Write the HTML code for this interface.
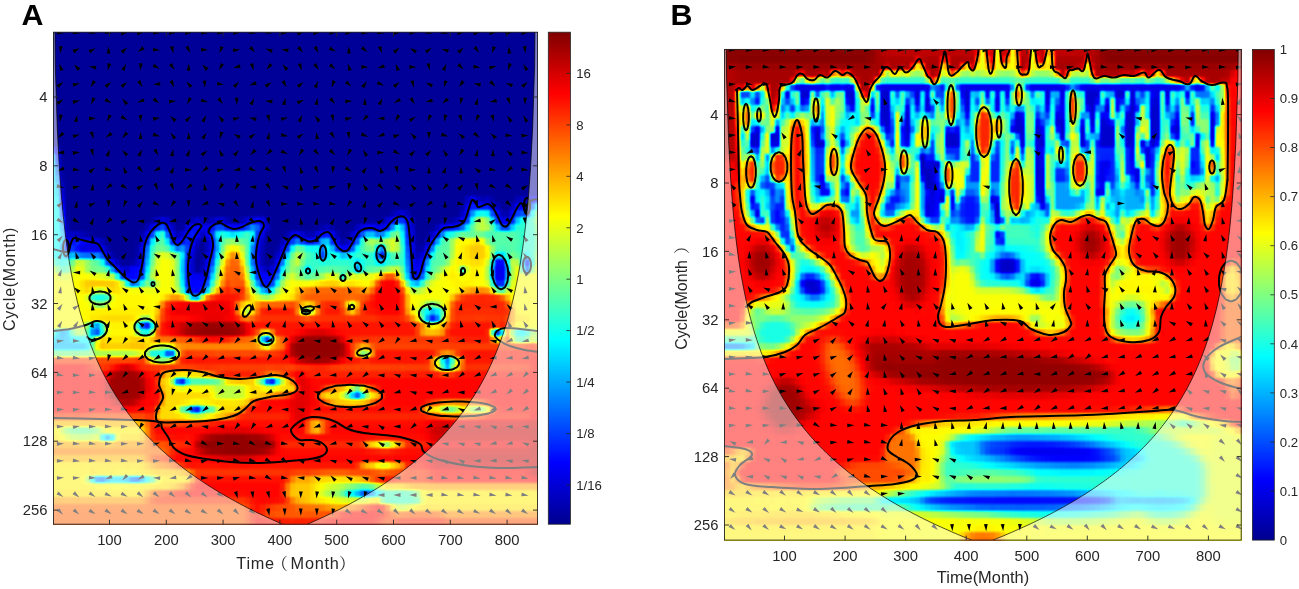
<!DOCTYPE html>
<html lang="en"><head><meta charset="utf-8"><title>Wavelet coherence figure</title>
<style>html,body{margin:0;padding:0;background:#fff}svg{display:block}text{font-family:'Liberation Sans','Noto Sans CJK SC',sans-serif;fill:#262626}</style>
</head><body>
<svg width="1299" height="589" viewBox="0 0 1299 589">
<defs>
<filter id="jet" filterUnits="userSpaceOnUse" x="0" y="0" width="1299" height="589" color-interpolation-filters="sRGB"><feFlood x="2" y="3" width="1" height="1" flood-color="#000" result="dot"/><feComposite in="dot" in2="dot" operator="over" x="0" y="0" width="5" height="7"/><feTile result="grid"/><feComposite in="SourceGraphic" in2="grid" operator="in"/><feMorphology operator="dilate" radius="2 3"/><feGaussianBlur stdDeviation="0.8"/><feComponentTransfer><feFuncR type="table" tableValues="0 0 0 0 0.5 1 1 1 0.5"/><feFuncG type="table" tableValues="0 0 0.5 1 1 1 0.5 0 0"/><feFuncB type="table" tableValues="0.56 1 1 1 0.5 0 0 0 0"/></feComponentTransfer></filter>
<filter id="b1" filterUnits="userSpaceOnUse" x="0" y="0" width="1299" height="589" color-interpolation-filters="sRGB"><feGaussianBlur stdDeviation="1"/></filter>
<filter id="b1_3" filterUnits="userSpaceOnUse" x="0" y="0" width="1299" height="589" color-interpolation-filters="sRGB"><feGaussianBlur stdDeviation="1.3"/></filter>
<filter id="b1_8" filterUnits="userSpaceOnUse" x="0" y="0" width="1299" height="589" color-interpolation-filters="sRGB"><feGaussianBlur stdDeviation="1.8"/></filter>
<filter id="b2" filterUnits="userSpaceOnUse" x="0" y="0" width="1299" height="589" color-interpolation-filters="sRGB"><feGaussianBlur stdDeviation="2"/></filter>
<filter id="b2_8" filterUnits="userSpaceOnUse" x="0" y="0" width="1299" height="589" color-interpolation-filters="sRGB"><feGaussianBlur stdDeviation="2.8"/></filter>
<filter id="b3" filterUnits="userSpaceOnUse" x="0" y="0" width="1299" height="589" color-interpolation-filters="sRGB"><feGaussianBlur stdDeviation="3"/></filter>
<filter id="b3_2" filterUnits="userSpaceOnUse" x="0" y="0" width="1299" height="589" color-interpolation-filters="sRGB"><feGaussianBlur stdDeviation="3.2"/></filter>
<filter id="b5" filterUnits="userSpaceOnUse" x="0" y="0" width="1299" height="589" color-interpolation-filters="sRGB"><feGaussianBlur stdDeviation="5"/></filter>
<clipPath id="clipA"><rect x="53.5" y="32.2" width="484" height="492"/></clipPath>
<clipPath id="clipB"><rect x="724.5" y="49.4" width="516.7" height="490.7"/></clipPath>
<linearGradient id="jetg" x1="0" y1="0" x2="0" y2="1"><stop offset="0" stop-color="#800000"/><stop offset="0.125" stop-color="#ff0000"/><stop offset="0.25" stop-color="#ff8000"/><stop offset="0.375" stop-color="#ffff00"/><stop offset="0.5" stop-color="#80ff80"/><stop offset="0.625" stop-color="#00ffff"/><stop offset="0.75" stop-color="#0080ff"/><stop offset="0.875" stop-color="#0000ff"/><stop offset="1" stop-color="#00008f"/></linearGradient>
</defs>
<rect width="1299" height="589" fill="#fff"/>
<g clip-path="url(#clipA)">
<g filter="url(#jet)">
<rect x="13.5" y="-7.8" width="564" height="572" fill="#030303"/>
<g filter="url(#b5)">
<rect x="20" y="236" width="560" height="120" fill="#9e9e9e"/>
<rect x="20" y="338" width="560" height="230" fill="#dedede"/>
<rect x="20" y="262" width="62" height="70" fill="#a3a3a3"/>
<ellipse cx="72" cy="288" rx="14" ry="22" fill="#b8b8b8"/>
<rect x="20" y="326" width="66" height="16" fill="#666666"/>
<rect x="20" y="420" width="128" height="110" fill="#a3a3a3"/>
<rect x="20" y="444" width="150" height="14" fill="#c2c2c2"/>
<rect x="20" y="500" width="230" height="40" fill="#c7c7c7"/>
<rect x="505" y="205" width="60" height="75" fill="#6b6b6b"/>
<rect x="512" y="285" width="60" height="40" fill="#999999"/>
<rect x="500" y="326" width="60" height="24" fill="#666666"/>
<rect x="430" y="420" width="140" height="62" fill="#ededed"/>
<rect x="392" y="484" width="180" height="30" fill="#a3a3a3"/>
<rect x="380" y="516" width="200" height="30" fill="#cccccc"/>
</g>
<g filter="url(#b3_2)">
<path d="M53 249 L60 251 L66 252 L69 250 L71 243 L74 238 L82 240 L90 242 L98 244 L103 252 L108 260 L116 268 L126 278 L134 282.5 L139 278 L143 260 L144.5 246 L148 236 L154 228 L161 223 L166 224 L170 232 L174 242 L178 245 L183 240 L188 232 L193 226 L198 224 L201.5 226 L199 230 L194 238 L190 250 L188 266 L189 284 L192 294 L196 295.7 L201 292 L206 278 L210 260 L213 246 L211.5 236 L208.5 232 L212 226 L220 223 L226 226 L234 229 L242 227 L250 223 L258 221 L262 222 L264 226 L260 234 L257 246 L256 260 L259 274 L263 284 L266.5 287 L270.5 282 L276 270 L282 256 L288 242 L295 235 L302 238.5 L309 241.5 L316 240 L322 234 L328 232 L332 236 L337 246 L343 251 L348 250 L353 242 L358 233 L364 229 L372 228 L380 231 L386 228 L392 221 L398 217 L404 217 L408 223 L410 240 L412 264 L413 276 L416 279 L420 274 L424 260 L430 246 L438 234 L444 228 L452 227 L460 225 L465 220 L469 208 L472 200 L475 202 L478 207 L482 206 L488 204 L493 208 L498 217 L502 225 L507 226 L512 218 L517 208 L521 203 L524 208 L526 213 L528 204 L532 200 L538 199 L560 199 L560 345 L20 345 L20 249Z" fill="#9e9e9e" stroke="#787878" stroke-width="24" stroke-linejoin="round"/>
<path d="M53 249 L60 251 L66 252 L69 250 L71 243 L74 238 L82 240 L90 242 L98 244 L103 252 L108 260 L116 268 L126 278 L134 282.5 L139 278 L143 260 L144.5 246 L148 236 L154 228 L161 223 L166 224 L170 232 L174 242 L178 245 L183 240 L188 232 L193 226 L198 224 L201.5 226 L199 230 L194 238 L190 250 L188 266 L189 284 L192 294 L196 295.7 L201 292 L206 278 L210 260 L213 246 L211.5 236 L208.5 232 L212 226 L220 223 L226 226 L234 229 L242 227 L250 223 L258 221 L262 222 L264 226 L260 234 L257 246 L256 260 L259 274 L263 284 L266.5 287 L270.5 282 L276 270 L282 256 L288 242 L295 235 L302 238.5 L309 241.5 L316 240 L322 234 L328 232 L332 236 L337 246 L343 251 L348 250 L353 242 L358 233 L364 229 L372 228 L380 231 L386 228 L392 221 L398 217 L404 217 L408 223 L410 240 L412 264 L413 276 L416 279 L420 274 L424 260 L430 246 L438 234 L444 228 L452 227 L460 225 L465 220 L469 208 L472 200 L475 202 L478 207 L482 206 L488 204 L493 208 L498 217 L502 225 L507 226 L512 218 L517 208 L521 203 L524 208 L526 213 L528 204 L532 200 L538 199 L560 199 L560 345 L20 345 L20 249Z" fill="none" stroke="#4c4c4c" stroke-width="12" stroke-linejoin="round"/>
<ellipse cx="352" cy="260" rx="52" ry="13" fill="#6b6b6b"/>
<ellipse cx="310" cy="272" rx="16" ry="8" fill="#737373"/>
<ellipse cx="470" cy="238" rx="34" ry="9" fill="#6b6b6b"/>
<ellipse cx="100" cy="254" rx="26" ry="7" fill="#6b6b6b"/>
<ellipse cx="285" cy="262" rx="8" ry="14" fill="#737373"/>
<ellipse cx="148" cy="252" rx="6" ry="14" fill="#6b6b6b"/>
<ellipse cx="222" cy="236" rx="22" ry="6" fill="#6b6b6b"/>
<ellipse cx="245" cy="238" rx="10" ry="8" fill="#737373"/>
<ellipse cx="432" cy="262" rx="8" ry="16" fill="#737373"/>
<ellipse cx="527" cy="240" rx="12" ry="30" fill="#6b6b6b"/>
<ellipse cx="64" cy="262" rx="10" ry="12" fill="#6b6b6b"/>
<path d="M150 352C151.3 345.7 155.3 330.7 158 322C160.7 313.3 159 304.3 166 300C173 295.7 191 297.7 200 296C209 294.3 215.8 295.3 220 290C224.2 284.7 222.7 269.8 225 264C227.3 258.2 231 255 234 255C237 255 240.8 257.8 243 264C245.2 270.2 244.8 285.7 247 292C249.2 298.3 250.2 300.2 256 302C261.8 303.8 274.7 303.2 282 303C289.3 302.8 292 301.5 300 301C308 300.5 319.3 300.2 330 300C340.7 299.8 357.2 301.3 364 300C370.8 298.7 368.5 295.5 371 292C373.5 288.5 375.5 281.7 379 279C382.5 276.3 388.2 275.2 392 276C395.8 276.8 399.7 278.3 402 284C404.3 289.7 403 303.3 406 310C409 316.7 413.3 321.3 420 324C426.7 326.7 440.7 329.7 446 326C451.3 322.3 448 307.8 452 302C456 296.2 462 292.5 470 291C478 289.5 493 289.8 500 293C507 296.2 510 303.5 512 310C514 316.5 506.5 326.2 512 332C517.5 337.8 539.5 340.3 545 345C550.5 349.7 610.8 357.5 545 360C479.2 362.5 215.8 361.3 150 360C84.2 358.7 148.7 358.3 150 352Z" fill="#dbdbdb"/>
<ellipse cx="234" cy="272" rx="9" ry="20" fill="#c7c7c7"/>
<ellipse cx="205" cy="322" rx="40" ry="22" fill="#e6e6e6"/>
<ellipse cx="390" cy="300" rx="16" ry="26" fill="#e0e0e0"/>
<ellipse cx="333" cy="294" rx="38" ry="9" fill="#c7c7c7"/>
<ellipse cx="480" cy="305" rx="30" ry="14" fill="#d6d6d6"/>
<ellipse cx="462" cy="262" rx="20" ry="26" fill="#a3a3a3"/>
<ellipse cx="478" cy="250" rx="10" ry="14" fill="#adadad"/>
<ellipse cx="506" cy="243" rx="15" ry="17" fill="#757575"/>
<ellipse cx="440" cy="250" rx="13" ry="20" fill="#757575"/>
<ellipse cx="110" cy="268" rx="26" ry="8" fill="#7a7a7a"/>
<ellipse cx="162" cy="240" rx="8" ry="12" fill="#757575"/>
<rect x="95" y="338" width="190" height="12" fill="#b8b8b8"/>
<ellipse cx="247" cy="309" rx="11" ry="10" fill="#a8a8a8"/>
<ellipse cx="308" cy="309" rx="12" ry="6" fill="#a8a8a8"/>
<ellipse cx="352" cy="307" rx="9" ry="6" fill="#a8a8a8"/>
<ellipse cx="230" cy="351" rx="50" ry="3.5" fill="#c4c4c4"/>
<ellipse cx="330" cy="371" rx="120" ry="3" fill="#c7c7c7" opacity="0.6"/>
<ellipse cx="400" cy="340" rx="60" ry="3" fill="#c7c7c7" opacity="0.6"/>
<ellipse cx="118" cy="310" rx="34" ry="34" fill="#a1a1a1"/>
<ellipse cx="100" cy="286" rx="20" ry="10" fill="#adadad"/>
<ellipse cx="150" cy="478" rx="45" ry="14" fill="#a3a3a3"/>
<rect x="90" y="314.5" width="440" height="7" fill="#bdbdbd" opacity="0.35"/>
<rect x="90" y="342.5" width="440" height="7" fill="#bdbdbd" opacity="0.5"/>
<rect x="90" y="363.5" width="440" height="7" fill="#bdbdbd" opacity="0.45"/>
<rect x="90" y="412.5" width="440" height="7" fill="#bdbdbd" opacity="0.35"/>
<rect x="90" y="440.5" width="440" height="7" fill="#bdbdbd" opacity="0.4"/>
<rect x="90" y="468.5" width="440" height="7" fill="#bdbdbd" opacity="0.45"/>
<ellipse cx="126" cy="386" rx="20" ry="20" fill="#f7f7f7"/>
<ellipse cx="214" cy="330" rx="34" ry="10" fill="#fafafa"/>
<ellipse cx="318" cy="349" rx="30" ry="16" fill="#fafafa"/>
<ellipse cx="236" cy="445" rx="42" ry="13" fill="#fafafa"/>
<ellipse cx="300" cy="400" rx="10" ry="30" fill="#e6e6e6"/>
<ellipse cx="335" cy="492" rx="50" ry="17" fill="#a3a3a3"/>
<ellipse cx="360" cy="492" rx="40" ry="8" fill="#858585"/>
<ellipse cx="300" cy="490" rx="14" ry="14" fill="#adadad"/>
<ellipse cx="300" cy="512" rx="40" ry="8" fill="#c7c7c7"/>
<ellipse cx="420" cy="522" rx="30" ry="8" fill="#d6d6d6"/>
</g>
<g filter="url(#b2)">
<path d="M20 10 L560 10 L560 199 L538 199 L532 200 L528 204 L526 213 L524 208 L521 203 L517 208 L512 218 L507 226 L502 225 L498 217 L493 208 L488 204 L482 206 L478 207 L475 202 L472 200 L469 208 L465 220 L460 225 L452 227 L444 228 L438 234 L430 246 L424 260 L420 274 L416 279 L413 276 L412 264 L410 240 L408 223 L404 217 L398 217 L392 221 L386 228 L380 231 L372 228 L364 229 L358 233 L353 242 L348 250 L343 251 L337 246 L332 236 L328 232 L322 234 L316 240 L309 241.5 L302 238.5 L295 235 L288 242 L282 256 L276 270 L270.5 282 L266.5 287 L263 284 L259 274 L256 260 L257 246 L260 234 L264 226 L262 222 L258 221 L250 223 L242 227 L234 229 L226 226 L220 223 L212 226 L208.5 232 L211.5 236 L213 246 L210 260 L206 278 L201 292 L196 295.7 L192 294 L189 284 L188 266 L190 250 L194 238 L199 230 L201.5 226 L198 224 L193 226 L188 232 L183 240 L178 245 L174 242 L170 232 L166 224 L161 223 L154 228 L148 236 L144.5 246 L143 260 L139 278 L134 282.5 L126 278 L116 268 L108 260 L103 252 L98 244 L90 242 L82 240 L74 238 L71 243 L69 250 L66 252 L60 251 L53 249 L20 249Z" fill="#030303"/>
<path d="M53 249 L60 251 L66 252 L69 250 L71 243 L74 238 L82 240 L90 242 L98 244 L103 252 L108 260 L116 268 L126 278 L134 282.5 L139 278 L143 260 L144.5 246 L148 236 L154 228 L161 223 L166 224 L170 232 L174 242 L178 245 L183 240 L188 232 L193 226 L198 224 L201.5 226 L199 230 L194 238 L190 250 L188 266 L189 284 L192 294 L196 295.7 L201 292 L206 278 L210 260 L213 246 L211.5 236 L208.5 232 L212 226 L220 223 L226 226 L234 229 L242 227 L250 223 L258 221 L262 222 L264 226 L260 234 L257 246 L256 260 L259 274 L263 284 L266.5 287 L270.5 282 L276 270 L282 256 L288 242 L295 235 L302 238.5 L309 241.5 L316 240 L322 234 L328 232 L332 236 L337 246 L343 251 L348 250 L353 242 L358 233 L364 229 L372 228 L380 231 L386 228 L392 221 L398 217 L404 217 L408 223 L410 240 L412 264 L413 276 L416 279 L420 274 L424 260 L430 246 L438 234 L444 228 L452 227 L460 225 L465 220 L469 208 L472 200 L475 202 L478 207 L482 206 L488 204 L493 208 L498 217 L502 225 L507 226 L512 218 L517 208 L521 203 L524 208 L526 213 L528 204 L532 200 L538 199" fill="none" stroke="#212121" stroke-width="9" stroke-linecap="round" stroke-linejoin="round" opacity="0.85"/>
<path d="M20 150 L56 150 L59 180 L62.5 215 L66 245 L67 262 L20 262Z" fill="#616161"/>
<ellipse cx="134" cy="273" rx="7" ry="9" fill="#212121"/>
<ellipse cx="196" cy="284" rx="6" ry="11" fill="#212121"/>
<ellipse cx="266" cy="278" rx="5" ry="8" fill="#212121"/>
<ellipse cx="415" cy="268" rx="3" ry="9" fill="#1f1f1f"/>
<ellipse cx="88" cy="248" rx="13" ry="5" fill="#0f0f0f"/>
<ellipse cx="88" cy="254" rx="16" ry="4" fill="#333333"/>
<ellipse cx="323" cy="253" rx="3.2" ry="7.5" fill="#1f1f1f"/>
<ellipse cx="381" cy="254" rx="4.5" ry="8.5" fill="#1f1f1f"/>
<ellipse cx="358" cy="267" rx="3" ry="4.5" fill="#262626"/>
<ellipse cx="343" cy="278" rx="2.5" ry="3" fill="#333333"/>
<ellipse cx="308" cy="271" rx="2.5" ry="3" fill="#333333"/>
<ellipse cx="463" cy="271" rx="3" ry="3" fill="#404040"/>
<ellipse cx="153" cy="284" rx="2.5" ry="3" fill="#404040"/>
<ellipse cx="500" cy="272" rx="12" ry="22" fill="#5c5c5c" opacity="0.7"/>
<ellipse cx="500" cy="272" rx="7.5" ry="16" fill="#1a1a1a"/>
<ellipse cx="527" cy="265" rx="4" ry="8" fill="#1f1f1f"/>
<ellipse cx="527" cy="206" rx="3" ry="8" fill="#080808"/>
<ellipse cx="66" cy="248" rx="3" ry="8" fill="#1a1a1a"/>
<ellipse cx="100" cy="298" rx="11" ry="7" fill="#666666"/>
<ellipse cx="96" cy="329" rx="10" ry="7" fill="#5c5c5c"/>
<ellipse cx="96" cy="330" rx="5" ry="4.5" fill="#1f1f1f"/>
<ellipse cx="145" cy="327" rx="10" ry="8" fill="#616161"/>
<ellipse cx="146" cy="325" rx="5.5" ry="4.5" fill="#1f1f1f"/>
<ellipse cx="306" cy="312" rx="6" ry="3" fill="#6b6b6b"/>
<ellipse cx="247" cy="311" rx="3" ry="6" fill="#858585" transform="rotate(30 247 311)"/>
<ellipse cx="308" cy="309" rx="7" ry="3" fill="#737373"/>
<ellipse cx="352" cy="307" rx="4" ry="3" fill="#737373"/>
<ellipse cx="432" cy="314" rx="13" ry="10" fill="#666666"/>
<ellipse cx="433" cy="317" rx="6" ry="5" fill="#1f1f1f"/>
<ellipse cx="498" cy="334" rx="7" ry="5" fill="#242424"/>
<ellipse cx="63" cy="335" rx="10" ry="4" fill="#333333"/>
<ellipse cx="520" cy="336" rx="12" ry="4" fill="#333333"/>
<ellipse cx="162" cy="354" rx="19" ry="10" fill="#9e9e9e"/>
<ellipse cx="162" cy="354" rx="15" ry="7" fill="#666666"/>
<ellipse cx="170" cy="353" rx="4.5" ry="4" fill="#1f1f1f"/>
<ellipse cx="266" cy="339" rx="10" ry="8" fill="#9e9e9e"/>
<ellipse cx="266" cy="339" rx="6.5" ry="5" fill="#5c5c5c"/>
<ellipse cx="267" cy="341" rx="4.5" ry="4" fill="#1f1f1f"/>
<ellipse cx="364" cy="352" rx="10" ry="6" fill="#a3a3a3"/>
<ellipse cx="364" cy="352" rx="6" ry="3" fill="#6b6b6b"/>
<ellipse cx="447" cy="363" rx="16" ry="10" fill="#a3a3a3"/>
<ellipse cx="447" cy="363" rx="9" ry="6" fill="#6b6b6b"/>
<ellipse cx="447" cy="364" rx="4.5" ry="4.5" fill="#1a1a1a"/>
<ellipse cx="432" cy="331" rx="14" ry="4" fill="#a8a8a8"/>
<path d="M159 384C159.2 381.3 160.2 376.2 162 374C163.8 371.8 166 371.7 170 371C174 370.3 180.7 369.8 186 370C191.3 370.2 196.3 370.8 202 372C207.7 373.2 213.7 375.8 220 377C226.3 378.2 233.3 379 240 379C246.7 379 254 377.7 260 377C266 376.3 271.3 374.8 276 375C280.7 375.2 284.7 376.5 288 378C291.3 379.5 294.5 382 296 384C297.5 386 298 388.3 297 390C296 391.7 294.5 392.8 290 394C285.5 395.2 276 395.8 270 397C264 398.2 258 399.2 254 401C250 402.8 248.7 405.8 246 408C243.3 410.2 241.3 412.3 238 414C234.7 415.7 231.3 416.8 226 418C220.7 419.2 213.7 420.3 206 421C198.3 421.7 187.8 421.8 180 422C172.2 422.2 163 423 159 422C155 421 156.2 418.3 156 416C155.8 413.7 156.8 411 158 408C159.2 405 162.5 401 163 398C163.5 395 161.7 392.3 161 390C160.3 387.7 158.8 386.7 159 384Z" fill="#a8a8a8"/>
<ellipse cx="198" cy="382" rx="27" ry="4.5" fill="#707070"/>
<ellipse cx="181" cy="382" rx="6.5" ry="4" fill="#1a1a1a"/>
<ellipse cx="270" cy="382" rx="14" ry="4.5" fill="#757575"/>
<ellipse cx="271" cy="382" rx="6.5" ry="4" fill="#1a1a1a"/>
<ellipse cx="198" cy="410" rx="20" ry="5.5" fill="#707070"/>
<ellipse cx="196" cy="410" rx="6.5" ry="4" fill="#1a1a1a"/>
<ellipse cx="230" cy="392" rx="18" ry="8" fill="#8f8f8f"/>
<ellipse cx="350" cy="396" rx="31" ry="10" fill="#a8a8a8"/>
<ellipse cx="356" cy="394" rx="14" ry="5" fill="#757575"/>
<ellipse cx="357" cy="393" rx="6" ry="4" fill="#1a1a1a"/>
<ellipse cx="458" cy="409" rx="36" ry="7" fill="#a3a3a3"/>
<ellipse cx="450" cy="409" rx="10" ry="4" fill="#7a7a7a"/>
<ellipse cx="478" cy="409" rx="10" ry="4" fill="#808080"/>
<ellipse cx="316" cy="427" rx="12" ry="3.5" fill="#9e9e9e"/>
<ellipse cx="316" cy="427" rx="4" ry="2.5" fill="#5c5c5c"/>
<ellipse cx="384" cy="445" rx="20" ry="3.5" fill="#9e9e9e"/>
<ellipse cx="386" cy="445" rx="7" ry="3" fill="#737373"/>
<ellipse cx="382" cy="467" rx="24" ry="3.5" fill="#9e9e9e"/>
<ellipse cx="384" cy="467" rx="8" ry="2.5" fill="#808080"/>
<ellipse cx="364" cy="492" rx="22" ry="4.5" fill="#575757"/>
<ellipse cx="366" cy="492" rx="9" ry="3" fill="#242424"/>
<ellipse cx="400" cy="496" rx="20" ry="4" fill="#4c4c4c"/>
<ellipse cx="82" cy="433" rx="22" ry="4" fill="#6b6b6b"/>
<ellipse cx="108" cy="438" rx="8" ry="3" fill="#333333"/>
<ellipse cx="122" cy="479" rx="36" ry="3.5" fill="#4c4c4c"/>
<ellipse cx="100" cy="479" rx="8" ry="3" fill="#262626"/>
<ellipse cx="136" cy="479" rx="8" ry="3" fill="#262626"/>
<ellipse cx="400" cy="498" rx="22" ry="9" fill="#707070"/>
</g>
</g>
<g fill="none" stroke="#000" stroke-width="2" stroke-linejoin="round" stroke-linecap="round">
<path d="M53 249C54.2 249.3 57.8 250.5 60 251C62.2 251.5 64.5 252.2 66 252C67.5 251.8 68.2 251.5 69 250C69.8 248.5 70.2 245 71 243C71.8 241 72.2 238.5 74 238C75.8 237.5 79.3 239.3 82 240C84.7 240.7 87.3 241.3 90 242C92.7 242.7 95.8 242.3 98 244C100.2 245.7 101.3 249.3 103 252C104.7 254.7 105.8 257.3 108 260C110.2 262.7 113 265 116 268C119 271 123 275.6 126 278C129 280.4 131.8 282.5 134 282.5C136.2 282.5 137.5 281.8 139 278C140.5 274.2 142.1 265.3 143 260C143.9 254.7 143.7 250 144.5 246C145.3 242 146.4 239 148 236C149.6 233 151.8 230.2 154 228C156.2 225.8 159 223.7 161 223C163 222.3 164.5 222.5 166 224C167.5 225.5 168.7 229 170 232C171.3 235 172.7 239.8 174 242C175.3 244.2 176.5 245.3 178 245C179.5 244.7 181.3 242.2 183 240C184.7 237.8 186.3 234.3 188 232C189.7 229.7 191.3 227.3 193 226C194.7 224.7 196.6 224 198 224C199.4 224 201.3 225 201.5 226C201.7 227 200.2 228 199 230C197.8 232 195.5 234.7 194 238C192.5 241.3 191 245.3 190 250C189 254.7 188.2 260.3 188 266C187.8 271.7 188.3 279.3 189 284C189.7 288.7 190.8 292.1 192 294C193.2 295.9 194.5 296 196 295.7C197.5 295.4 199.3 294.9 201 292C202.7 289.1 204.5 283.3 206 278C207.5 272.7 208.8 265.3 210 260C211.2 254.7 212.8 250 213 246C213.2 242 212.2 238.3 211.5 236C210.8 233.7 208.4 233.7 208.5 232C208.6 230.3 210.1 227.5 212 226C213.9 224.5 217.7 223 220 223C222.3 223 223.7 225 226 226C228.3 227 231.3 228.8 234 229C236.7 229.2 239.3 228 242 227C244.7 226 247.3 224 250 223C252.7 222 256 221.2 258 221C260 220.8 261 221.2 262 222C263 222.8 264.3 224 264 226C263.7 228 261.2 230.7 260 234C258.8 237.3 257.7 241.7 257 246C256.3 250.3 255.7 255.3 256 260C256.3 264.7 257.8 270 259 274C260.2 278 261.8 281.8 263 284C264.2 286.2 265.2 287.3 266.5 287C267.8 286.7 268.9 284.8 270.5 282C272.1 279.2 274.1 274.3 276 270C277.9 265.7 280 260.7 282 256C284 251.3 285.8 245.5 288 242C290.2 238.5 292.7 235.6 295 235C297.3 234.4 299.7 237.4 302 238.5C304.3 239.6 306.7 241.2 309 241.5C311.3 241.8 313.8 241.2 316 240C318.2 238.8 320 235.3 322 234C324 232.7 326.3 231.7 328 232C329.7 232.3 330.5 233.7 332 236C333.5 238.3 335.2 243.5 337 246C338.8 248.5 341.2 250.3 343 251C344.8 251.7 346.3 251.5 348 250C349.7 248.5 351.3 244.8 353 242C354.7 239.2 356.2 235.2 358 233C359.8 230.8 361.7 229.8 364 229C366.3 228.2 369.3 227.7 372 228C374.7 228.3 377.7 231 380 231C382.3 231 384 229.7 386 228C388 226.3 390 222.8 392 221C394 219.2 396 217.7 398 217C400 216.3 402.3 216 404 217C405.7 218 407 219.2 408 223C409 226.8 409.3 233.2 410 240C410.7 246.8 411.5 258 412 264C412.5 270 412.3 273.5 413 276C413.7 278.5 414.8 279.3 416 279C417.2 278.7 418.7 277.2 420 274C421.3 270.8 422.3 264.7 424 260C425.7 255.3 427.7 250.3 430 246C432.3 241.7 435.7 237 438 234C440.3 231 441.7 229.2 444 228C446.3 226.8 449.3 227.5 452 227C454.7 226.5 457.8 226.2 460 225C462.2 223.8 463.5 222.8 465 220C466.5 217.2 467.8 211.3 469 208C470.2 204.7 471 201 472 200C473 199 474 200.8 475 202C476 203.2 476.8 206.3 478 207C479.2 207.7 480.3 206.5 482 206C483.7 205.5 486.2 203.7 488 204C489.8 204.3 491.3 205.8 493 208C494.7 210.2 496.5 214.2 498 217C499.5 219.8 500.5 223.5 502 225C503.5 226.5 505.3 227.2 507 226C508.7 224.8 510.3 221 512 218C513.7 215 515.5 210.5 517 208C518.5 205.5 519.8 203 521 203C522.2 203 523.2 206.3 524 208C524.8 209.7 525.3 213.7 526 213C526.7 212.3 527 206.2 528 204C529 201.8 530.3 200.8 532 200C533.7 199.2 537 199.2 538 199"/>
<path d="M326.2 253C326.2 255.2 326.3 254.3 325.9 256.3C325.5 258.2 325.7 257.5 325 258.9C324.3 260.2 324.6 259.8 323.7 260.3C322.8 260.8 323.2 260.8 322.3 260.3C321.4 259.8 321.7 260.2 321 258.9C320.3 257.5 320.5 258.2 320.1 256.3C319.7 254.3 319.8 255.2 319.8 253C319.8 250.8 319.7 251.7 320.1 249.7C320.5 247.8 320.3 248.5 321 247.1C321.7 245.8 321.4 246.2 322.3 245.7C323.2 245.2 322.8 245.2 323.7 245.7C324.6 246.2 324.3 245.8 325 247.1C325.7 248.5 325.5 247.8 325.9 249.7C326.3 251.7 326.2 250.8 326.2 253Z"/>
<path d="M385.5 254C385.5 256.5 385.6 255.5 385.1 257.7C384.5 259.9 384.8 259.1 383.8 260.6C382.8 262.2 383.3 261.7 382 262.3C380.7 262.8 381.3 262.8 380 262.3C378.7 261.7 379.2 262.2 378.2 260.6C377.2 259.1 377.5 259.9 376.9 257.7C376.4 255.5 376.5 256.5 376.5 254C376.5 251.5 376.4 252.5 376.9 250.3C377.5 248.1 377.2 248.9 378.2 247.4C379.2 245.8 378.7 246.3 380 245.7C381.3 245.2 380.7 245.2 382 245.7C383.3 246.3 382.8 245.8 383.8 247.4C384.8 248.9 384.5 248.1 385.1 250.3C385.6 252.5 385.5 251.5 385.5 254Z"/>
<path d="M360.8 266C361.3 267.2 361.2 266.7 361.2 267.9C361.3 269.1 361.3 268.7 361 269.7C360.6 270.7 360.8 270.3 360.1 270.9C359.4 271.5 359.8 271.3 358.9 271.4C358 271.4 358.4 271.5 357.4 270.9C356.5 270.4 356.9 270.7 356.1 269.8C355.4 268.8 355.6 269.2 355.2 268C354.7 266.8 354.8 267.3 354.8 266.1C354.7 264.9 354.7 265.3 355 264.3C355.4 263.3 355.2 263.7 355.9 263.1C356.6 262.5 356.2 262.7 357.1 262.6C358 262.6 357.6 262.5 358.6 263.1C359.5 263.6 359.1 263.3 359.9 264.2C360.6 265.2 360.4 264.8 360.8 266Z"/>
<path d="M345.5 278C345.5 278.9 345.6 278.5 345.3 279.3C344.9 280.1 345.1 279.8 344.6 280.3C344 280.9 344.3 280.7 343.6 280.9C342.9 281.1 343.1 281.1 342.4 280.9C341.7 280.7 342 280.9 341.4 280.3C340.9 279.8 341.1 280.1 340.7 279.3C340.4 278.5 340.5 278.9 340.5 278C340.5 277.1 340.4 277.5 340.7 276.7C341.1 275.9 340.9 276.2 341.4 275.7C342 275.1 341.7 275.3 342.4 275.1C343.1 274.9 342.9 274.9 343.6 275.1C344.3 275.3 344 275.1 344.6 275.7C345.1 276.2 344.9 275.9 345.3 276.7C345.6 277.5 345.5 277.1 345.5 278Z"/>
<path d="M310 271C310 271.7 310.1 271.4 309.8 272.1C309.6 272.7 309.7 272.5 309.2 273C308.8 273.4 309 273.3 308.4 273.4C307.9 273.6 308.1 273.6 307.6 273.4C307 273.3 307.2 273.4 306.8 273C306.3 272.5 306.4 272.7 306.2 272.1C305.9 271.4 306 271.7 306 271C306 270.3 305.9 270.6 306.2 269.9C306.4 269.3 306.3 269.5 306.8 269C307.2 268.6 307 268.7 307.6 268.6C308.1 268.4 307.9 268.4 308.4 268.6C309 268.7 308.8 268.6 309.2 269C309.7 269.5 309.6 269.3 309.8 269.9C310.1 270.6 310 270.3 310 271Z"/>
<path d="M465 271C465 271.9 465.1 271.5 464.8 272.3C464.6 273.1 464.7 272.8 464.2 273.3C463.8 273.9 464 273.7 463.4 273.9C462.9 274.1 463.1 274.1 462.6 273.9C462 273.7 462.2 273.9 461.8 273.3C461.3 272.8 461.4 273.1 461.2 272.3C460.9 271.5 461 271.9 461 271C461 270.1 460.9 270.5 461.2 269.7C461.4 268.9 461.3 269.2 461.8 268.7C462.2 268.1 462 268.3 462.6 268.1C463.1 267.9 462.9 267.9 463.4 268.1C464 268.3 463.8 268.1 464.2 268.7C464.7 269.2 464.6 268.9 464.8 269.7C465.1 270.5 465 270.1 465 271Z"/>
<path d="M154.5 284C154.5 284.6 154.5 284.3 154.4 284.9C154.2 285.4 154.3 285.2 153.9 285.6C153.6 285.9 153.8 285.8 153.3 285.9C152.9 286.1 153.1 286.1 152.7 285.9C152.2 285.8 152.4 285.9 152.1 285.6C151.7 285.2 151.8 285.4 151.6 284.9C151.5 284.3 151.5 284.6 151.5 284C151.5 283.4 151.5 283.7 151.6 283.1C151.8 282.6 151.7 282.8 152.1 282.4C152.4 282.1 152.2 282.2 152.7 282.1C153.1 281.9 152.9 281.9 153.3 282.1C153.8 282.2 153.6 282.1 153.9 282.4C154.3 282.8 154.2 282.6 154.4 283.1C154.5 283.7 154.5 283.4 154.5 284Z"/>
<path d="M508 271.3C508.4 276.2 508.4 274.2 507.8 278.7C507.2 283.2 507.7 281.6 506.1 284.8C504.6 288 505.4 287.1 503.2 288.4C501.1 289.6 502 289.6 499.7 288.7C497.3 287.8 498.3 288.6 496.2 285.7C494.1 282.8 494.8 284.3 493.5 280C492.1 275.7 492.5 277.6 492 272.7C491.6 267.8 491.6 269.8 492.2 265.3C492.8 260.8 492.3 262.4 493.9 259.2C495.4 256 494.6 256.9 496.8 255.6C498.9 254.4 498 254.4 500.3 255.3C502.7 256.2 501.7 255.4 503.8 258.3C505.9 261.2 505.2 259.7 506.5 264C507.9 268.3 507.5 266.4 508 271.3Z"/>
<path d="M531 265C531 267.3 531.1 266.4 530.6 268.5C530.1 270.6 530.4 269.8 529.5 271.3C528.6 272.7 529 272.3 527.9 272.8C526.8 273.3 527.2 273.3 526.1 272.8C525 272.3 525.4 272.7 524.5 271.3C523.6 269.8 523.9 270.6 523.4 268.5C522.9 266.4 523 267.3 523 265C523 262.7 522.9 263.6 523.4 261.5C523.9 259.4 523.6 260.2 524.5 258.7C525.4 257.3 525 257.7 526.1 257.2C527.2 256.7 526.8 256.7 527.9 257.2C529 257.7 528.6 257.3 529.5 258.7C530.4 260.2 530.1 259.4 530.6 261.5C531.1 263.6 531 262.7 531 265Z"/>
<path d="M530 206C530 208.3 530.1 207.4 529.7 209.5C529.3 211.6 529.5 210.8 528.9 212.3C528.2 213.7 528.5 213.3 527.7 213.8C526.8 214.3 527.2 214.3 526.3 213.8C525.5 213.3 525.8 213.7 525.1 212.3C524.5 210.8 524.7 211.6 524.3 209.5C523.9 207.4 524 208.3 524 206C524 203.7 523.9 204.6 524.3 202.5C524.7 200.4 524.5 201.2 525.1 199.7C525.8 198.3 525.5 198.7 526.3 198.2C527.2 197.7 526.8 197.7 527.7 198.2C528.5 198.7 528.2 198.3 528.9 199.7C529.5 201.2 529.3 200.4 529.7 202.5C530.1 204.6 530 203.7 530 206Z"/>
<path d="M69 248C69 250.3 69.1 249.4 68.7 251.5C68.3 253.6 68.5 252.8 67.9 254.3C67.2 255.7 67.5 255.3 66.7 255.8C65.8 256.3 66.2 256.3 65.3 255.8C64.5 255.3 64.8 255.7 64.1 254.3C63.5 252.8 63.7 253.6 63.3 251.5C62.9 249.4 63 250.3 63 248C63 245.7 62.9 246.6 63.3 244.5C63.7 242.4 63.5 243.2 64.1 241.7C64.8 240.3 64.5 240.7 65.3 240.2C66.2 239.7 65.8 239.7 66.7 240.2C67.5 240.7 67.2 240.3 67.9 241.7C68.5 243.2 68.3 242.4 68.7 244.5C69.1 246.6 69 245.7 69 248Z"/>
<path d="M110.5 298C110.5 299.9 110.8 299.1 109.5 300.8C108.1 302.5 108.9 301.9 106.5 303.1C104.2 304.3 105.3 303.9 102.3 304.3C99.4 304.8 100.6 304.8 97.7 304.3C94.7 303.9 95.8 304.3 93.5 303.1C91.1 301.9 91.9 302.5 90.5 300.8C89.2 299.1 89.5 299.9 89.5 298C89.5 296.1 89.2 296.9 90.5 295.2C91.9 293.5 91.1 294.1 93.5 292.9C95.8 291.7 94.7 292.1 97.7 291.7C100.6 291.2 99.4 291.2 102.3 291.7C105.3 292.1 104.2 291.7 106.5 292.9C108.9 294.1 108.1 293.5 109.5 295.2C110.8 296.9 110.5 296.1 110.5 298Z"/>
<path d="M155.5 327C155.5 329.5 155.8 328.5 154.5 330.7C153.1 332.9 153.9 332.1 151.5 333.6C149.2 335.2 150.3 334.7 147.3 335.3C144.4 335.8 145.6 335.8 142.7 335.3C139.7 334.7 140.8 335.2 138.5 333.6C136.1 332.1 136.9 332.9 135.5 330.7C134.2 328.5 134.5 329.5 134.5 327C134.5 324.5 134.2 325.5 135.5 323.3C136.9 321.1 136.1 321.9 138.5 320.4C140.8 318.8 139.7 319.3 142.7 318.7C145.6 318.2 144.4 318.2 147.3 318.7C150.3 319.3 149.2 318.8 151.5 320.4C153.9 321.9 153.1 321.1 154.5 323.3C155.8 325.5 155.5 324.5 155.5 327Z"/>
<path d="M310 312C310 312.6 310.1 312.4 309.6 313C309.1 313.5 309.4 313.3 308.5 313.7C307.6 314.1 308 314 306.9 314.1C305.8 314.3 306.2 314.3 305.1 314.1C304 314 304.4 314.1 303.5 313.7C302.6 313.3 302.9 313.5 302.4 313C301.9 312.4 302 312.6 302 312C302 311.4 301.9 311.6 302.4 311C302.9 310.5 302.6 310.7 303.5 310.3C304.4 309.9 304 310 305.1 309.9C306.2 309.7 305.8 309.7 306.9 309.9C308 310 307.6 309.9 308.5 310.3C309.4 310.7 309.1 310.5 309.6 311C310.1 311.6 310 311.4 310 312Z"/>
<path d="M249.6 312.5C248.7 314.1 249.1 313.5 247.9 314.8C246.8 316.1 247.3 315.7 246.1 316.3C244.9 317 245.4 316.9 244.4 316.8C243.5 316.8 243.8 316.9 243.3 316.2C242.7 315.4 242.8 315.8 242.8 314.5C242.8 313.1 242.7 313.7 243.2 312.1C243.8 310.4 243.5 311.1 244.4 309.5C245.3 307.9 244.9 308.5 246.1 307.2C247.2 305.9 246.7 306.3 247.9 305.7C249.1 305 248.6 305.1 249.6 305.2C250.5 305.2 250.2 305.1 250.7 305.8C251.3 306.6 251.2 306.2 251.2 307.5C251.2 308.9 251.3 308.3 250.8 309.9C250.2 311.6 250.5 310.9 249.6 312.5Z"/>
<path d="M313.9 308C314 308.7 314.1 308.4 313.5 309.1C312.9 309.9 313.3 309.6 312 310.3C310.8 311 311.4 310.7 309.7 311.2C308.1 311.6 308.8 311.5 307.1 311.6C305.4 311.8 306.1 311.8 304.7 311.6C303.2 311.4 303.7 311.5 302.9 311C302 310.5 302.2 310.8 302.1 310C302 309.3 301.9 309.6 302.5 308.9C303.1 308.1 302.7 308.4 304 307.7C305.2 307 304.6 307.3 306.3 306.8C307.9 306.4 307.2 306.5 308.9 306.4C310.6 306.2 309.9 306.2 311.3 306.4C312.8 306.6 312.3 306.5 313.1 307C314 307.5 313.8 307.2 313.9 308Z"/>
<path d="M354.2 307C354.2 307.6 354.3 307.4 354 308C353.7 308.5 353.9 308.3 353.4 308.7C352.9 309.1 353.1 309 352.5 309.1C351.9 309.3 352.1 309.3 351.5 309.1C350.9 309 351.1 309.1 350.6 308.7C350.1 308.3 350.3 308.5 350 308C349.7 307.4 349.8 307.6 349.8 307C349.8 306.4 349.7 306.6 350 306C350.3 305.5 350.1 305.7 350.6 305.3C351.1 304.9 350.9 305 351.5 304.9C352.1 304.7 351.9 304.7 352.5 304.9C353.1 305 352.9 304.9 353.4 305.3C353.9 305.7 353.7 305.5 354 306C354.3 306.6 354.2 306.4 354.2 307Z"/>
<path d="M445 314C445 316.9 445.3 315.7 443.7 318.3C442.1 320.9 443 320 440.1 321.8C437.2 323.6 438.6 323.1 434.9 323.7C431.2 324.4 432.8 324.4 429.1 323.7C425.4 323.1 426.8 323.6 423.9 321.8C421 320 421.9 320.9 420.3 318.3C418.7 315.7 419 316.9 419 314C419 311.1 418.7 312.3 420.3 309.7C421.9 307.1 421 308 423.9 306.2C426.8 304.4 425.4 304.9 429.1 304.3C432.8 303.6 431.2 303.6 434.9 304.3C438.6 304.9 437.2 304.4 440.1 306.2C443 308 442.1 307.1 443.7 309.7C445.3 312.3 445 311.1 445 314Z"/>
<path d="M179 354C179 356.5 179.5 355.5 177.3 357.7C175.2 359.9 176.4 359.1 172.6 360.6C168.8 362.2 170.6 361.7 165.8 362.3C161 362.8 163 362.8 158.2 362.3C153.4 361.7 155.2 362.2 151.4 360.6C147.6 359.1 148.8 359.9 146.7 357.7C144.5 355.5 145 356.5 145 354C145 351.5 144.5 352.5 146.7 350.3C148.8 348.1 147.6 348.9 151.4 347.4C155.2 345.8 153.4 346.3 158.2 345.7C163 345.2 161 345.2 165.8 345.7C170.6 346.3 168.8 345.8 172.6 347.4C176.4 348.9 175.2 348.1 177.3 350.3C179.5 352.5 179 351.5 179 354Z"/>
<path d="M273.5 339C273.5 340.7 273.7 340 272.8 341.6C271.8 343.2 272.4 342.6 270.7 343.7C269 344.8 269.8 344.5 267.7 344.8C265.6 345.2 266.4 345.2 264.3 344.8C262.2 344.5 263 344.8 261.3 343.7C259.6 342.6 260.2 343.2 259.2 341.6C258.3 340 258.5 340.7 258.5 339C258.5 337.3 258.3 338 259.2 336.4C260.2 334.8 259.6 335.4 261.3 334.3C263 333.2 262.2 333.5 264.3 333.2C266.4 332.8 265.6 332.8 267.7 333.2C269.8 333.5 269 333.2 270.7 334.3C272.4 335.4 271.8 334.8 272.8 336.4C273.7 338 273.5 337.3 273.5 339Z"/>
<path d="M370.8 350.5C371.1 351.5 371.2 351.1 370.5 352.2C369.8 353.2 370.3 352.8 368.8 353.8C367.4 354.7 368.1 354.4 366.2 355C364.3 355.6 365.2 355.5 363.2 355.7C361.2 355.9 362 355.9 360.3 355.6C358.6 355.3 359.2 355.5 358.1 354.8C357.1 354.1 357.4 354.4 357.2 353.5C356.9 352.5 356.8 352.9 357.5 351.8C358.2 350.8 357.7 351.2 359.2 350.2C360.6 349.3 359.9 349.6 361.8 349C363.7 348.4 362.8 348.5 364.8 348.3C366.8 348.1 366 348.1 367.7 348.4C369.4 348.7 368.8 348.5 369.9 349.2C370.9 349.9 370.6 349.6 370.8 350.5Z"/>
<path d="M459 363C459 365 459.3 364.2 457.8 366C456.3 367.9 457.2 367.2 454.5 368.5C451.8 369.7 453.1 369.4 449.7 369.8C446.3 370.3 447.7 370.3 444.3 369.8C440.9 369.4 442.2 369.7 439.5 368.5C436.8 367.2 437.7 367.9 436.2 366C434.7 364.2 435 365 435 363C435 361 434.7 361.8 436.2 360C437.7 358.1 436.8 358.8 439.5 357.5C442.2 356.3 440.9 356.6 444.3 356.2C447.7 355.7 446.3 355.7 449.7 356.2C453.1 356.6 451.8 356.3 454.5 357.5C457.2 358.8 456.3 358.1 457.8 360C459.3 361.8 459 361 459 363Z"/>
<path d="M382 396C382 399.2 382.8 397.9 378.8 400.8C374.8 403.6 377.2 402.6 370 404.6C362.7 406.6 366.1 406 357.1 406.7C348.1 407.4 351.9 407.4 342.9 406.7C333.9 406 337.3 406.6 330 404.6C322.8 402.6 325.2 403.6 321.2 400.8C317.2 397.9 318 399.2 318 396C318 392.8 317.2 394.1 321.2 391.2C325.2 388.4 322.8 389.4 330 387.4C337.3 385.4 333.9 386 342.9 385.3C351.9 384.6 348.1 384.6 357.1 385.3C366.1 386 362.7 385.4 370 387.4C377.2 389.4 374.8 388.4 378.8 391.2C382.8 394.1 382 392.8 382 396Z"/>
<path d="M495 409C495 411.2 496 410.3 491.3 412.3C486.7 414.2 489.4 413.5 481.1 414.9C472.7 416.2 476.7 415.8 466.2 416.3C455.8 416.8 460.2 416.8 449.8 416.3C439.3 415.8 443.3 416.2 434.9 414.9C426.6 413.5 429.3 414.2 424.7 412.3C420 410.3 421 411.2 421 409C421 406.8 420 407.7 424.7 405.7C429.3 403.8 426.6 404.5 434.9 403.1C443.3 401.8 439.3 402.2 449.8 401.7C460.2 401.2 455.8 401.2 466.2 401.7C476.7 402.2 472.7 401.8 481.1 403.1C489.4 404.5 486.7 403.8 491.3 405.7C496 407.7 495 406.8 495 409Z"/>
<path d="M159 384C159.2 381.3 160.2 376.2 162 374C163.8 371.8 166 371.7 170 371C174 370.3 180.7 369.8 186 370C191.3 370.2 196.3 370.8 202 372C207.7 373.2 213.7 375.8 220 377C226.3 378.2 233.3 379 240 379C246.7 379 254 377.7 260 377C266 376.3 271.3 374.8 276 375C280.7 375.2 284.7 376.5 288 378C291.3 379.5 294.5 382 296 384C297.5 386 298 388.3 297 390C296 391.7 294.5 392.8 290 394C285.5 395.2 276 395.8 270 397C264 398.2 258 399.2 254 401C250 402.8 248.7 405.8 246 408C243.3 410.2 241.3 412.3 238 414C234.7 415.7 231.3 416.8 226 418C220.7 419.2 213.7 420.3 206 421C198.3 421.7 187.8 421.8 180 422C172.2 422.2 163 423 159 422C155 421 156.2 418.3 156 416C155.8 413.7 156.8 411 158 408C159.2 405 162.5 401 163 398C163.5 395 161.7 392.3 161 390C160.3 387.7 158.8 386.7 159 384Z"/>
<path d="M53 331C55.8 330.7 64.5 330 70 329C75.5 328 81.7 326.3 86 325C90.3 323.7 93 321.3 96 321C99 320.7 102.2 321.5 104 323C105.8 324.5 107.3 327.7 107 330C106.7 332.3 104.5 335.3 102 337C99.5 338.7 94.5 340 92 340C89.5 340 87.8 337.5 87 337"/>
<path d="M53 418C60.8 418.2 86.2 418.7 100 419C113.8 419.3 126.2 419.5 136 420C145.8 420.5 154.7 420.7 159 422C163.3 423.3 160.5 425.5 162 428C163.5 430.5 166 433.7 168 437C170 440.3 171 445 174 448C177 451 180.7 453.2 186 455C191.3 456.8 198.7 457.8 206 459C213.3 460.2 221 461.3 230 462C239 462.7 250 463.2 260 463C270 462.8 281.7 461.7 290 461C298.3 460.3 304.7 459.8 310 459C315.3 458.2 319.2 457.5 322 456C324.8 454.5 327 452.2 327 450C327 447.8 324.5 444.7 322 443C319.5 441.3 315.7 440.5 312 440C308.3 439.5 303 440.7 300 440C297 439.3 295.5 437.7 294 436C292.5 434.3 290.7 432 291 430C291.3 428 293.8 425.8 296 424C298.2 422.2 301.3 420.2 304 419C306.7 417.8 308.7 417.2 312 417C315.3 416.8 320 417.2 324 418C328 418.8 332 420.2 336 422C340 423.8 343.3 427.2 348 429C352.7 430.8 358 432 364 433C370 434 377.3 434.2 384 435C390.7 435.8 398 436.5 404 438C410 439.5 416.7 441.7 420 444C423.3 446.3 420.7 449.3 424 452C427.3 454.7 432.3 457.7 440 460C447.7 462.3 460 464.7 470 466C480 467.3 488.7 467.8 500 468C511.3 468.2 531.7 467.2 538 467"/>
<path d="M538 331C535 330.7 525.5 329.5 520 329C514.5 328.5 508.8 327.7 505 328C501.2 328.3 498.7 329.7 497 331C495.3 332.3 494.5 334.3 495 336C495.5 337.7 497.5 339.3 500 341C502.5 342.7 505.8 344.5 510 346C514.2 347.5 520.3 349 525 350C529.7 351 535.8 351.7 538 352"/>
</g>
<path fill="#000" d="M64.1 33.1L56.8 34.4L57.1 30.6ZM80.1 33.2L72.7 34.3L73.2 30.5ZM96 33.9L88.5 33.5L89.7 29.9ZM112.1 33.3L104.7 34.1L105.3 30.4ZM128 31.8L121.7 35.7L120.6 32ZM144.1 31.8L137.6 35.6L136.6 31.9ZM160.2 32.9L153 34.6L153.1 30.8ZM176.2 32.8L169 34.7L169 30.9ZM192.2 32.4L185.3 35.1L184.9 31.3ZM208.3 32.9L201 34.6L201.1 30.8ZM224.3 33L217 34.5L217.2 30.7ZM240.3 32.7L233.2 34.8L233.1 31ZM256.3 33.5L248.8 33.9L249.6 30.2ZM272.1 34.1L264.7 33.3L266.1 29.7ZM288.4 32.7L281.2 34.8L281.2 31ZM304.2 31.6L298 35.8L296.8 32.2ZM320.4 32.3L313.5 35.2L313 31.5ZM336.4 32.7L329.3 34.8L329.2 31ZM352.4 32.4L345.5 35.1L345.1 31.3ZM368.5 32.9L361.2 34.6L361.3 30.8ZM384.5 33.3L377.1 34.2L377.6 30.5ZM400.5 32.5L393.5 35L393.2 31.2ZM416.5 32.7L409.4 34.8L409.3 31ZM432.4 34L424.9 33.4L426.2 29.8ZM448.5 33.8L441 33.7L442 30ZM464.6 32.3L457.7 35.2L457.2 31.5ZM480.5 32L473.9 35.5L473.1 31.8ZM496.6 32.4L489.7 35.1L489.2 31.3ZM512.6 32.2L505.8 35.3L505.2 31.6ZM528.7 32.6L521.6 34.9L521.4 31.1ZM60 53.5L59.1 46.1L62.9 46.6ZM79.7 48.3L74.2 53.2L72.5 49.8ZM95.7 48.3L90.2 53.3L88.5 49.9ZM108.6 46.3L110.4 53.5L106.6 53.5ZM127.3 47.6L123.1 53.7L120.6 50.8ZM137.7 52L142.4 46.3L144.6 49.4ZM160.2 50.2L152.9 51.6L153.2 47.8ZM173.6 53.4L169.8 47L173.5 45.9ZM190.3 53.1L185.3 47.6L188.7 45.8ZM208.3 50.1L201 51.6L201.2 47.8ZM219.5 53.3L220.2 45.9L223.7 47.2ZM240.3 49.5L233.4 52.3L232.9 48.5ZM255.1 52.6L249 48.4L251.8 46ZM265.4 48.5L272.8 49.6L271.3 53.1ZM281.2 49.4L288.6 48.5L288.1 52.3ZM303.1 52.7L297 48.4L299.9 45.9ZM318.5 53.1L313.4 47.7L316.8 45.8ZM336 51.6L328.8 50L330.5 46.6ZM348.7 46.3L350.9 53.5L347.1 53.6ZM367.6 52.2L360.9 49.1L363.3 46.2ZM382.1 53.3L377.9 47.2L381.4 45.9ZM399.7 47.6L395.4 53.7L392.9 50.8ZM409.9 48.1L417 50.2L415 53.4ZM431.8 47.8L427.2 53.6L424.9 50.5ZM441.5 48.9L449 49.2L447.9 52.8ZM463.6 47.5L459.7 53.8L457.1 51ZM479.2 52.8L473.3 48.2L476.3 45.9ZM491.8 53.3L492.5 45.9L496 47.2ZM508.8 46.3L511.3 53.3L507.5 53.7ZM525.6 53.5L522.7 46.6L526.5 46.1ZM59.2 63.7L63.6 69.7L60.1 71.1ZM74 64.4L80.4 68.3L77.6 71ZM89 66.3L96.4 65.9L95.7 69.6ZM107.7 70.5L107.6 63.1L111.3 64ZM126.1 63.8L124.7 71.1L121.3 69.5ZM140.3 70.6L139 63.3L142.8 63.6ZM159.8 68.7L152.5 67.1L154.3 63.7ZM174.7 70L169 65.2L172.1 63ZM188.7 63.4L190.5 70.7L186.7 70.6ZM202.2 64.5L208.6 68.3L205.8 70.9ZM219 70.2L220.8 63L224.1 64.8ZM233.3 68L239.6 64.2L240.7 67.9ZM253.9 70.4L249.8 64.3L253.4 63ZM266.5 69.8L269.5 63L272.5 65.4ZM282.5 64.3L288.5 68.6L285.6 71ZM302.1 70.4L297.7 64.4L301.2 63ZM319 69.9L313.2 65.3L316.2 63ZM335.5 69.4L328.9 66.1L331.4 63.2ZM347.7 63.6L351.8 69.8L348.2 71.1ZM368.5 67.3L361.2 68.7L361.4 64.9ZM377.4 67.9L383.9 64.3L384.9 68ZM395.7 63.7L400 69.7L396.4 71.1ZM416.5 67.2L409.3 68.8L409.4 65ZM429.6 70.6L426.5 63.8L430.2 63.2ZM446.4 63.7L445.3 71.1L441.8 69.6ZM463.5 69.6L457.1 65.8L459.9 63.1ZM480.6 67.5L473.2 68.5L473.7 64.7ZM496.5 66.1L490 69.8L489.1 66.1ZM508.1 70.5L508.2 63.1L511.9 64.1ZM523.3 63.9L528.5 69.2L525.2 71.1ZM63.2 81.8L59 88L56.5 85.1ZM80.1 83.5L73.3 86.7L72.6 83ZM90.7 87.2L92.8 80.1L96 82.1ZM111.4 81.9L106.9 87.9L104.6 84.9ZM127.4 82L122.9 87.9L120.6 84.9ZM142.4 87.3L137.1 82L140.4 80.1ZM153 84.4L160.1 82L160.3 85.8ZM174 87.5L169.5 81.6L173 80.1ZM186.2 81.5L192.5 85.5L189.7 88.1ZM204.9 87.8L202.6 80.7L206.4 80.5ZM224.2 84.8L216.8 85.4L217.5 81.7ZM239.2 81.6L235.6 88.1L232.9 85.4ZM249.4 85.4L255.4 81.1L256.8 84.7ZM271.8 82.2L266.8 87.7L264.7 84.5ZM286.5 87.3L281.4 82L284.7 80.1ZM303.6 81.9L299.2 87.9L296.8 84.9ZM318.2 80.8L317.2 88.2L313.7 86.7ZM331.6 87.6L332.3 80.1L335.8 81.4ZM351.6 86.5L344.9 83.3L347.4 80.4ZM367 81.2L364.3 88.2L361.2 86ZM384.2 85.5L376.8 84.5L378.3 81ZM399.7 81.9L395.3 87.9L392.9 84.9ZM413.7 87.7L410.4 81L414.1 80.3ZM425.7 82.5L433 84.1L431.3 87.5ZM444.1 87.6L444.1 80.2L447.7 81.2ZM458.9 87.1L461.6 80.1L464.7 82.4ZM473.5 83.4L480.9 83L480.2 86.8ZM495.6 86.7L489.1 83L491.8 80.3ZM505.7 82.9L513.1 83.7L511.7 87.2ZM527.7 81.7L523.7 88L521.2 85.2ZM63.4 99.1L58.8 105L56.5 102ZM80 100.5L73.4 103.9L72.6 100.2ZM91.1 104.6L92.2 97.2L95.7 98.7ZM111.7 103L104.5 101.2L106.3 97.9ZM122.3 98.5L128.3 102.9L125.3 105.3ZM137.2 102.5L143.3 98.2L144.6 101.8ZM159.4 103.5L152.6 100.5L155 97.5ZM176.2 100.9L169.2 103.5L168.9 99.7ZM187.1 104.5L188.5 97.2L191.9 98.8ZM208.1 102.3L200.7 102.1L201.8 98.4ZM222.8 104.2L217.1 99.4L220.2 97.2ZM236.7 104.9L234.8 97.7L238.6 97.7ZM254.3 98.1L252.8 105.3L249.4 103.7ZM265.2 101.1L272.5 99.6L272.2 103.4ZM285.8 97.8L285.6 105.3L281.9 104.2ZM304.1 99.7L298.4 104.5L296.7 101.1ZM317.3 97.7L318.3 105.1L314.5 104.6ZM335.1 104.1L329.1 99.7L332.1 97.3ZM352.5 101.1L345.3 103.3L345.2 99.5ZM365 97.7L366.7 104.9L362.9 104.8ZM382.4 98L381.2 105.3L377.7 103.8ZM393.7 102.9L399.2 97.9L401 101.3ZM414.8 104.3L409.4 99.2L412.6 97.2ZM425.5 102.1L432 98.6L432.9 102.3ZM442.2 103.5L446.6 97.5L449 100.5ZM460.4 104.8L459.7 97.4L463.4 98ZM478 97.8L477.8 105.3L474.2 104.2ZM489.5 102L496.2 98.7L497 102.4ZM510.3 104.6L506 98.6L509.6 97.2ZM525.1 104.9L523.2 97.7L527 97.7ZM60 122L59.1 114.6L62.9 115.1ZM77.3 114.9L77.6 122.3L73.9 121.5ZM96.1 118.3L89 120.4L88.9 116.6ZM107 121.7L108.4 114.3L111.8 115.9ZM127.7 120.2L120.5 118.2L122.4 114.9ZM140.7 122L138.6 114.9L142.4 114.7ZM160.2 117.8L153.4 120.9L152.8 117.1ZM169.9 116.1L176.6 119.2L174.2 122.2ZM191.2 115.8L187.5 122.3L184.8 119.7ZM206.2 115.2L204.8 122.5L201.4 120.8ZM218.4 115.6L224.5 119.9L221.6 122.4ZM240.2 117.5L233.7 121.1L232.8 117.5ZM249.3 117.4L256.7 117.6L255.6 121.2ZM269.6 121.9L266.1 115.3L269.8 114.5ZM288.3 117.6L281.7 121.1L280.8 117.4ZM302.3 115.1L301 122.5L297.5 120.8ZM314.6 115.6L320.6 120L317.6 122.4ZM333.3 122L330.5 115.1L334.2 114.6ZM352.4 117.7L345.7 121L345 117.2ZM362.4 121L366 114.5L368.7 117.1ZM377.3 118.5L384.4 116.4L384.6 120.2ZM395 121.5L397.2 114.3L400.4 116.3ZM415.9 116.4L411 122L408.9 118.9ZM427.3 121.6L428.9 114.3L432.3 116ZM444.5 122L443.6 114.6L447.4 115.1ZM462.2 121.8L458 115.7L461.6 114.4ZM475.4 121.6L476.9 114.3L480.3 116ZM493.9 121.9L490.4 115.3L494.1 114.5ZM507.1 115.4L512.6 120.4L509.5 122.5ZM523.5 115.2L528.4 120.8L525 122.5ZM57.8 137.9L62 131.7L64.5 134.6ZM80 134.5L73.6 138.3L72.5 134.7ZM93.6 139L89.7 132.6L93.3 131.5ZM105.6 137.6L110.4 131.9L112.6 135ZM122.2 138.2L125.5 131.6L128.4 134ZM140.6 131.9L142.5 139.1L138.7 139.1ZM160 136.6L152.6 136.2L153.8 132.6ZM170.4 132.7L176.3 137.2L173.3 139.5ZM188.5 131.9L190.7 139L186.9 139.2ZM206.6 132.4L204.4 139.6L201.2 137.6ZM219.7 139L219.9 131.5L223.6 132.6ZM233.6 133.7L240.8 135.7L238.9 139ZM255.7 133.5L250.8 139.1L248.7 135.9ZM269.4 132L269.9 139.4L266.2 138.7ZM288.3 136.2L280.9 136.7L281.6 133ZM303.8 133.5L298.8 139.1L296.7 135.9ZM316.3 132L319.2 138.8L315.4 139.3ZM334.8 138.5L329.3 133.5L332.5 131.5ZM349.4 139.1L346.5 132.2L350.2 131.7ZM368.2 136.9L360.8 135.8L362.3 132.3ZM377.6 136.8L383.5 132.4L384.9 136ZM400.3 134.4L394.1 138.4L392.9 134.8ZM410.4 133L416.8 136.7L414.2 139.4ZM429 139.1L427 131.9L430.8 131.9ZM448.4 136.6L441 136.2L442.1 132.6ZM458.2 133.3L465 136.2L462.7 139.2ZM479.8 137.8L473 134.7L475.5 131.8ZM490.3 133.2L497 136.4L494.5 139.3ZM512.6 135.9L505.3 137L505.7 133.2ZM528.7 135.5L521.5 137.5L521.4 133.7ZM56.9 153L63.9 150.4L64.3 154.2ZM80.1 152.3L73.1 154.9L72.7 151.1ZM93.3 156.2L89.9 149.5L93.7 148.7ZM109.7 149.2L109.2 156.7L105.6 155.4ZM122.1 150.1L128.4 153.9L125.7 156.5ZM142.5 149.6L140.3 156.7L137.1 154.7ZM158.3 155.8L153.3 150.3L156.6 148.6ZM173.4 149.1L173.7 156.6L170 155.7ZM190 149.3L189.1 156.7L185.6 155.3ZM207.5 150.4L203 156.4L200.7 153.4ZM219 149.5L224.1 154.9L220.7 156.7ZM239.1 149.9L235.8 156.6L232.9 154.1ZM250.3 155.3L253.8 148.7L256.6 151.3ZM266.1 155.1L270.1 148.8L272.7 151.6ZM288.1 153.9L280.7 153.1L282.1 149.6ZM298.9 155.7L301.1 148.6L304.3 150.6ZM319.2 155.3L313 151.2L315.9 148.7ZM335.3 155.2L329 151.4L331.7 148.7ZM347.1 155.8L348.9 148.6L352.3 150.4ZM363.2 149.4L368.2 155L364.9 156.7ZM384.5 152.6L377.3 154.6L377.3 150.8ZM400.1 154.4L392.9 152.5L394.7 149.2ZM415.5 150.2L411.6 156.5L409 153.8ZM431.5 150.1L427.7 156.5L425.1 153.8ZM443.2 149.5L448.4 154.8L445.2 156.7ZM459.2 155.7L461.2 148.6L464.5 150.5ZM477.6 149.1L478.3 156.5L474.5 155.9ZM493.3 149L494.7 156.4L490.9 156.1ZM506.4 150.2L513 153.6L510.5 156.5ZM528.7 152.9L521.4 154.3L521.6 150.5ZM57.2 171.2L63.1 166.6L64.6 170.1ZM80.1 170.2L72.7 171.2L73.2 167.4ZM95.4 167.6L90.8 173.4L88.5 170.4ZM112.1 170.6L104.6 170.7L105.5 167ZM123.4 166.4L127.6 172.5L124 173.8ZM143 172.5L136.8 168.3L139.7 165.8ZM153.4 171.3L159 166.5L160.7 169.9ZM173.8 166.4L173.2 173.8L169.6 172.5ZM192.3 169.9L185 171.5L185.1 167.7ZM201.8 171.9L206.4 166.1L208.7 169.1ZM224.2 169L217.6 172.4L216.8 168.7ZM233.2 170.5L239.9 167.2L240.6 170.9ZM256.1 171.2L248.7 170.1L250.2 166.6ZM271.9 171.4L264.7 169.8L266.5 166.4ZM286 173.1L281.8 167L285.3 165.7ZM299.8 166.3L303.6 172.7L300 173.8ZM318.4 173L313.5 167.4L316.9 165.7ZM332.4 173.3L331.4 166L335.2 166.4ZM351.9 171.7L344.8 169.5L346.8 166.2ZM367 166.9L364.3 173.8L361.2 171.5ZM379.9 166.3L383.8 172.7L380.1 173.8ZM397.6 173.3L394.4 166.6L398.1 165.9ZM416.5 169.7L409.4 171.7L409.3 167.9ZM428.8 166.2L431 173.3L427.2 173.4ZM446.4 166.4L445.4 173.8L441.8 172.4ZM460.8 166.2L463.1 173.2L459.3 173.5ZM474.1 167.7L481.1 170.3L478.9 173.4ZM496.6 170.3L489.2 171.1L489.7 167.4ZM506.3 172.1L510.5 166L513 168.8ZM528.7 170.2L521.3 171.2L521.7 167.4ZM64 187.8L56.5 187.7L57.5 184.1ZM80.1 186.2L73.3 189.4L72.6 185.7ZM92.9 183.3L94.1 190.6L90.3 190.3ZM105.8 189.1L110.2 183.1L112.6 186.1ZM127.7 188.7L120.5 186.7L122.4 183.4ZM143.7 185L138.5 190.4L136.5 187.1ZM158.1 190.2L153.4 184.3L156.9 182.8ZM174.1 190.2L169.4 184.4L172.9 182.8ZM185.8 189.1L190.4 183.2L192.7 186.2ZM204 183.3L207.2 190.1L203.4 190.8ZM218.7 189.8L221.2 182.8L224.3 185ZM235 190.1L236.7 182.8L240.1 184.6ZM249.1 186.7L256.4 185.2L256.2 189ZM270.5 190L265.3 184.7L268.6 182.8ZM281.5 185.4L288.8 186.6L287.3 190.1ZM300.3 183.3L303.2 190.2L299.4 190.7ZM320.2 185.7L314 189.8L312.8 186.2ZM336.3 185.8L329.9 189.7L328.8 186.1ZM348.5 190.5L347.4 183.1L351.2 183.5ZM363 183.8L368.4 189L365.1 190.9ZM383.3 189.6L377.1 185.4L380 182.9ZM394 184.8L401 187.4L398.8 190.5ZM410.5 184.2L416.8 188.3L414 190.8ZM427 183.9L432.5 188.9L429.3 190.9ZM442.7 189.7L445.8 182.9L448.7 185.3ZM463.5 184.3L459.9 190.8L457.1 188.1ZM477.6 190.4L474.5 183.7L478.3 183ZM496.2 188.6L489 186.8L490.8 183.5ZM512.1 188.9L505 186.5L507.1 183.3ZM528.1 184.9L523.1 190.4L521 187.2ZM63.3 201.7L59 207.8L56.5 204.9ZM77.2 200.5L77.7 207.9L74 207.2ZM95.8 202.5L90.1 207.2L88.5 203.8ZM108.8 207.6L106.4 200.5L110.2 200.3ZM123.3 207.4L124.1 200L127.6 201.3ZM142.8 201.2L139.9 208L136.9 205.6ZM159.9 205.5L152.6 204.2L154.2 200.8ZM170.5 206.9L173.3 200L176.3 202.2ZM188.8 207.6L186.6 200.5L190.4 200.3ZM201.4 205.4L207.3 200.8L208.7 204.3ZM217.2 203.1L224.7 203L223.7 206.7ZM238.8 207L233.1 202.1L236.2 200ZM253.4 200.5L253.9 207.9L250.2 207.2ZM270.1 207.3L265.7 201.4L269.2 200ZM288.4 204.1L281.1 205.8L281.2 202ZM304.4 204.4L297 205.5L297.4 201.7ZM320.4 204.3L313.1 205.6L313.4 201.8ZM336.4 204.6L329 205.3L329.6 201.5ZM346.9 207L349.2 199.9L352.4 202ZM366 200.6L365.6 208L362 206.9ZM383.4 201.4L379.7 207.9L377 205.2ZM400.3 205.4L392.9 204.4L394.3 200.9ZM415.9 201.9L411.1 207.6L408.9 204.5ZM426 206.1L430.8 200.4L433 203.5ZM445 200.4L446.9 207.6L443.1 207.6ZM464.5 204.9L457 204.9L458 201.2ZM478.2 207.4L474 201.3L477.6 200ZM490.5 201.4L496.9 205.3L494.2 207.9ZM511.6 206.5L505.2 202.8L507.8 200.1ZM522.8 201.2L528.8 205.6L525.9 208ZM63.6 222.9L56.4 220.9L58.4 217.7ZM79.6 223L72.5 220.9L74.4 217.6ZM94 217.8L92.8 225.2L89.3 223.6ZM105.9 223.6L109.9 217.3L112.5 220.1ZM127.8 219.5L122.2 224.4L120.5 221.1ZM137 220.9L144.3 219.5L144.1 223.3ZM153 220.9L160.3 219.4L160.1 223.2ZM169.2 222.1L175.6 218.3L176.6 222ZM190.5 218L188.5 225.2L185.2 223.2ZM203.6 224.5L204 217.1L207.6 218.3ZM224 219.8L218.1 224.2L216.7 220.7ZM240 222.7L232.7 221.2L234.3 217.8ZM255.4 223.5L248.8 220.1L251.3 217.3ZM269.5 224.6L266.2 218L269.9 217.2ZM281.2 221.3L288.3 219L288.5 222.8ZM300.1 217.6L303.4 224.3L299.7 225ZM317.6 217.6L317.9 225L314.2 224.2ZM334.4 217.9L333 225.2L329.5 223.5ZM352 219.4L346.7 224.5L344.8 221.2ZM363.8 224.6L364.1 217.1L367.7 218.2ZM383.8 219L379.1 224.8L376.9 221.7ZM397.7 217.6L397.9 225.1L394.2 224.2ZM414.7 224.3L409.5 218.9L412.8 217.1ZM428.3 224.7L427.8 217.2L431.5 217.9ZM444.4 224.7L443.7 217.2L447.5 217.9ZM457.4 220.6L464.8 219.8L464.3 223.5ZM473.5 221.8L480.2 218.6L480.9 222.3ZM495.9 218.9L491.3 224.8L489 221.8ZM511.6 223.7L505.2 219.9L507.9 217.2ZM525.6 224.7L522.7 217.8L526.4 217.3ZM62.9 235.5L59.5 242.2L56.7 239.7ZM75.5 234.8L79.4 241.2L75.7 242.2ZM92 234.7L95 241.5L91.2 242.1ZM106.4 235.4L112.3 239.9L109.3 242.2ZM122 235.7L128.5 239.5L125.8 242.1ZM140.1 234.7L143 241.5L139.3 242.1ZM155.1 235L159.9 240.7L156.4 242.3ZM169.1 237.7L176.5 236.9L175.9 240.7ZM185.6 236.4L192.7 238.4L190.8 241.7ZM204.9 234.6L206.4 241.9L202.6 241.7ZM221.2 234.7L222.1 242.1L218.3 241.5ZM236.5 234.6L238.9 241.7L235.1 242ZM253.1 234.7L254.3 242L250.5 241.6ZM267.3 234.9L271.9 240.8L268.4 242.3ZM281.6 236.6L288.9 238.2L287.1 241.6ZM298.9 235.2L304.3 240.3L301.1 242.3ZM316.8 234.6L318.8 241.8L315 241.9ZM330.2 235.8L336.8 239.3L334.1 242.1ZM345.4 237.3L352.8 237.3L351.9 241ZM363 235.2L368.4 240.3L365.2 242.3ZM380.6 234.7L383.1 241.7L379.3 242ZM396.5 234.7L399.2 241.6L395.5 242ZM414 234.8L413.7 242.2L410.1 241.1ZM429.7 234.7L430.1 242.2L426.4 241.4ZM442.2 236L449 239L446.6 242ZM457.7 236.8L465.1 238L463.5 241.5ZM476.1 234.8L479.8 241.2L476.1 242.2ZM492.1 234.8L495.8 241.2L492.2 242.2ZM506 236.3L513.1 238.5L511.1 241.8ZM523.1 235.2L528.6 240.2L525.5 242.3ZM62.2 252.2L60.5 259.4L57.2 257.7ZM75.5 251.9L79.4 258.3L75.7 259.3ZM90.3 252.5L96.3 257L93.3 259.4ZM107.6 251.9L111.4 258.3L107.7 259.3ZM126.8 252.5L123.9 259.4L120.9 257.1ZM141.2 251.8L141.8 259.2L138.1 258.6ZM153.5 253.5L160.7 255.6L158.7 258.8ZM169.5 253.6L176.7 255.5L174.8 258.8ZM186.6 252.4L192.3 257.2L189.2 259.4ZM202.1 252.9L208.6 256.5L205.9 259.2ZM218.7 252.3L224.3 257.3L221.1 259.4ZM236.6 251.8L238.8 258.9L235 259ZM251.1 252.2L256.1 257.7L252.7 259.4ZM266.1 253L272.7 256.4L270.2 259.2ZM285.1 251.8L286.3 259.1L282.6 258.8ZM302.9 252.4L300.2 259.4L297.2 257.2ZM315.8 251.9L319.7 258.2L316.1 259.4ZM329.9 253.2L336.9 255.9L334.6 259ZM346.3 252.8L352.7 256.6L350.1 259.2ZM361.9 253.4L368.9 255.8L366.8 258.9ZM378 253.3L384.9 255.9L382.7 259ZM396.6 251.8L399.1 258.8L395.3 259.1ZM413.1 251.8L414.6 259.1L410.8 258.8ZM426.4 252.8L432.8 256.6L430.1 259.3ZM442.9 252.4L448.6 257.2L445.5 259.4ZM462.2 252L461.5 259.4L458 258.1ZM477.7 251.8L478.2 259.3L474.5 258.5ZM491.3 252.2L496.5 257.6L493.2 259.4ZM507 252.4L512.7 257.3L509.5 259.4ZM523 252.4L528.7 257.2L525.6 259.4ZM61.8 269.1L61 276.5L57.5 275.2ZM72.9 272.4L80.2 270.7L80.1 274.5ZM89.5 270.5L96.6 272.9L94.5 276ZM109.4 269L109.6 276.4L105.9 275.6ZM125 268.9L126.1 276.3L122.3 275.8ZM138.9 269.3L143.9 274.8L140.6 276.6ZM155.9 269L159.2 275.6L155.5 276.4ZM172.2 268.9L175 275.8L171.2 276.3ZM186.8 269.4L192.1 274.6L188.9 276.5ZM203.6 269L207.6 275.4L203.9 276.5ZM220.3 268.9L223 275.8L219.3 276.3ZM233.5 270.8L240.8 272.4L239.1 275.8ZM249.1 272.5L256.3 270.5L256.4 274.3ZM267 269.4L272.2 274.6L268.9 276.5ZM285.4 268.9L286 276.4L282.3 275.7ZM300.3 268.9L303.2 275.8L299.5 276.3ZM316.4 268.9L319.2 275.8L315.4 276.3ZM332.8 268.9L334.8 276.1L331 276.1ZM346.8 269.5L352.5 274.4L349.3 276.5ZM362.6 269.7L368.6 274.1L365.7 276.5ZM381 268.9L382.7 276.1L378.9 276ZM395.8 269.1L399.8 275.3L396.2 276.5ZM409.4 271.9L416.8 271.2L416.2 274.9ZM425.6 271.2L433 272L431.6 275.5ZM444 269L447.8 275.4L444.1 276.5ZM460.5 268.9L463.4 275.8L459.6 276.3ZM476.8 268.9L479.2 275.9L475.4 276.2ZM494.1 269L493.8 276.5L490.1 275.3ZM508.2 269L511.7 275.5L508.1 276.4ZM522.8 269.7L528.8 274.1L525.8 276.5ZM61 286L61.8 293.4L58.1 292.9ZM73.8 287.2L80.5 290.6L77.9 293.4ZM92 286L95 292.9L91.2 293.5ZM106.6 286.6L112.1 291.6L108.9 293.7ZM121.6 287.6L128.6 290L126.5 293.2ZM138.6 286.6L144.2 291.5L141.1 293.6ZM154.6 286.6L160.2 291.5L157.1 293.6ZM170.5 286.7L176.3 291.4L173.2 293.6ZM189.7 286.2L189.4 293.6L185.8 292.5ZM207 286.8L203.9 293.6L200.9 291.2ZM219.2 286.3L223.9 292.1L220.5 293.7ZM233.5 288L240.8 289.5L239.1 292.9ZM250.8 286.6L256.3 291.6L253.1 293.7ZM267.1 286.4L272.1 291.9L268.8 293.7ZM282.1 287.2L288.7 290.6L286.2 293.4ZM299 286.5L304.2 291.8L301 293.7ZM315.4 286.3L320 292.1L316.5 293.7ZM330 287.4L336.9 290.3L334.5 293.3ZM347.3 286.4L352.2 292L348.8 293.7ZM367.1 286.8L364.2 293.6L361.2 291.3ZM382.2 286.2L381.4 293.6L377.8 292.3ZM394.6 286.9L400.7 291.1L397.8 293.6ZM410.4 287.1L416.8 290.7L414.2 293.5ZM426.8 286.7L432.6 291.4L429.6 293.6ZM442.1 287.5L449 290.2L446.8 293.2ZM458.8 286.7L464.7 291.3L461.7 293.6ZM476.7 286L479.3 293L475.5 293.4ZM491 286.7L496.7 291.4L493.6 293.6ZM506 287.7L513.1 289.9L511.1 293.1ZM524.7 286L527.4 293L523.6 293.4ZM62.5 303.8L60 310.8L56.9 308.6ZM79.5 304.7L74.6 310.3L72.5 307.2ZM92.3 303.1L94.7 310.2L90.9 310.4ZM107.4 303.3L111.5 309.5L108 310.7ZM123.2 303.4L127.7 309.3L124.2 310.8ZM137.3 305.3L144.7 306.4L143.1 309.9ZM153 306.3L160.4 305.3L160 309ZM171.3 303.4L175.7 309.4L172.2 310.8ZM189.3 303.2L189.8 310.6L186.1 309.9ZM202.9 303.6L208.1 308.9L204.8 310.8ZM218.6 303.8L224.3 308.5L221.3 310.8ZM236.7 303.1L238.6 310.3L234.8 310.3ZM252.5 303.1L254.9 310.2L251.1 310.4ZM267.8 303.3L271.6 309.6L267.9 310.7ZM284.8 303.1L286.7 310.3L282.9 310.3ZM299 303.6L304.2 308.9L300.9 310.8ZM313.2 306.7L320.4 304.8L320.4 308.6ZM329.5 305.4L336.9 306.3L335.5 309.8ZM348.7 303.1L351 310.2L347.2 310.4ZM364.6 303.1L367.1 310.1L363.3 310.5ZM379.2 303.5L384.3 309L380.9 310.8ZM396.4 303.2L399.3 310L395.6 310.6ZM412.5 303.2L415.3 310L411.5 310.5ZM427.2 303.6L432.4 308.9L429.1 310.8ZM444.6 303.1L447.2 310.1L443.5 310.5ZM461.5 303.2L462.4 310.5L458.6 310ZM474.1 304.6L481.1 307.3L478.8 310.4ZM489.4 306.9L496.6 304.7L496.7 308.5ZM506.6 304.1L512.9 308L510.2 310.6ZM524.4 303.2L527.6 309.9L523.9 310.6ZM62.3 320.7L60.3 327.9L57 326ZM78.4 320.8L76.2 327.9L73 325.9ZM93.1 320.3L93.8 327.7L90.1 327.1ZM110 320.5L108.9 327.9L105.4 326.4ZM122.7 320.8L128.1 326L124.8 327.9ZM137.7 321.7L144.6 324.4L142.4 327.5ZM156.1 320.3L159 327.2L155.2 327.7ZM172.4 320.3L174.8 327.3L171 327.6ZM185.7 321.8L192.7 324.3L190.5 327.5ZM201.5 322.1L208.7 323.9L206.9 327.3ZM218.4 321L224.4 325.4L221.5 327.8ZM234.3 321.2L240.6 325.2L237.8 327.8ZM251.7 320.4L255.6 326.8L251.9 327.8ZM270.9 320.9L268.2 327.9L265.1 325.7ZM285.5 320.3L285.9 327.8L282.2 327ZM298 321.5L304.8 324.7L302.4 327.6ZM314.5 321.1L320.6 325.4L317.7 327.8ZM332.4 320.3L335.2 327.2L331.4 327.6ZM347 320.8L352.4 325.9L349.1 327.9ZM362.1 321.6L368.9 324.6L366.5 327.6ZM378.8 320.9L384.5 325.7L381.4 327.9ZM394.2 321.5L400.9 324.8L398.4 327.6ZM410 321.7L417 324.4L414.7 327.5ZM429.5 320.3L430.3 327.7L426.6 327.1ZM447.4 321.2L443.9 327.8L441.1 325.2ZM460.3 320.3L463.6 327L459.9 327.8ZM474.4 321.4L481 324.9L478.4 327.7ZM491.5 320.6L496.3 326.3L492.8 327.9ZM507.7 320.5L512.2 326.4L508.7 327.9ZM523.1 320.8L528.6 325.8L525.5 327.9ZM64.1 340.5L57.2 343.3L56.7 339.6ZM80.1 341L72.9 342.8L73 339ZM89.4 342.7L94.8 337.6L96.6 340.9ZM106.8 344.1L108.7 336.9L112 338.8ZM122.6 344L125 336.9L128.2 339ZM137 341.5L143.8 338.5L144.5 342.3ZM153 341L160.2 339L160.2 342.8ZM169.3 342.3L175.2 337.8L176.7 341.3ZM185.4 342.5L191.1 337.7L192.7 341.2ZM201.8 343.1L206.5 337.3L208.7 340.4ZM219.1 344.2L220.6 336.9L224 338.6ZM234.3 343.6L237.8 337L240.6 339.6ZM249.2 341.4L256.1 338.6L256.5 342.4ZM265.4 342.2L271.5 338L272.8 341.6ZM282.2 343.5L286 337.1L288.7 339.8ZM297.4 342.1L303.6 338L304.8 341.6ZM313.3 340.5L320.6 339.6L320.1 343.3ZM329.2 341L336.4 339L336.5 342.8ZM345.3 340.9L352.5 339.1L352.4 342.9ZM361.3 340.8L368.6 339.2L368.4 343ZM378 343.1L382.7 337.3L384.9 340.4ZM394.8 343.9L397.5 336.9L400.6 339.1ZM409.4 341.8L416 338.3L416.9 342ZM425.4 340.3L432.8 339.8L432.1 343.5ZM441.5 341.8L448.1 338.3L448.9 342ZM457.5 341.8L464.1 338.3L464.9 342ZM473.5 340.2L480.9 339.8L480.2 343.5ZM489.5 340.3L496.9 339.7L496.3 343.4ZM505.8 342.4L511.6 337.8L513.1 341.2ZM521.6 341.7L528.2 338.4L529 342.1ZM64.1 358.6L56.7 359.4L57.2 355.7ZM80.1 358.4L72.7 359.6L73.1 355.8ZM96.1 357.5L89.3 360.5L88.7 356.8ZM107.8 361.6L107.4 354.2L111.2 354.9ZM122 360.6L125.8 354.2L128.5 356.9ZM137.7 360.2L142.4 354.4L144.6 357.5ZM153.5 359.9L158.7 354.6L160.7 357.9ZM169.1 358.5L176 355.8L176.4 359.5ZM185.2 359.1L191.6 355.3L192.6 358.9ZM202.1 360.6L205.9 354.2L208.6 356.9ZM217.4 359.5L223.3 354.9L224.8 358.4ZM233.1 357.7L240.5 356.5L240.1 360.3ZM249.5 359.6L255.2 354.9L256.8 358.3ZM266.8 361.1L269.1 354L272.3 356.1ZM282.2 360.6L286.1 354.2L288.7 357ZM297.7 360L302.8 354.6L304.9 357.8ZM313.7 359.8L319 354.7L320.9 358ZM329.2 357.8L336.6 356.4L336.3 360.2ZM345.5 356.8L352.9 357.6L351.5 361.2ZM361.4 358.9L367.9 355.4L368.8 359.1ZM377.7 359.8L383.2 354.7L385 358.1ZM393.3 357.7L400.7 356.6L400.3 360.4ZM409.4 357.4L416.8 356.9L416.1 360.6ZM425.6 359.4L431.6 355L433 358.5ZM441.7 359.6L447.4 354.8L449 358.3ZM457.6 359.2L463.8 355.1L465 358.7ZM473.9 359.8L479.3 354.7L481.1 358ZM489.5 358.5L496.4 355.8L496.8 359.6ZM505.5 358.5L512.4 355.8L512.8 359.6ZM521.6 358.9L528.2 355.5L529 359.2ZM64 375.9L56.6 376.3L57.4 372.6ZM80.1 375.2L72.9 377.1L72.9 373.3ZM96.1 375.1L89 377.2L88.9 373.4ZM105.7 377.3L110.3 371.5L112.6 374.6ZM122.3 378L125.3 371.2L128.3 373.6ZM138.2 377.9L141.6 371.3L144.4 373.8ZM153.4 376.8L159 371.9L160.7 375.3ZM170.1 377.8L173.8 371.3L176.5 374ZM187.3 378.5L188.2 371.2L191.8 372.6ZM201.5 376.9L206.9 371.8L208.7 375.1ZM217.2 374.5L224.6 374.1L223.8 377.8ZM233.1 375.4L240.2 373.1L240.4 376.9ZM249.3 376.4L255.5 372.2L256.8 375.8ZM265.3 376.2L271.7 372.4L272.7 376.1ZM281.8 377.3L286.6 371.6L288.8 374.7ZM298.3 377.8L301.9 371.3L304.6 373.9ZM313.3 376.2L319.8 372.4L320.8 376.1ZM329.3 375.5L336.2 373L336.6 376.8ZM346.1 377.6L350.3 371.4L352.8 374.3ZM362.1 377.5L366.4 371.4L368.9 374.4ZM377.3 374.9L384.7 373.6L384.3 377.4ZM393.5 374.1L400.9 374.5L399.8 378.1ZM409.4 374.7L416.8 373.8L416.3 377.5ZM425.5 374.4L432.9 374.2L432 377.9ZM441.4 375.3L448.5 373.2L448.6 377ZM458.2 377.4L462.7 371.5L465 374.5ZM473.7 376.7L479.5 372L481.1 375.4ZM489.7 376.5L495.7 372.1L497.1 375.7ZM505.9 377L511.2 371.7L513.1 375ZM522.6 377.8L526.2 371.3L528.9 373.9ZM64.1 392.1L57 394.4L56.8 390.7ZM80.1 392.4L72.9 394.2L72.9 390.4ZM96.1 392.5L88.8 394L89.1 390.2ZM112.2 392.3L105 394.2L105 390.4ZM121.2 393.5L127.4 389.4L128.6 393ZM137 392.2L144.3 390.5L144.1 394.3ZM153.8 394.5L158.3 388.6L160.6 391.6ZM171.8 395.8L171.7 388.4L175.4 389.3ZM186.5 395.2L189.4 388.3L192.4 390.6ZM201.5 394L207 389L208.8 392.3ZM217.7 394.4L222.6 388.7L224.7 391.9ZM233.4 393.7L239.3 389.1L240.8 392.6ZM249.2 392.8L256.1 390L256.6 393.7ZM265.5 393.9L271.2 389L272.8 392.5ZM281.5 393.9L287.2 389L288.8 392.4ZM297.3 391.5L304.7 391.3L303.9 395ZM313.3 391.6L320.7 391.2L320 394.9ZM330 394.5L334.6 388.6L336.9 391.6ZM346.5 395L349.8 388.4L352.7 390.9ZM361.7 393.9L367.2 389L368.9 392.4ZM377.6 393.8L383.4 389.1L385 392.5ZM393.4 393.2L399.9 389.6L400.9 393.2ZM409.5 391.3L416.9 391.5L415.9 395.1ZM425.4 391.9L432.8 390.9L432.3 394.7ZM441.6 393.6L447.7 389.3L449 392.8ZM457.4 392.2L464.7 390.6L464.5 394.4ZM473.5 392.8L480.3 389.9L480.8 393.7ZM489.8 393.8L495.5 389.1L497.1 392.6ZM506.5 394.8L510.4 388.5L513 391.2ZM522.4 394.7L526.6 388.5L529 391.4ZM64.1 409.3L57 411.5L56.8 407.7ZM80.1 409L73.2 411.7L72.7 408ZM96.1 408.8L89.4 412L88.7 408.2ZM112.2 409.5L104.9 411.2L105 407.4ZM128.1 410.2L120.7 410.5L121.5 406.8ZM137.2 410.7L143.3 406.4L144.6 410ZM154 411.9L157.9 405.6L160.5 408.4ZM169.4 410.9L175.1 406.2L176.7 409.7ZM185.3 410.8L191.3 406.3L192.7 409.9ZM201.8 411.7L206.4 405.7L208.7 408.7ZM217.5 411.1L223 406.1L224.8 409.4ZM233.6 411.2L238.9 406L240.8 409.3ZM251 412.6L252.8 405.4L256.1 407.2ZM266.6 412.3L269.4 405.4L272.5 407.7ZM281.2 409.3L288.5 407.7L288.3 411.5ZM297.3 408.5L304.8 408.5L303.8 412.2ZM313.3 410.1L320 406.9L320.7 410.6ZM329.3 410.1L336 406.9L336.7 410.6ZM345.3 409.9L352.2 407.1L352.7 410.9ZM361.6 411L367.3 406.2L368.9 409.6ZM377.5 410.6L383.7 406.4L384.9 410ZM393.3 409.3L400.6 407.7L400.4 411.5ZM409.6 410.8L415.6 406.3L417 409.9ZM426.7 412.2L429.8 405.5L432.7 407.9ZM441.5 410.4L447.9 406.6L449 410.3ZM457.7 407.9L465.1 409.2L463.5 412.7ZM473.6 410.5L479.9 406.5L481 410.2ZM489.7 410.8L495.7 406.4L497.1 409.9ZM505.7 410.6L511.8 406.5L513.1 410.1ZM522.1 411.5L526.9 405.8L529.1 408.9ZM64.1 426.4L57 428.6L56.8 424.8ZM80.1 425.9L73.4 429.1L72.6 425.4ZM96.1 426.4L89 428.6L88.9 424.8ZM112.2 426.8L104.8 428.2L105.1 424.4ZM128.2 426.3L121.1 428.7L120.9 424.9ZM138.7 429.6L140.9 422.5L144.1 424.5ZM153.6 428.5L158.7 423L160.7 426.3ZM169.4 428.2L175 423.2L176.7 426.6ZM185.3 427.9L191.3 423.5L192.7 427ZM201.1 426.1L208.5 425.2L208 428.9ZM217.1 426.6L224.3 424.6L224.3 428.4ZM234.5 429.4L237.4 422.6L240.4 424.9ZM250.8 429.6L253.1 422.5L256.3 424.6ZM265.4 427.9L271.4 423.4L272.8 427ZM281.4 427.9L287.4 423.4L288.8 427ZM297.9 428.6L302.7 422.9L304.8 426ZM313.4 427.7L319.6 423.6L320.8 427.2ZM329.3 427.4L335.9 423.9L336.8 427.6ZM345.6 428L351.4 423.4L352.9 426.9ZM361.3 426.2L368.6 425L368.3 428.8ZM377.9 424.5L384.9 427L382.8 430.2ZM393.3 426.6L400.5 424.6L400.6 428.4ZM410.2 428.9L414.4 422.8L416.9 425.6ZM425.7 428.1L431.4 423.3L433 426.7ZM441.4 427.2L448.2 424L448.9 427.7ZM457.4 426.5L464.6 424.7L464.6 428.5ZM473.5 425.9L480.9 425.3L480.2 429.1ZM489.6 425.4L497.1 425.9L495.9 429.5ZM505.5 426.3L512.8 425L512.5 428.7ZM521.5 426.3L528.8 425L528.5 428.7ZM64.1 443.4L57.1 445.9L56.8 442.1ZM80.1 444L72.7 445.2L73.1 441.4ZM96.1 444.3L88.7 444.9L89.3 441.2ZM112.2 443.7L105 445.6L105 441.8ZM128.2 443.4L121.1 445.8L120.9 442ZM144.2 443.4L137.1 445.8L136.9 442ZM160.1 442.6L153.7 446.5L152.6 442.9ZM176.2 443.2L169.3 446.1L168.8 442.3ZM191.8 445.5L184.6 443.6L186.5 440.3ZM207.8 445.5L200.6 443.4L202.6 440.2ZM224.3 443.8L217 445.4L217.2 441.6ZM240.3 444.2L232.9 445L233.4 441.3ZM255.9 445.4L248.7 443.6L250.5 440.3ZM272.2 444.9L264.7 444.3L266 440.7ZM288.3 444.2L280.9 445L281.5 441.3ZM297.4 442.4L304.8 443.2L303.5 446.8ZM313.2 443.6L320.5 441.9L320.4 445.7ZM329.4 444.7L335.8 440.9L336.8 444.5ZM345.4 442.7L352.8 442.8L351.8 446.5ZM362.4 441.1L368.7 445L366 447.6ZM377.8 441.8L385 443.9L383 447.2ZM393.5 442.6L400.9 442.9L399.8 446.5ZM409.8 441.9L417 443.8L415.1 447.1ZM425.8 442L433 443.7L431.2 447.1ZM441.4 443.2L448.8 442.3L448.3 446ZM457.5 442.7L465 442.8L464 446.5ZM473.5 442.9L480.9 442.6L480.1 446.3ZM489.5 444.5L496.1 441L497 444.7ZM505.6 444.5L512.1 441L513 444.7ZM521.6 442.6L529.1 442.9L528 446.5ZM64.1 460.8L56.9 462.7L56.9 458.9ZM80.1 461.2L72.7 462.3L73.1 458.5ZM96.1 461.1L88.8 462.4L89.1 458.6ZM112.1 461.3L104.7 462.2L105.3 458.4ZM128.2 461.2L120.8 462.3L121.2 458.6ZM144.2 460.4L137.2 463.1L136.8 459.3ZM160.2 460.5L153.2 463L152.9 459.2ZM176.2 461.1L168.9 462.4L169.2 458.6ZM192.2 461.5L184.7 461.9L185.5 458.2ZM208.1 459.8L201.8 463.6L200.7 460ZM224.3 460.4L217.3 463.1L216.9 459.3ZM240.2 461.6L232.8 461.8L233.7 458.1ZM256.2 461.7L248.8 461.8L249.7 458.1ZM271.9 462.5L264.7 460.8L266.5 457.4ZM287.5 463.2L280.8 459.8L283.4 457ZM297.5 459.4L304.9 460.4L303.4 464ZM313.2 461.1L320.3 458.6L320.6 462.4ZM329.4 459.9L336.8 459.9L335.8 463.6ZM345.7 459L352.9 461L351 464.2ZM361.3 460.2L368.7 459.5L368.1 463.2ZM377.3 460.6L384.6 459.1L384.4 462.9ZM393.5 459.8L400.9 460L399.8 463.6ZM409.5 459.9L416.9 459.9L415.9 463.5ZM425.4 460.1L432.9 459.6L432.1 463.3ZM442 458.8L449 461.2L446.9 464.4ZM457.9 458.9L465.1 461.1L463.1 464.3ZM473.4 460.7L480.7 459L480.6 462.8ZM489.5 461.1L496.5 458.6L496.8 462.4ZM505.5 460.1L512.9 459.6L512.3 463.3ZM521.5 460.3L528.9 459.4L528.4 463.1ZM64.1 477.6L57.1 480.1L56.8 476.3ZM80.1 477.6L73.1 480.1L72.8 476.3ZM96.1 478.1L88.8 479.6L89.1 475.8ZM105.3 479.3L111.1 474.8L112.6 478.2ZM122.1 480.5L125.7 474L128.4 476.6ZM137.5 479.7L142.8 474.5L144.7 477.8ZM153 477.7L160.3 476.2L160.1 480ZM169.1 478.5L175.9 475.5L176.5 479.2ZM185.8 480.1L190.4 474.3L192.7 477.3ZM208.3 478L201 479.7L201.1 475.9ZM224.3 477.6L217.3 480.1L217 476.3ZM240.2 477L233.8 480.7L232.7 477.1ZM256.3 478.4L248.9 479.3L249.4 475.5ZM271.9 479.7L264.7 477.8L266.6 474.5ZM288.3 478.4L281 479.3L281.5 475.6ZM297.2 477.6L304.6 476.3L304.2 480.1ZM313.8 475.9L320.9 478.3L318.8 481.5ZM330.3 475.3L336.7 479.2L334 481.8ZM345.7 476.3L352.9 477.9L351.2 481.3ZM361.5 476.6L368.9 477.5L367.5 481ZM377.4 477L384.9 477.1L383.9 480.7ZM393.3 477.9L400.5 476L400.5 479.8ZM409.3 477.9L416.5 476L416.5 479.8ZM425.4 477.9L432.6 476L432.6 479.8ZM448.5 478.5L441.1 479.2L441.8 475.4ZM464.5 478.5L457.1 479.2L457.8 475.4ZM480.6 478.5L473.1 479.2L473.8 475.4ZM496.6 478.5L489.2 479.2L489.8 475.4ZM512.6 478.5L505.2 479.2L505.8 475.4ZM528.6 478.5L521.2 479.2L521.9 475.4ZM63.4 497.1L56.5 494.5L58.6 491.4ZM79.3 497.4L72.5 494.2L75 491.3ZM95.5 497L88.5 494.6L90.6 491.5ZM111.9 496.5L104.5 495.3L106 491.9ZM127.7 496.8L120.5 495L122.3 491.7ZM143.4 497.3L136.6 494.3L138.9 491.3ZM159.5 497.3L152.6 494.3L155 491.3ZM175.5 497.2L168.6 494.3L170.9 491.3ZM191.4 497.4L184.7 494.1L187.2 491.3ZM207.6 497.2L200.7 494.5L202.9 491.4ZM223.8 496.9L216.6 494.8L218.6 491.5ZM237.8 498.5L233.9 492.2L237.5 491ZM253.2 498.6L250.4 491.7L254.2 491.2ZM269.6 498.5L266 492L269.7 491.1ZM285.6 498.5L282.1 492L285.8 491.1ZM300.7 498.6L299 491.4L302.8 491.5ZM316.4 498.6L315.3 491.3L319.1 491.7ZM332.4 498.6L331.4 491.2L335.2 491.7ZM348 498.5L347.9 491.1L351.6 492ZM364.1 498.6L363.8 491.1L367.5 491.9ZM377.3 495L384.5 493.1L384.5 496.9ZM393.3 495L400.5 493.1L400.5 496.9ZM409.3 495L416.5 493.1L416.5 496.9ZM425.4 495L432.6 493.1L432.6 496.9ZM448.5 495.7L441.1 496.3L441.8 492.5ZM464.5 495.7L457.1 496.3L457.8 492.5ZM480.6 495.7L473.1 496.3L473.8 492.5ZM496.6 495.7L489.2 496.3L489.8 492.5ZM512.6 495.7L505.2 496.3L505.8 492.5ZM528.6 495.7L521.2 496.3L521.9 492.5ZM63 514.8L56.6 510.8L59.4 508.2ZM79.2 514.5L72.6 511.2L75.1 508.4ZM95.6 514L88.5 512L90.4 508.7ZM111.6 514.1L104.5 511.8L106.5 508.6ZM127.5 514.2L120.5 511.7L122.7 508.5ZM143.7 514L136.5 511.9L138.5 508.7ZM159.6 514.1L152.6 511.8L154.6 508.6ZM175.5 514.3L168.6 511.6L170.9 508.5ZM191.7 514L184.6 511.9L186.5 508.7ZM207.8 514L200.6 512L202.5 508.7ZM223.4 514.5L216.7 511.2L219.3 508.4ZM239.2 514.7L232.9 510.9L235.6 508.3ZM255.6 514.3L248.7 511.5L251 508.5ZM269.4 515.7L266.2 509L270 508.3ZM284.9 515.8L282.7 508.6L286.5 508.5ZM300.9 515.8L298.8 508.6L302.6 508.5ZM316.9 515.8L314.9 508.6L318.7 508.5ZM332.3 515.7L331.5 508.3L335.2 508.9ZM351.8 514.3L344.8 511.6L347.1 508.5ZM368 513.9L360.8 512.1L362.6 508.8ZM383.9 514.1L376.8 511.8L378.9 508.6ZM399.5 514.7L393 511L395.6 508.3ZM415.6 514.6L409 511.2L411.5 508.3ZM431.9 514.3L424.9 511.6L427.2 508.5ZM447.9 514.3L440.9 511.6L443.2 508.5ZM464.1 514L456.9 511.9L458.9 508.7ZM480.2 513.8L473 512.3L474.6 508.9ZM496.1 514.1L489 511.8L491.1 508.6ZM511.8 514.5L505.1 511.3L507.5 508.4ZM528.1 514.1L521 511.8L523.1 508.6Z"/>
<path d="M48.5 27.2H542.5V529.2H48.5Z M53.3 27.2 L53.3 -140.7 L55.3 66.6 L57.3 129.1 L59.3 167.1 L61.3 194.6 L63.3 216.1 L65.3 233.7 L67.3 248.7 L69.3 261.7 L71.3 273.2 L73.3 283.5 L75.3 292.9 L77.3 301.4 L79.3 309.3 L81.3 316.6 L83.4 323.3 L85.4 329.7 L87.4 335.7 L89.4 341.3 L91.4 346.6 L93.4 351.7 L95.4 356.5 L97.4 361.1 L99.4 365.5 L101.4 369.7 L103.4 373.7 L105.4 377.6 L107.4 381.3 L109.4 384.9 L111.4 388.4 L113.4 391.7 L115.4 395 L117.4 398.1 L119.5 401.2 L121.5 404.1 L123.5 407 L125.5 409.8 L127.5 412.5 L129.5 415.1 L131.5 417.7 L133.5 420.2 L135.5 422.6 L137.5 425 L139.5 427.3 L141.5 429.6 L143.5 431.8 L145.5 434 L147.5 436.2 L149.5 438.2 L151.5 440.3 L153.6 442.3 L155.6 444.2 L157.6 446.2 L159.6 448.1 L161.6 449.9 L163.6 451.7 L165.6 453.5 L167.6 455.3 L169.6 457 L171.6 458.7 L173.6 460.3 L175.6 462 L177.6 463.6 L179.6 465.2 L181.6 466.7 L183.6 468.3 L185.6 469.8 L187.6 471.3 L189.7 472.8 L191.7 474.2 L193.7 475.6 L195.7 477 L197.7 478.4 L199.7 479.8 L201.7 481.1 L203.7 482.5 L205.7 483.8 L207.7 485.1 L209.7 486.4 L211.7 487.6 L213.7 488.9 L215.7 490.1 L217.7 491.3 L219.7 492.5 L221.7 493.7 L223.8 494.9 L225.8 496 L227.8 497.2 L229.8 498.3 L231.8 499.4 L233.8 500.5 L235.8 501.6 L237.8 502.7 L239.8 503.8 L241.8 504.9 L243.8 505.9 L245.8 506.9 L247.8 508 L249.8 509 L251.8 510 L253.8 511 L255.8 512 L257.8 513 L259.9 513.9 L261.9 514.9 L263.9 515.8 L265.9 516.8 L267.9 517.7 L269.9 518.6 L271.9 519.5 L273.9 520.4 L275.9 521.3 L277.9 522.2 L279.9 523.1 L281.9 524 L283.9 524.9 L285.9 525.7 L287.9 526.6 L289.9 527.4 L291.9 528.2 L293.9 529.1 L296 529.1 L298 528.2 L300 527.4 L302 526.6 L304 525.7 L306 524.9 L308 524 L310 523.1 L312 522.2 L314 521.3 L316 520.4 L318 519.5 L320 518.6 L322 517.7 L324 516.8 L326 515.8 L328 514.9 L330.1 513.9 L332.1 513 L334.1 512 L336.1 511 L338.1 510 L340.1 509 L342.1 508 L344.1 506.9 L346.1 505.9 L348.1 504.9 L350.1 503.8 L352.1 502.7 L354.1 501.6 L356.1 500.5 L358.1 499.4 L360.1 498.3 L362.1 497.2 L364.1 496 L366.2 494.9 L368.2 493.7 L370.2 492.5 L372.2 491.3 L374.2 490.1 L376.2 488.9 L378.2 487.6 L380.2 486.4 L382.2 485.1 L384.2 483.8 L386.2 482.5 L388.2 481.1 L390.2 479.8 L392.2 478.4 L394.2 477 L396.2 475.6 L398.2 474.2 L400.3 472.8 L402.3 471.3 L404.3 469.8 L406.3 468.3 L408.3 466.7 L410.3 465.2 L412.3 463.6 L414.3 462 L416.3 460.3 L418.3 458.7 L420.3 457 L422.3 455.3 L424.3 453.5 L426.3 451.7 L428.3 449.9 L430.3 448.1 L432.3 446.2 L434.3 444.2 L436.4 442.3 L438.4 440.3 L440.4 438.2 L442.4 436.2 L444.4 434 L446.4 431.8 L448.4 429.6 L450.4 427.3 L452.4 425 L454.4 422.6 L456.4 420.2 L458.4 417.7 L460.4 415.1 L462.4 412.5 L464.4 409.8 L466.4 407 L468.4 404.1 L470.4 401.2 L472.5 398.1 L474.5 395 L476.5 391.7 L478.5 388.4 L480.5 384.9 L482.5 381.3 L484.5 377.6 L486.5 373.7 L488.5 369.7 L490.5 365.5 L492.5 361.1 L494.5 356.5 L496.5 351.7 L498.5 346.6 L500.5 341.3 L502.5 335.7 L504.5 329.7 L506.6 323.3 L508.6 316.6 L510.6 309.3 L512.6 301.4 L514.6 292.9 L516.6 283.5 L518.6 273.2 L520.6 261.7 L522.6 248.7 L524.6 233.7 L526.6 216.1 L528.6 194.6 L530.6 167.1 L532.6 129.1 L534.6 66.6 L536.6 -140.7 L536.6 27.2Z" fill="#fff" fill-opacity="0.5" fill-rule="evenodd"/>
<path d="M53.3 -140.7 L55.3 66.6 L57.3 129.1 L59.3 167.1 L61.3 194.6 L63.3 216.1 L65.3 233.7 L67.3 248.7 L69.3 261.7 L71.3 273.2 L73.3 283.5 L75.3 292.9 L77.3 301.4 L79.3 309.3 L81.3 316.6 L83.4 323.3 L85.4 329.7 L87.4 335.7 L89.4 341.3 L91.4 346.6 L93.4 351.7 L95.4 356.5 L97.4 361.1 L99.4 365.5 L101.4 369.7 L103.4 373.7 L105.4 377.6 L107.4 381.3 L109.4 384.9 L111.4 388.4 L113.4 391.7 L115.4 395 L117.4 398.1 L119.5 401.2 L121.5 404.1 L123.5 407 L125.5 409.8 L127.5 412.5 L129.5 415.1 L131.5 417.7 L133.5 420.2 L135.5 422.6 L137.5 425 L139.5 427.3 L141.5 429.6 L143.5 431.8 L145.5 434 L147.5 436.2 L149.5 438.2 L151.5 440.3 L153.6 442.3 L155.6 444.2 L157.6 446.2 L159.6 448.1 L161.6 449.9 L163.6 451.7 L165.6 453.5 L167.6 455.3 L169.6 457 L171.6 458.7 L173.6 460.3 L175.6 462 L177.6 463.6 L179.6 465.2 L181.6 466.7 L183.6 468.3 L185.6 469.8 L187.6 471.3 L189.7 472.8 L191.7 474.2 L193.7 475.6 L195.7 477 L197.7 478.4 L199.7 479.8 L201.7 481.1 L203.7 482.5 L205.7 483.8 L207.7 485.1 L209.7 486.4 L211.7 487.6 L213.7 488.9 L215.7 490.1 L217.7 491.3 L219.7 492.5 L221.7 493.7 L223.8 494.9 L225.8 496 L227.8 497.2 L229.8 498.3 L231.8 499.4 L233.8 500.5 L235.8 501.6 L237.8 502.7 L239.8 503.8 L241.8 504.9 L243.8 505.9 L245.8 506.9 L247.8 508 L249.8 509 L251.8 510 L253.8 511 L255.8 512 L257.8 513 L259.9 513.9 L261.9 514.9 L263.9 515.8 L265.9 516.8 L267.9 517.7 L269.9 518.6 L271.9 519.5 L273.9 520.4 L275.9 521.3 L277.9 522.2 L279.9 523.1 L281.9 524 L283.9 524.9 L285.9 525.7 L287.9 526.6 L289.9 527.4 L291.9 528.2 L293.9 529.1 L296 529.1 L298 528.2 L300 527.4 L302 526.6 L304 525.7 L306 524.9 L308 524 L310 523.1 L312 522.2 L314 521.3 L316 520.4 L318 519.5 L320 518.6 L322 517.7 L324 516.8 L326 515.8 L328 514.9 L330.1 513.9 L332.1 513 L334.1 512 L336.1 511 L338.1 510 L340.1 509 L342.1 508 L344.1 506.9 L346.1 505.9 L348.1 504.9 L350.1 503.8 L352.1 502.7 L354.1 501.6 L356.1 500.5 L358.1 499.4 L360.1 498.3 L362.1 497.2 L364.1 496 L366.2 494.9 L368.2 493.7 L370.2 492.5 L372.2 491.3 L374.2 490.1 L376.2 488.9 L378.2 487.6 L380.2 486.4 L382.2 485.1 L384.2 483.8 L386.2 482.5 L388.2 481.1 L390.2 479.8 L392.2 478.4 L394.2 477 L396.2 475.6 L398.2 474.2 L400.3 472.8 L402.3 471.3 L404.3 469.8 L406.3 468.3 L408.3 466.7 L410.3 465.2 L412.3 463.6 L414.3 462 L416.3 460.3 L418.3 458.7 L420.3 457 L422.3 455.3 L424.3 453.5 L426.3 451.7 L428.3 449.9 L430.3 448.1 L432.3 446.2 L434.3 444.2 L436.4 442.3 L438.4 440.3 L440.4 438.2 L442.4 436.2 L444.4 434 L446.4 431.8 L448.4 429.6 L450.4 427.3 L452.4 425 L454.4 422.6 L456.4 420.2 L458.4 417.7 L460.4 415.1 L462.4 412.5 L464.4 409.8 L466.4 407 L468.4 404.1 L470.4 401.2 L472.5 398.1 L474.5 395 L476.5 391.7 L478.5 388.4 L480.5 384.9 L482.5 381.3 L484.5 377.6 L486.5 373.7 L488.5 369.7 L490.5 365.5 L492.5 361.1 L494.5 356.5 L496.5 351.7 L498.5 346.6 L500.5 341.3 L502.5 335.7 L504.5 329.7 L506.6 323.3 L508.6 316.6 L510.6 309.3 L512.6 301.4 L514.6 292.9 L516.6 283.5 L518.6 273.2 L520.6 261.7 L522.6 248.7 L524.6 233.7 L526.6 216.1 L528.6 194.6 L530.6 167.1 L532.6 129.1 L534.6 66.6 L536.6 -140.7" fill="none" stroke="#000" stroke-width="0.7"/>
</g>
<rect x="53.5" y="32.2" width="484" height="492" fill="none" stroke="#262626" stroke-width="0.9"/>
<text x="109.5" y="544.8" font-size="14.8" text-anchor="middle">100</text>
<text x="166.3" y="544.8" font-size="14.8" text-anchor="middle">200</text>
<text x="223.1" y="544.8" font-size="14.8" text-anchor="middle">300</text>
<text x="279.9" y="544.8" font-size="14.8" text-anchor="middle">400</text>
<text x="336.7" y="544.8" font-size="14.8" text-anchor="middle">500</text>
<text x="393.5" y="544.8" font-size="14.8" text-anchor="middle">600</text>
<text x="450.3" y="544.8" font-size="14.8" text-anchor="middle">700</text>
<text x="507.1" y="544.8" font-size="14.8" text-anchor="middle">800</text>
<text x="47.5" y="102.2" font-size="14.8" text-anchor="end">4</text>
<text x="47.5" y="171" font-size="14.8" text-anchor="end">8</text>
<text x="47.5" y="239.9" font-size="14.8" text-anchor="end">16</text>
<text x="47.5" y="308.7" font-size="14.8" text-anchor="end">32</text>
<text x="47.5" y="377.6" font-size="14.8" text-anchor="end">64</text>
<text x="47.5" y="446.4" font-size="14.8" text-anchor="end">128</text>
<text x="47.5" y="515.3" font-size="14.8" text-anchor="end">256</text>
<path d="M109.5 524.2v-4.5M109.5 32.2v4.5M166.3 524.2v-4.5M166.3 32.2v4.5M223.1 524.2v-4.5M223.1 32.2v4.5M279.9 524.2v-4.5M279.9 32.2v4.5M336.7 524.2v-4.5M336.7 32.2v4.5M393.5 524.2v-4.5M393.5 32.2v4.5M450.3 524.2v-4.5M450.3 32.2v4.5M507.1 524.2v-4.5M507.1 32.2v4.5M53.5 97h4.5M537.5 97h-4.5M53.5 165.8h4.5M537.5 165.8h-4.5M53.5 234.7h4.5M537.5 234.7h-4.5M53.5 303.5h4.5M537.5 303.5h-4.5M53.5 372.4h4.5M537.5 372.4h-4.5M53.5 441.2h4.5M537.5 441.2h-4.5M53.5 510.1h4.5M537.5 510.1h-4.5" stroke="#262626" stroke-width="0.9" fill="none"/>
<g clip-path="url(#clipB)">
<g filter="url(#jet)">
<rect x="684.5" y="9.4" width="596.7" height="570.7" fill="#4c4c4c"/>
<g filter="url(#b5)">
<rect x="690" y="20" width="600" height="48" fill="#f7f7f7"/>
<rect x="690" y="66" width="600" height="20" fill="#808080"/>
<rect x="690" y="84" width="600" height="70" fill="#2b2b2b"/>
<rect x="690" y="150" width="600" height="70" fill="#454545"/>
<rect x="690" y="215" width="600" height="125" fill="#707070"/>
<path d="M715 360C723.3 345.2 753.3 358.3 765 357C776.7 355.7 779.7 354 785 352C790.3 350 793.7 347.8 797 345C800.3 342.2 801.7 337.7 805 335C808.3 332.3 812.8 331.2 817 329C821.2 326.8 826.2 324.2 830 322C833.8 319.8 837.5 317.7 840 316C842.5 314.3 838.3 313.8 845 312C851.7 310.2 864.5 306.2 880 305C895.5 303.8 928.3 302.8 938 305C947.7 307.2 937.5 314.7 938 318C938.5 321.3 939 323.5 941 325C943 326.5 945.2 327.2 950 327C954.8 326.8 962.5 325.2 970 324C977.5 322.8 986.7 320.5 995 320C1003.3 319.5 1014 319.5 1020 321C1026 322.5 1026.2 326.7 1031 329C1035.8 331.3 1043.5 334.5 1049 335C1054.5 335.5 1060.3 333.7 1064 332C1067.7 330.3 1069.5 329.5 1071 325C1072.5 320.5 1067.5 308.3 1073 305C1078.5 301.7 1098.7 301.3 1104 305C1109.3 308.7 1103.8 321.7 1105 327C1106.2 332.3 1107 334.5 1111 337C1115 339.5 1122.7 341.5 1129 342C1135.3 342.5 1144 341.7 1149 340C1154 338.3 1157.2 337.8 1159 332C1160.8 326.2 1144.8 309.5 1160 305C1175.2 300.5 1235 285.5 1250 305C1265 324.5 1254.3 402.7 1250 422C1245.7 441.3 1232.5 421.8 1224 421C1215.5 420.2 1207.3 418.8 1199 417C1190.7 415.2 1181.5 411 1174 410C1166.5 409 1162.3 410.5 1154 411C1145.7 411.5 1135.3 412.3 1124 413C1112.7 413.7 1098.5 414.5 1086 415C1073.5 415.5 1061.5 415.7 1049 416C1036.5 416.3 1023.5 416.3 1011 417C998.5 417.7 985 419.3 974 420C963 420.7 954.5 420.2 945 421C935.5 421.8 924.5 423.3 917 425C909.5 426.7 904.5 428.5 900 431C895.5 433.5 892 436.8 890 440C888 443.2 886.8 447.2 888 450C889.2 452.8 893.3 454.5 897 457C900.7 459.5 906.7 462 910 465C913.3 468 916.7 472.5 917 475C917.3 477.5 915.7 478.5 912 480C908.3 481.5 902 483 895 484C888 485 882.5 485.2 870 486C857.5 486.8 836.7 488.8 820 489C803.3 489.2 782.5 487.8 770 487C757.5 486.2 750.8 486 745 484C739.2 482 735.8 478.2 735 475C734.2 471.8 737.2 468.3 740 465C742.8 461.7 751.2 457.7 752 455C752.8 452.3 751.2 450.5 745 449C738.8 447.5 720 460.8 715 446C710 431.2 706.7 374.8 715 360Z" fill="#e0e0e0"/>
<rect x="690" y="425" width="600" height="140" fill="#9e9e9e"/>
<ellipse cx="1070" cy="470" rx="130" ry="50" fill="#6b6b6b"/>
<ellipse cx="905" cy="470" rx="30" ry="40" fill="#a3a3a3"/>
<rect x="690" y="330" width="70" height="28" fill="#9e9e9e"/>
<rect x="690" y="340" width="66" height="10" fill="#525252"/>
<rect x="690" y="440" width="120" height="50" fill="#c7c7c7"/>
<rect x="690" y="490" width="190" height="60" fill="#a3a3a3"/>
<rect x="1180" y="425" width="80" height="20" fill="#9e9e9e"/>
<ellipse cx="1165" cy="482" rx="45" ry="38" fill="#6b6b6b"/>
<ellipse cx="1235" cy="480" rx="30" ry="60" fill="#999999"/>
<rect x="1000" y="524" width="260" height="30" fill="#9e9e9e"/>
</g>
<g filter="url(#b1_3)">
<rect x="738" y="84" width="492" height="66" fill="#121212"/>
<rect x="738" y="146" width="492" height="40" fill="#292929"/>
<rect x="738" y="182" width="492" height="40" fill="#474747"/>
<path d="M737.5 92L746 131" stroke="#616161" stroke-width="5.5" stroke-linecap="round"/>
<path d="M750.9 92L746 131" stroke="#616161" stroke-width="5.4" stroke-linecap="round"/>
<path d="M746 131L740 227.3" stroke="#808080" stroke-width="6.3" stroke-linecap="round"/>
<path d="M748 119.2L744.3 148.6" stroke="#a3a3a3" stroke-width="4.9" stroke-linecap="round"/>
<path d="M760.5 92L766.2 133.8" stroke="#6b6b6b" stroke-width="5.6" stroke-linecap="round"/>
<path d="M772.4 92L766.2 133.8" stroke="#6b6b6b" stroke-width="5.9" stroke-linecap="round"/>
<path d="M766.2 133.8L760.7 221.2" stroke="#9e9e9e" stroke-width="7.7" stroke-linecap="round"/>
<path d="M763.8 113.2L766.6 151.2" stroke="#a3a3a3" stroke-width="4.2" stroke-linecap="round"/>
<path d="M760.7 196.2L759.6 226.2" stroke="#9e9e9e" stroke-width="5.2" stroke-linecap="round"/>
<path d="M776.1 92L783.7 137" stroke="#6b6b6b" stroke-width="6.3" stroke-linecap="round"/>
<path d="M792.4 92L783.7 137" stroke="#6b6b6b" stroke-width="5.1" stroke-linecap="round"/>
<path d="M783.7 137L790.5 236.6" stroke="#808080" stroke-width="6.4" stroke-linecap="round"/>
<path d="M785.3 124.7L783.7 142.8" stroke="#a3a3a3" stroke-width="4.5" stroke-linecap="round"/>
<path d="M796.2 92L805.3 137.5" stroke="#808080" stroke-width="5" stroke-linecap="round"/>
<path d="M813.5 92L805.3 137.5" stroke="#808080" stroke-width="4.6" stroke-linecap="round"/>
<path d="M805.3 137.5L808.5 230.2" stroke="#a3a3a3" stroke-width="6.9" stroke-linecap="round"/>
<path d="M806.4 120.9L806.6 160.3" stroke="#9e9e9e" stroke-width="4" stroke-linecap="round"/>
<path d="M808.5 205.2L809.2 235.2" stroke="#9e9e9e" stroke-width="5" stroke-linecap="round"/>
<path d="M823.2 92L831 136.5" stroke="#808080" stroke-width="4.8" stroke-linecap="round"/>
<path d="M838.5 92L831 136.5" stroke="#808080" stroke-width="5.1" stroke-linecap="round"/>
<path d="M831 136.5L825.9 233" stroke="#a3a3a3" stroke-width="7.3" stroke-linecap="round"/>
<path d="M832.3 111.7L832.1 149.1" stroke="#999999" stroke-width="3.8" stroke-linecap="round"/>
<path d="M825.9 208L824.3 238" stroke="#9e9e9e" stroke-width="4.5" stroke-linecap="round"/>
<path d="M842.3 92L850.2 148.6" stroke="#616161" stroke-width="5.6" stroke-linecap="round"/>
<path d="M859.4 92L850.2 148.6" stroke="#616161" stroke-width="5.9" stroke-linecap="round"/>
<path d="M850.2 148.6L850.4 202.1" stroke="#949494" stroke-width="7.9" stroke-linecap="round"/>
<path d="M850.4 177.1L852.8 207.1" stroke="#9e9e9e" stroke-width="5.6" stroke-linecap="round"/>
<path d="M865 92L872.1 156.9" stroke="#808080" stroke-width="4.6" stroke-linecap="round"/>
<path d="M877.9 92L872.1 156.9" stroke="#808080" stroke-width="4.9" stroke-linecap="round"/>
<path d="M872.1 156.9L867.3 210.5" stroke="#a3a3a3" stroke-width="7" stroke-linecap="round"/>
<path d="M869.1 144.6L869.7 169.2" stroke="#999999" stroke-width="3.5" stroke-linecap="round"/>
<path d="M893.7 92L897.8 135.1" stroke="#757575" stroke-width="6.5" stroke-linecap="round"/>
<path d="M903.2 92L897.8 135.1" stroke="#757575" stroke-width="5.5" stroke-linecap="round"/>
<path d="M897.8 135.1L892 207.6" stroke="#a3a3a3" stroke-width="6.3" stroke-linecap="round"/>
<path d="M896.4 112.7L895.8 140.6" stroke="#a3a3a3" stroke-width="4.9" stroke-linecap="round"/>
<path d="M892 182.6L893.1 212.6" stroke="#9e9e9e" stroke-width="5.8" stroke-linecap="round"/>
<path d="M909.2 92L916.3 136.9" stroke="#616161" stroke-width="5.2" stroke-linecap="round"/>
<path d="M923.8 92L916.3 136.9" stroke="#616161" stroke-width="5.6" stroke-linecap="round"/>
<path d="M916.3 136.9L916.3 226.8" stroke="#9e9e9e" stroke-width="7.9" stroke-linecap="round"/>
<path d="M933.3 92L940.9 132.8" stroke="#808080" stroke-width="6" stroke-linecap="round"/>
<path d="M950.4 92L940.9 132.8" stroke="#808080" stroke-width="6.1" stroke-linecap="round"/>
<path d="M940.9 132.8L940.5 200.6" stroke="#949494" stroke-width="6.6" stroke-linecap="round"/>
<path d="M940.5 175.6L942.3 205.6" stroke="#9e9e9e" stroke-width="5.4" stroke-linecap="round"/>
<path d="M957.7 92L965.4 164" stroke="#616161" stroke-width="5.5" stroke-linecap="round"/>
<path d="M974.5 92L965.4 164" stroke="#616161" stroke-width="5.7" stroke-linecap="round"/>
<path d="M965.4 164L958.5 190.2" stroke="#949494" stroke-width="8.7" stroke-linecap="round"/>
<path d="M966.3 141.5L963.2 176.8" stroke="#999999" stroke-width="4.6" stroke-linecap="round"/>
<path d="M958.5 165.2L956.5 195.2" stroke="#9e9e9e" stroke-width="5.6" stroke-linecap="round"/>
<path d="M980.9 92L985.9 157" stroke="#808080" stroke-width="5.9" stroke-linecap="round"/>
<path d="M991.5 92L985.9 157" stroke="#808080" stroke-width="4.8" stroke-linecap="round"/>
<path d="M985.9 157L981.1 248.2" stroke="#a3a3a3" stroke-width="8.7" stroke-linecap="round"/>
<path d="M981.1 223.2L983 253.2" stroke="#9e9e9e" stroke-width="6" stroke-linecap="round"/>
<path d="M1001.5 92L1006.3 139" stroke="#6b6b6b" stroke-width="5.8" stroke-linecap="round"/>
<path d="M1013 92L1006.3 139" stroke="#6b6b6b" stroke-width="6.4" stroke-linecap="round"/>
<path d="M1006.3 139L1005.3 220.7" stroke="#808080" stroke-width="8.6" stroke-linecap="round"/>
<path d="M1005.3 195.7L1003.9 225.7" stroke="#9e9e9e" stroke-width="4.6" stroke-linecap="round"/>
<path d="M1025.2 92L1029.8 148.5" stroke="#808080" stroke-width="6.3" stroke-linecap="round"/>
<path d="M1036.1 92L1029.8 148.5" stroke="#808080" stroke-width="6.1" stroke-linecap="round"/>
<path d="M1029.8 148.5L1030.1 201.9" stroke="#949494" stroke-width="8.5" stroke-linecap="round"/>
<path d="M1030.1 176.9L1028 206.9" stroke="#9e9e9e" stroke-width="5" stroke-linecap="round"/>
<path d="M1042 92L1049.2 156.1" stroke="#6b6b6b" stroke-width="4.7" stroke-linecap="round"/>
<path d="M1055.2 92L1049.2 156.1" stroke="#6b6b6b" stroke-width="5.9" stroke-linecap="round"/>
<path d="M1049.2 156.1L1049.7 224.6" stroke="#949494" stroke-width="7.4" stroke-linecap="round"/>
<path d="M1069.7 92L1075 132.7" stroke="#616161" stroke-width="6.3" stroke-linecap="round"/>
<path d="M1081 92L1075 132.7" stroke="#616161" stroke-width="5.7" stroke-linecap="round"/>
<path d="M1075 132.7L1075.1 187.7" stroke="#a3a3a3" stroke-width="7.5" stroke-linecap="round"/>
<path d="M1075.1 162.7L1075.3 192.7" stroke="#9e9e9e" stroke-width="5" stroke-linecap="round"/>
<path d="M1080.6 92L1092.5 153" stroke="#757575" stroke-width="4.7" stroke-linecap="round"/>
<path d="M1102.8 92L1092.5 153" stroke="#757575" stroke-width="4.6" stroke-linecap="round"/>
<path d="M1092.5 153L1088.9 242" stroke="#949494" stroke-width="6.2" stroke-linecap="round"/>
<path d="M1109.3 92L1119 131.2" stroke="#757575" stroke-width="5.4" stroke-linecap="round"/>
<path d="M1128.1 92L1119 131.2" stroke="#757575" stroke-width="4.7" stroke-linecap="round"/>
<path d="M1119 131.2L1124.3 231.5" stroke="#949494" stroke-width="6.5" stroke-linecap="round"/>
<path d="M1124.3 206.5L1125.6 236.5" stroke="#9e9e9e" stroke-width="6" stroke-linecap="round"/>
<path d="M1139.2 92L1144.9 141.9" stroke="#616161" stroke-width="5.4" stroke-linecap="round"/>
<path d="M1148.9 92L1144.9 141.9" stroke="#616161" stroke-width="5.2" stroke-linecap="round"/>
<path d="M1144.9 141.9L1146.7 208.2" stroke="#9e9e9e" stroke-width="7.5" stroke-linecap="round"/>
<path d="M1147.8 120L1147.8 148.9" stroke="#999999" stroke-width="3.9" stroke-linecap="round"/>
<path d="M1162 92L1166 155.2" stroke="#757575" stroke-width="5.6" stroke-linecap="round"/>
<path d="M1172.4 92L1166 155.2" stroke="#757575" stroke-width="4.7" stroke-linecap="round"/>
<path d="M1166 155.2L1159.8 238.3" stroke="#a3a3a3" stroke-width="8.1" stroke-linecap="round"/>
<path d="M1163.4 131.2L1166.8 176.3" stroke="#999999" stroke-width="3.6" stroke-linecap="round"/>
<path d="M1159.8 213.3L1161.9 243.3" stroke="#9e9e9e" stroke-width="4.9" stroke-linecap="round"/>
<path d="M1179.8 92L1184.8 147.1" stroke="#757575" stroke-width="6.4" stroke-linecap="round"/>
<path d="M1192.5 92L1184.8 147.1" stroke="#757575" stroke-width="5" stroke-linecap="round"/>
<path d="M1184.8 147.1L1180.3 245.2" stroke="#949494" stroke-width="8.8" stroke-linecap="round"/>
<path d="M1199.7 92L1205.2 142.8" stroke="#757575" stroke-width="4.6" stroke-linecap="round"/>
<path d="M1210.7 92L1205.2 142.8" stroke="#757575" stroke-width="5.5" stroke-linecap="round"/>
<path d="M1205.2 142.8L1211.9 228.7" stroke="#9e9e9e" stroke-width="7.5" stroke-linecap="round"/>
<path d="M1204.9 123L1206.1 161" stroke="#9e9e9e" stroke-width="4.3" stroke-linecap="round"/>
<path d="M1216.9 92L1224.2 133.6" stroke="#6b6b6b" stroke-width="4.6" stroke-linecap="round"/>
<path d="M1229.5 92L1224.2 133.6" stroke="#6b6b6b" stroke-width="4.6" stroke-linecap="round"/>
<path d="M1224.2 133.6L1227.6 199.9" stroke="#949494" stroke-width="6.8" stroke-linecap="round"/>
<path d="M1221.7 111L1226.5 152" stroke="#999999" stroke-width="3.9" stroke-linecap="round"/>
<path d="M768.7 159.8L764.6 193.6" stroke="#1a1a1a" stroke-width="8.9" stroke-linecap="round"/>
<path d="M903.8 137.1L896.2 189.1" stroke="#1f1f1f" stroke-width="6" stroke-linecap="round"/>
<path d="M789.4 162.7L781 207.6" stroke="#1a1a1a" stroke-width="6" stroke-linecap="round"/>
<path d="M1135.1 151.2L1137.6 194.7" stroke="#141414" stroke-width="6.9" stroke-linecap="round"/>
<path d="M791.2 221L779.7 271.3" stroke="#1a1a1a" stroke-width="8.1" stroke-linecap="round"/>
<path d="M935.1 161.8L928.1 216.9" stroke="#141414" stroke-width="7.9" stroke-linecap="round"/>
<path d="M759.6 209.6L772.4 260.8" stroke="#141414" stroke-width="8.4" stroke-linecap="round"/>
<path d="M1186.6 207L1175.1 248.5" stroke="#141414" stroke-width="7.8" stroke-linecap="round"/>
<path d="M789.2 141.5L782.4 186.1" stroke="#0d0d0d" stroke-width="7.4" stroke-linecap="round"/>
<path d="M1042.9 193.3L1048.5 239.4" stroke="#0d0d0d" stroke-width="7.4" stroke-linecap="round"/>
<path d="M1108.6 184.9L1098.3 225.7" stroke="#0d0d0d" stroke-width="7.4" stroke-linecap="round"/>
<path d="M1156.2 157.5L1144.4 204.7" stroke="#1f1f1f" stroke-width="8.9" stroke-linecap="round"/>
<path d="M1143.3 141.1L1156.7 192.7" stroke="#141414" stroke-width="7.9" stroke-linecap="round"/>
<path d="M778.5 156.8L785.7 189.7" stroke="#1f1f1f" stroke-width="6.4" stroke-linecap="round"/>
<path d="M779.3 161.7L768.8 206.7" stroke="#1a1a1a" stroke-width="6.9" stroke-linecap="round"/>
<path d="M885 177.6L878.5 226.2" stroke="#1f1f1f" stroke-width="6.3" stroke-linecap="round"/>
<path d="M745.6 177.2L761.2 225.4" stroke="#141414" stroke-width="7.2" stroke-linecap="round"/>
<path d="M773.5 145L787.9 191.2" stroke="#1a1a1a" stroke-width="6.4" stroke-linecap="round"/>
<path d="M873.7 152.4L884.2 187.9" stroke="#0d0d0d" stroke-width="7.5" stroke-linecap="round"/>
<path d="M818.1 222.5L824.2 268.5" stroke="#1a1a1a" stroke-width="6.4" stroke-linecap="round"/>
<path d="M920.7 153.5L929.6 188.3" stroke="#0d0d0d" stroke-width="8.5" stroke-linecap="round"/>
<path d="M1193.6 164.5L1196.8 190.7" stroke="#1f1f1f" stroke-width="6.2" stroke-linecap="round"/>
<path d="M1218.9 195.2L1228 230.9" stroke="#1a1a1a" stroke-width="8.6" stroke-linecap="round"/>
<path d="M795.7 218L791.7 252.3" stroke="#1a1a1a" stroke-width="6.8" stroke-linecap="round"/>
<path d="M889.2 205.8L903.1 253.4" stroke="#1f1f1f" stroke-width="8.4" stroke-linecap="round"/>
<path d="M1183.9 223.5L1181.1 265.9" stroke="#1f1f1f" stroke-width="8.2" stroke-linecap="round"/>
<path d="M1037.8 146.5L1041.2 198.5" stroke="#141414" stroke-width="8.8" stroke-linecap="round"/>
<path d="M822.6 180.6L831 214" stroke="#1a1a1a" stroke-width="8.9" stroke-linecap="round"/>
<path d="M937.9 161.3L941.3 201.7" stroke="#0d0d0d" stroke-width="7.9" stroke-linecap="round"/>
<path d="M848.1 221.4L841.1 261.7" stroke="#1f1f1f" stroke-width="7" stroke-linecap="round"/>
<path d="M952.1 192.8L947.4 225.8" stroke="#141414" stroke-width="6.3" stroke-linecap="round"/>
<path d="M925.4 217.3L917.5 248.4" stroke="#1f1f1f" stroke-width="7.2" stroke-linecap="round"/>
<path d="M1105.4 162.1L1099.2 195.7" stroke="#1a1a1a" stroke-width="7.7" stroke-linecap="round"/>
<path d="M807 182.9L803.6 227.7" stroke="#1f1f1f" stroke-width="8.7" stroke-linecap="round"/>
<path d="M938.8 172.9L934.1 227.3" stroke="#1f1f1f" stroke-width="7.3" stroke-linecap="round"/>
<path d="M1204.5 190.6L1213.1 217.5" stroke="#0d0d0d" stroke-width="6.7" stroke-linecap="round"/>
<path d="M860.3 147.3L844.1 200" stroke="#1f1f1f" stroke-width="8.2" stroke-linecap="round"/>
<path d="M787.2 217L784.2 242.9" stroke="#1a1a1a" stroke-width="8.8" stroke-linecap="round"/>
<path d="M1201.1 196L1210.9 236.7" stroke="#0d0d0d" stroke-width="6.3" stroke-linecap="round"/>
<path d="M887.1 229.1L890.6 260.7" stroke="#0d0d0d" stroke-width="7.8" stroke-linecap="round"/>
<path d="M998.7 232.9L1006.2 266.4" stroke="#1f1f1f" stroke-width="8.7" stroke-linecap="round"/>
<path d="M993.9 196.2L1000.2 222.3" stroke="#0d0d0d" stroke-width="6.9" stroke-linecap="round"/>
<path d="M840.7 217.1L835.3 262.2" stroke="#1a1a1a" stroke-width="8" stroke-linecap="round"/>
<path d="M851 145.2L856.3 180.9" stroke="#0d0d0d" stroke-width="7.2" stroke-linecap="round"/>
<path d="M1129 178.8L1124.6 208.6" stroke="#949494" stroke-width="4.4" stroke-linecap="round"/>
<path d="M854.3 114L856.8 149.1" stroke="#808080" stroke-width="5.2" stroke-linecap="round"/>
<path d="M838 118L831.4 145.6" stroke="#9e9e9e" stroke-width="4.3" stroke-linecap="round"/>
<path d="M770 91.9L772 123.8" stroke="#9e9e9e" stroke-width="4.1" stroke-linecap="round"/>
<path d="M963.6 177.7L957.2 203.2" stroke="#9e9e9e" stroke-width="5.9" stroke-linecap="round"/>
<path d="M835.4 168.1L837.2 198.5" stroke="#9e9e9e" stroke-width="5.3" stroke-linecap="round"/>
<path d="M1147.7 208.8L1146.2 237.6" stroke="#9e9e9e" stroke-width="4.6" stroke-linecap="round"/>
<path d="M948.2 195.7L944.3 226.7" stroke="#9e9e9e" stroke-width="5.5" stroke-linecap="round"/>
<path d="M1137.8 146.4L1139.7 167.3" stroke="#9e9e9e" stroke-width="5.1" stroke-linecap="round"/>
<path d="M840.7 130L834.2 167.4" stroke="#808080" stroke-width="4.5" stroke-linecap="round"/>
<path d="M1114.4 99.7L1110.1 120" stroke="#949494" stroke-width="4.1" stroke-linecap="round"/>
<path d="M1101.4 199.5L1104.5 226.1" stroke="#949494" stroke-width="5.9" stroke-linecap="round"/>
<path d="M869.1 177.9L872 204.1" stroke="#808080" stroke-width="5.4" stroke-linecap="round"/>
<path d="M1188.1 162.1L1179.9 200.1" stroke="#808080" stroke-width="4.2" stroke-linecap="round"/>
<path d="M1200.2 206L1206.4 233" stroke="#949494" stroke-width="5.6" stroke-linecap="round"/>
<path d="M1185.8 109.3L1193.3 144.6" stroke="#808080" stroke-width="5.5" stroke-linecap="round"/>
<path d="M860.3 193.9L855.9 222.8" stroke="#949494" stroke-width="4.8" stroke-linecap="round"/>
<path d="M862.6 102.5L864.3 123.1" stroke="#949494" stroke-width="4.9" stroke-linecap="round"/>
<path d="M1219.6 126L1216.7 147.5" stroke="#9e9e9e" stroke-width="6" stroke-linecap="round"/>
<path d="M830.8 106.6L825.1 135.3" stroke="#808080" stroke-width="5.7" stroke-linecap="round"/>
<path d="M1106.8 185.8L1110.9 211.3" stroke="#808080" stroke-width="4.7" stroke-linecap="round"/>
<path d="M870.7 145.9L868.7 169.5" stroke="#808080" stroke-width="5.8" stroke-linecap="round"/>
<path d="M837 100.4L833.3 125.2" stroke="#949494" stroke-width="4.5" stroke-linecap="round"/>
<path d="M1055.5 213.2L1060.4 234.7" stroke="#9e9e9e" stroke-width="4.5" stroke-linecap="round"/>
<path d="M1183.8 96.9L1182.2 122.8" stroke="#808080" stroke-width="5.2" stroke-linecap="round"/>
<path d="M840.1 99L835.9 129" stroke="#808080" stroke-width="4.5" stroke-linecap="round"/>
<path d="M1196.5 101.8L1199.5 133.6" stroke="#949494" stroke-width="4.7" stroke-linecap="round"/>
<path d="M768.3 214.8L764 235.1" stroke="#9e9e9e" stroke-width="5.6" stroke-linecap="round"/>
<path d="M1070.7 114.1L1069.1 140.3" stroke="#9e9e9e" stroke-width="5" stroke-linecap="round"/>
<path d="M777.7 103.4L772.9 130.9" stroke="#949494" stroke-width="4.2" stroke-linecap="round"/>
<path d="M932.9 117.8L938.2 157.2" stroke="#808080" stroke-width="4.1" stroke-linecap="round"/>
<path d="M1013.9 133.9L1018.8 161.8" stroke="#9e9e9e" stroke-width="4.8" stroke-linecap="round"/>
<path d="M841.1 86.7L844 124.7" stroke="#808080" stroke-width="4.2" stroke-linecap="round"/>
<path d="M1168.6 148.7L1167.2 171.9" stroke="#9e9e9e" stroke-width="4.3" stroke-linecap="round"/>
<path d="M788.7 166L786.5 193.3" stroke="#808080" stroke-width="4.6" stroke-linecap="round"/>
<path d="M828.8 99.3L825.8 126.8" stroke="#949494" stroke-width="5.7" stroke-linecap="round"/>
<path d="M1211.6 152.4L1213 173.4" stroke="#808080" stroke-width="5.4" stroke-linecap="round"/>
<path d="M1143 106.6L1136.9 141.8" stroke="#949494" stroke-width="5.2" stroke-linecap="round"/>
<path d="M1139.4 115.1L1145 138.8" stroke="#9e9e9e" stroke-width="4.3" stroke-linecap="round"/>
<path d="M805 117.4L802.9 151.9" stroke="#808080" stroke-width="5.1" stroke-linecap="round"/>
<path d="M761.5 194.5L765 216.6" stroke="#9e9e9e" stroke-width="5.3" stroke-linecap="round"/>
<path d="M1053.7 129.7L1058.1 154.3" stroke="#9e9e9e" stroke-width="4.9" stroke-linecap="round"/>
<path d="M828.7 85.7L832.6 125.2" stroke="#9e9e9e" stroke-width="5.5" stroke-linecap="round"/>
<path d="M1146.8 188.3L1144.6 216.2" stroke="#949494" stroke-width="4.9" stroke-linecap="round"/>
<rect x="742" y="86" width="484" height="6" fill="#1a1a1a"/>
</g>
<g filter="url(#b3)">
<ellipse cx="777" cy="217" rx="7" ry="14" fill="#1f1f1f"/>
<ellipse cx="765" cy="200" rx="6" ry="14" fill="#616161"/>
<ellipse cx="812" cy="285" rx="26" ry="26" fill="#616161"/>
<ellipse cx="812" cy="286" rx="14" ry="11" fill="#121212" transform="rotate(30 812 286)"/>
<ellipse cx="775" cy="305" rx="16" ry="9" fill="#999999"/>
<path d="M755 318C763 313.3 785.8 313 800 312C814.2 311 835.7 309.7 840 312C844.3 314.3 831.8 321.8 826 326C820.2 330.2 810 333.5 805 337C800 340.5 799.5 344.2 796 347C792.5 349.8 789 352.2 784 354C779 355.8 771.3 360.3 766 358C760.7 355.7 753.8 346.7 752 340C750.2 333.3 747 322.7 755 318Z" fill="#858585"/>
<ellipse cx="776" cy="333" rx="20" ry="15" fill="#666666"/>
<ellipse cx="860" cy="215" rx="9" ry="22" fill="#333333"/>
<ellipse cx="893" cy="198" rx="10" ry="8" fill="#1f1f1f"/>
<ellipse cx="970" cy="210" rx="12" ry="18" fill="#242424"/>
<ellipse cx="958" cy="245" rx="10" ry="22" fill="#5c5c5c"/>
<ellipse cx="1015" cy="270" rx="38" ry="26" fill="#616161"/>
<ellipse cx="1007" cy="266" rx="14" ry="11" fill="#0f0f0f"/>
<ellipse cx="1036" cy="281" rx="11" ry="8" fill="#141414"/>
<ellipse cx="995" cy="305" rx="52" ry="18" fill="#9e9e9e"/>
<ellipse cx="962" cy="290" rx="14" ry="28" fill="#9e9e9e"/>
<ellipse cx="1052" cy="315" rx="14" ry="16" fill="#9e9e9e"/>
<ellipse cx="1040" cy="225" rx="10" ry="16" fill="#666666"/>
<ellipse cx="1125" cy="245" rx="8" ry="26" fill="#9e9e9e"/>
<ellipse cx="1130" cy="200" rx="12" ry="18" fill="#4c4c4c"/>
<ellipse cx="1138" cy="300" rx="30" ry="30" fill="#a1a1a1"/>
<ellipse cx="1131" cy="316" rx="20" ry="18" fill="#858585"/>
<ellipse cx="1131" cy="317" rx="15" ry="13" fill="#707070"/>
<ellipse cx="1131" cy="318" rx="10" ry="9" fill="#5c5c5c"/>
<ellipse cx="1122" cy="236" rx="7" ry="9" fill="#5c5c5c"/>
<ellipse cx="1200" cy="190" rx="18" ry="12" fill="#8c8c8c"/>
<ellipse cx="1190" cy="185" rx="6" ry="10" fill="#666666"/>
<ellipse cx="874" cy="262" rx="8" ry="14" fill="#a1a1a1"/>
<ellipse cx="855" cy="235" rx="8" ry="14" fill="#737373"/>
<ellipse cx="1046" cy="452" rx="100" ry="20" fill="#525252" transform="rotate(3.5 1046 452)"/>
<ellipse cx="1050" cy="452" rx="72" ry="12" fill="#2b2b2b" transform="rotate(3.5 1050 452)"/>
<ellipse cx="1056" cy="453" rx="48" ry="8" fill="#1c1c1c" transform="rotate(3.5 1056 453)"/>
<ellipse cx="1010" cy="501" rx="135" ry="13" fill="#525252"/>
<ellipse cx="1018" cy="501" rx="98" ry="7" fill="#212121"/>
<ellipse cx="992" cy="479" rx="44" ry="6" fill="#858585"/>
<ellipse cx="860" cy="505" rx="52" ry="5" fill="#666666"/>
<ellipse cx="800" cy="520" rx="80" ry="5" fill="#b2b2b2"/>
<ellipse cx="985" cy="529" rx="62" ry="6" fill="#9e9e9e"/>
<ellipse cx="983" cy="540" rx="22" ry="7" fill="#cccccc"/>
<ellipse cx="1160" cy="502" rx="34" ry="5" fill="#474747"/>
</g>
<g filter="url(#b3)">
<path d="M720 170C723.2 142.5 735.7 165.8 739 170C742.3 174.2 739.5 188 740 195C740.5 202 740.8 207 742 212C743.2 217 744.5 222 747 225C749.5 228 753.7 228.8 757 230C760.3 231.2 764 230 767 232C770 234 772 238.2 775 242C778 245.8 782.7 250.8 785 255C787.3 259.2 788.7 262 789 267C789.3 272 788.5 280.8 787 285C785.5 289.2 783.7 290 780 292C776.3 294 769.7 295.3 765 297C760.3 298.7 755.2 300.3 752 302C748.8 303.7 748 301.5 746 307C744 312.5 744.3 330.3 740 335C735.7 339.7 723.3 362.5 720 335C716.7 307.5 716.8 197.5 720 170Z" fill="none" stroke="#a3a3a3" stroke-width="13" stroke-linejoin="round"/>
<path d="M791 135C791.8 122.5 795 120 797 120C799 120 801.7 122.5 803 135C804.3 147.5 804.3 183 805 195C805.7 207 805.8 203.8 807 207C808.2 210.2 809.8 213.5 812 214C814.2 214.5 817.5 211.5 820 210C822.5 208.5 824.2 205.7 827 205C829.8 204.3 834.5 204.8 837 206C839.5 207.2 840.8 208 842 212C843.2 216 843.5 224.2 844 230C844.5 235.8 844 242.8 845 247C846 251.2 847.5 252.8 850 255C852.5 257.2 857.2 258.8 860 260C862.8 261.2 865.3 260.8 867 262C868.7 263.2 868.7 264.5 870 267C871.3 269.5 873.3 274.7 875 277C876.7 279.3 878.5 277.2 880 281C881.5 284.8 884 290.2 884 300C884 309.8 891.5 333.3 880 340C868.5 346.7 824 341.7 815 340C806 338.3 822.2 333 826 330C829.8 327 834.8 325 838 322C841.2 319 843.7 315.7 845 312C846.3 308.3 846.5 304.2 846 300C845.5 295.8 843.5 290.8 842 287C840.5 283.2 839 280.7 837 277C835 273.3 832.8 268.3 830 265C827.2 261.7 823.3 259.5 820 257C816.7 254.5 813.3 252.8 810 250C806.7 247.2 802.2 243.3 800 240C797.8 236.7 797.8 234.7 797 230C796.2 225.3 795.8 217.8 795 212C794.2 206.2 792.7 207.8 792 195C791.3 182.2 790.2 147.5 791 135Z" fill="none" stroke="#a3a3a3" stroke-width="13" stroke-linejoin="round"/>
<path d="M854 152C855.5 146.7 857.7 140 860 136C862.3 132 865.3 128.3 868 128C870.7 127.7 873.7 130.3 876 134C878.3 137.7 880.5 144.8 882 150C883.5 155.2 884.7 160 885 165C885.3 170 885 174.5 884 180C883 185.5 880.7 192.5 879 198C877.3 203.5 874.2 209 874 213C873.8 217 876.2 219.8 878 222C879.8 224.2 881.3 226.3 885 226C888.7 225.7 895.8 221.8 900 220C904.2 218.2 907.2 214.7 910 215C912.8 215.3 914.2 219.5 917 222C919.8 224.5 923.7 228.3 927 230C930.3 231.7 934.2 230 937 232C939.8 234 942.5 237 944 242C945.5 247 945.8 254.8 946 262C946.2 269.2 945.8 277.8 945 285C944.2 292.2 941.8 296.7 941 305C940.2 313.3 950.5 330 940 335C929.5 340 888 344 878 335C868 326 878.8 290.7 880 281C881.2 271.3 883.5 279.7 885 277C886.5 274.3 888.2 269.2 889 265C889.8 260.8 890.3 255.8 890 252C889.7 248.2 888.7 243.8 887 242C885.3 240.2 882.2 241.5 880 241C877.8 240.5 875.7 241.3 874 239C872.3 236.7 871.2 231.5 870 227C868.8 222.5 867.7 217.3 867 212C866.3 206.7 867.5 200 866 195C864.5 190 860.5 186.5 858 182C855.5 177.5 851.7 173 851 168C850.3 163 852.5 157.3 854 152Z" fill="none" stroke="#a3a3a3" stroke-width="13" stroke-linejoin="round"/>
<path d="M1054 225C1055.8 222.2 1058.2 220.5 1061 220C1063.8 219.5 1067.7 222.5 1071 222C1074.3 221.5 1078 218.2 1081 217C1084 215.8 1086 214.7 1089 215C1092 215.3 1096.2 217.8 1099 219C1101.8 220.2 1104.2 219.8 1106 222C1107.8 224.2 1108.7 228.2 1110 232C1111.3 235.8 1113 241.2 1114 245C1115 248.8 1116.7 251.7 1116 255C1115.3 258.3 1111.8 261.7 1110 265C1108.2 268.3 1105.8 270.5 1105 275C1104.2 279.5 1105.2 286.2 1105 292C1104.8 297.8 1104.2 302.8 1104 310C1103.8 317.2 1109 330.8 1104 335C1099 339.2 1079.7 337.5 1074 335C1068.3 332.5 1071.5 324.7 1070 320C1068.5 315.3 1066 311.7 1065 307C1064 302.3 1063.8 296.5 1064 292C1064.2 287.5 1065.8 284.2 1066 280C1066.2 275.8 1066.2 270.8 1065 267C1063.8 263.2 1061 259.8 1059 257C1057 254.2 1054.5 253.3 1053 250C1051.5 246.7 1049.8 241.2 1050 237C1050.2 232.8 1052.2 227.8 1054 225Z" fill="none" stroke="#a3a3a3" stroke-width="13" stroke-linejoin="round"/>
<path d="M1136 221C1138.2 218 1141.5 218.5 1144 219C1146.5 219.5 1148.5 222.8 1151 224C1153.5 225.2 1156.7 226.7 1159 226C1161.3 225.3 1163.5 223.5 1165 220C1166.5 216.5 1168.2 209.7 1168 205C1167.8 200.3 1165 197.5 1164 192C1163 186.5 1161.7 179 1162 172C1162.3 165 1164.5 154.5 1166 150C1167.5 145.5 1169.7 144.2 1171 145C1172.3 145.8 1174 149.2 1174 155C1174 160.8 1171.7 173.3 1171 180C1170.3 186.7 1169.5 190.7 1170 195C1170.5 199.3 1172.2 203.7 1174 206C1175.8 208.3 1178.5 209.3 1181 209C1183.5 208.7 1186.8 206 1189 204C1191.2 202 1192.2 197.7 1194 197C1195.8 196.3 1198.5 197.5 1200 200C1201.5 202.5 1202.2 207.8 1203 212C1203.8 216.2 1204 222.2 1205 225C1206 227.8 1207.7 229.8 1209 229C1210.3 228.2 1211.8 223.7 1213 220C1214.2 216.3 1214.2 210.3 1216 207C1217.8 203.7 1222.2 204.5 1224 200C1225.8 195.5 1226.3 199.2 1227 180C1227.7 160.8 1224.2 100.8 1228 85C1231.8 69.2 1246.3 43.3 1250 85C1253.7 126.7 1265.3 293.3 1250 335C1234.7 376.7 1172.8 338 1158 335C1143.2 332 1159.7 321.7 1161 317C1162.3 312.3 1163.8 310.3 1166 307C1168.2 303.7 1172.5 300.3 1174 297C1175.5 293.7 1175.8 290.3 1175 287C1174.2 283.7 1171.7 279.5 1169 277C1166.3 274.5 1162.8 273 1159 272C1155.2 271 1150.2 272.2 1146 271C1141.8 269.8 1136.8 268.2 1134 265C1131.2 261.8 1129.5 256.7 1129 252C1128.5 247.3 1129.8 242.2 1131 237C1132.2 231.8 1133.8 224 1136 221Z" fill="none" stroke="#a3a3a3" stroke-width="13" stroke-linejoin="round"/>
<path d="M715 360C723.3 345.2 753.3 358.3 765 357C776.7 355.7 779.7 354 785 352C790.3 350 793.7 347.8 797 345C800.3 342.2 801.7 337.7 805 335C808.3 332.3 812.8 331.2 817 329C821.2 326.8 826.2 324.2 830 322C833.8 319.8 837.5 317.7 840 316C842.5 314.3 838.3 313.8 845 312C851.7 310.2 864.5 306.2 880 305C895.5 303.8 928.3 302.8 938 305C947.7 307.2 937.5 314.7 938 318C938.5 321.3 939 323.5 941 325C943 326.5 945.2 327.2 950 327C954.8 326.8 962.5 325.2 970 324C977.5 322.8 986.7 320.5 995 320C1003.3 319.5 1014 319.5 1020 321C1026 322.5 1026.2 326.7 1031 329C1035.8 331.3 1043.5 334.5 1049 335C1054.5 335.5 1060.3 333.7 1064 332C1067.7 330.3 1069.5 329.5 1071 325C1072.5 320.5 1067.5 308.3 1073 305C1078.5 301.7 1098.7 301.3 1104 305C1109.3 308.7 1103.8 321.7 1105 327C1106.2 332.3 1107 334.5 1111 337C1115 339.5 1122.7 341.5 1129 342C1135.3 342.5 1144 341.7 1149 340C1154 338.3 1157.2 337.8 1159 332C1160.8 326.2 1144.8 309.5 1160 305C1175.2 300.5 1235 285.5 1250 305C1265 324.5 1254.3 402.7 1250 422C1245.7 441.3 1232.5 421.8 1224 421C1215.5 420.2 1207.3 418.8 1199 417C1190.7 415.2 1181.5 411 1174 410C1166.5 409 1162.3 410.5 1154 411C1145.7 411.5 1135.3 412.3 1124 413C1112.7 413.7 1098.5 414.5 1086 415C1073.5 415.5 1061.5 415.7 1049 416C1036.5 416.3 1023.5 416.3 1011 417C998.5 417.7 985 419.3 974 420C963 420.7 954.5 420.2 945 421C935.5 421.8 924.5 423.3 917 425C909.5 426.7 904.5 428.5 900 431C895.5 433.5 892 436.8 890 440C888 443.2 886.8 447.2 888 450C889.2 452.8 893.3 454.5 897 457C900.7 459.5 906.7 462 910 465C913.3 468 916.7 472.5 917 475C917.3 477.5 915.7 478.5 912 480C908.3 481.5 902 483 895 484C888 485 882.5 485.2 870 486C857.5 486.8 836.7 488.8 820 489C803.3 489.2 782.5 487.8 770 487C757.5 486.2 750.8 486 745 484C739.2 482 735.8 478.2 735 475C734.2 471.8 737.2 468.3 740 465C742.8 461.7 751.2 457.7 752 455C752.8 452.3 751.2 450.5 745 449C738.8 447.5 720 460.8 715 446C710 431.2 706.7 374.8 715 360Z" fill="none" stroke="#a3a3a3" stroke-width="13" stroke-linejoin="round"/>
<path d="M1174 412C1165.7 412.5 1138.7 414.2 1124 415C1109.3 415.8 1098.5 416.5 1086 417C1073.5 417.5 1061.5 417.7 1049 418C1036.5 418.3 1023.5 418.3 1011 419C998.5 419.7 985 421.3 974 422C963 422.7 954.5 422.2 945 423C935.5 423.8 924.5 425.3 917 427C909.5 428.7 904.5 430.5 900 433C895.5 435.5 892 438.8 890 442C888 445.2 888.3 450.3 888 452" fill="none" stroke="#a1a1a1" stroke-width="22" stroke-linecap="round" stroke-linejoin="round"/>
<ellipse cx="746" cy="117" rx="6" ry="16.5" fill="#9e9e9e"/>
<ellipse cx="759" cy="115" rx="5.1" ry="10" fill="#9e9e9e"/>
<ellipse cx="751" cy="172" rx="8" ry="19" fill="#9e9e9e"/>
<ellipse cx="779" cy="167" rx="11.5" ry="18" fill="#9e9e9e"/>
<ellipse cx="816" cy="110" rx="5.7" ry="15" fill="#9e9e9e"/>
<ellipse cx="834" cy="162" rx="6.7" ry="16.5" fill="#9e9e9e"/>
<ellipse cx="904" cy="162" rx="6.7" ry="15" fill="#9e9e9e"/>
<ellipse cx="925" cy="132" rx="6.1" ry="19" fill="#9e9e9e"/>
<ellipse cx="951" cy="105" rx="6.7" ry="23" fill="#9e9e9e"/>
<ellipse cx="949" cy="175" rx="6.7" ry="16.5" fill="#9e9e9e"/>
<ellipse cx="984" cy="132" rx="11" ry="28" fill="#9e9e9e"/>
<ellipse cx="999" cy="127" rx="5.5" ry="14" fill="#9e9e9e"/>
<ellipse cx="1019" cy="95" rx="6.1" ry="14" fill="#9e9e9e"/>
<ellipse cx="1016" cy="187" rx="10" ry="31" fill="#9e9e9e"/>
<ellipse cx="1073" cy="107" rx="6.1" ry="20" fill="#9e9e9e"/>
<ellipse cx="1061" cy="155" rx="5.1" ry="11.5" fill="#9e9e9e"/>
<ellipse cx="1080" cy="170" rx="10" ry="19" fill="#9e9e9e"/>
<ellipse cx="1212" cy="167" rx="5.9" ry="10" fill="#9e9e9e"/>
</g>
<g filter="url(#b1_8)">
<path d="M715 30 L1250 30 L1250 100 L1228 100 L1227 87 L1224 82.5 L1211.5 85 L1201.5 81 L1195 76 L1189 84 L1179 81 L1166.5 77.5 L1159 70 L1149 77.5 L1144 72.5 L1134 76 L1124 75 L1114 77.5 L1104 76 L1096.2 78.4 L1092.3 73.8 L1089.7 62 L1087.7 54 L1085.8 62 L1083 71 L1078 68.6 L1072.7 70 L1068.7 71 L1066 77.7 L1062.2 76.4 L1058.3 73 L1054.3 71 L1052.4 64.6 L1051.7 46 L1047.8 46 L1045.2 58 L1043.2 64.6 L1041.3 66 L1038.6 67 L1036.7 60.7 L1034.7 46 L1031.4 46 L1030 60.7 L1028.2 72.5 L1024.2 74.5 L1019.7 73 L1018 64.6 L1017 46 L1011 46 L1008.5 53 L1006.6 58 L1006 67 L1003.3 66 L1001.3 60.7 L1000 46 L994.8 46 L993.5 64.6 L991.5 73 L989 71 L987.6 60.7 L986 46 L979 46 L977.8 55.5 L975.8 64.6 L973.2 70.5 L969.3 67 L968 62 L962.7 66 L956 73 L949.6 74.5 L947 60.7 L945 51.5 L943 58 L939.2 75 L934.6 84.3 L930 78 L927.5 76 L922.5 65 L919 59 L912.5 67.5 L906 72.5 L900 67.5 L895 74 L890 69 L885 67.5 L880 76 L874 82.5 L870 90 L867.5 101 L864 99 L859 87.5 L854 77.5 L847.5 72.5 L842.5 75 L835 71 L827.5 77.5 L820 75 L814 80 L807.5 79 L802.5 74 L797.5 75 L792.5 82.5 L785 85 L780 87.5 L779 100 L776 115 L772.5 113 L769 95 L766 84 L760 86 L752.5 90 L747.5 86 L742.5 90 L739 88 L736 90 L724 91 L715 91Z" fill="none" stroke="#999999" stroke-width="7" stroke-linejoin="round"/>
<path d="M715 30 L1250 30 L1250 100 L1228 100 L1227 87 L1224 82.5 L1211.5 85 L1201.5 81 L1195 76 L1189 84 L1179 81 L1166.5 77.5 L1159 70 L1149 77.5 L1144 72.5 L1134 76 L1124 75 L1114 77.5 L1104 76 L1096.2 78.4 L1092.3 73.8 L1089.7 62 L1087.7 54 L1085.8 62 L1083 71 L1078 68.6 L1072.7 70 L1068.7 71 L1066 77.7 L1062.2 76.4 L1058.3 73 L1054.3 71 L1052.4 64.6 L1051.7 46 L1047.8 46 L1045.2 58 L1043.2 64.6 L1041.3 66 L1038.6 67 L1036.7 60.7 L1034.7 46 L1031.4 46 L1030 60.7 L1028.2 72.5 L1024.2 74.5 L1019.7 73 L1018 64.6 L1017 46 L1011 46 L1008.5 53 L1006.6 58 L1006 67 L1003.3 66 L1001.3 60.7 L1000 46 L994.8 46 L993.5 64.6 L991.5 73 L989 71 L987.6 60.7 L986 46 L979 46 L977.8 55.5 L975.8 64.6 L973.2 70.5 L969.3 67 L968 62 L962.7 66 L956 73 L949.6 74.5 L947 60.7 L945 51.5 L943 58 L939.2 75 L934.6 84.3 L930 78 L927.5 76 L922.5 65 L919 59 L912.5 67.5 L906 72.5 L900 67.5 L895 74 L890 69 L885 67.5 L880 76 L874 82.5 L870 90 L867.5 101 L864 99 L859 87.5 L854 77.5 L847.5 72.5 L842.5 75 L835 71 L827.5 77.5 L820 75 L814 80 L807.5 79 L802.5 74 L797.5 75 L792.5 82.5 L785 85 L780 87.5 L779 100 L776 115 L772.5 113 L769 95 L766 84 L760 86 L752.5 90 L747.5 86 L742.5 90 L739 88 L736 90 L724 91 L715 91Z" fill="#f5f5f5"/>
<path d="M715 40 L738 40 L737 90 L739 130 L740 180 L715 180Z" fill="#f2f2f2"/>
<ellipse cx="746" cy="117" rx="2.5" ry="12.5" fill="#d6d6d6"/>
<ellipse cx="759" cy="115" rx="1.6" ry="6" fill="#d6d6d6"/>
<ellipse cx="751" cy="172" rx="4.5" ry="15" fill="#d6d6d6"/>
<ellipse cx="779" cy="167" rx="8" ry="14" fill="#d6d6d6"/>
<ellipse cx="816" cy="110" rx="2.2" ry="11" fill="#d6d6d6"/>
<ellipse cx="834" cy="162" rx="3.2" ry="12.5" fill="#d6d6d6"/>
<ellipse cx="904" cy="162" rx="3.2" ry="11" fill="#d6d6d6"/>
<ellipse cx="925" cy="132" rx="2.6" ry="15" fill="#d6d6d6"/>
<ellipse cx="951" cy="105" rx="3.2" ry="19" fill="#d6d6d6"/>
<ellipse cx="949" cy="175" rx="3.2" ry="12.5" fill="#d6d6d6"/>
<ellipse cx="984" cy="132" rx="7.5" ry="24" fill="#d6d6d6"/>
<ellipse cx="999" cy="127" rx="2" ry="10" fill="#d6d6d6"/>
<ellipse cx="1019" cy="95" rx="2.6" ry="10" fill="#d6d6d6"/>
<ellipse cx="1016" cy="187" rx="6.5" ry="27" fill="#d6d6d6"/>
<ellipse cx="1073" cy="107" rx="2.6" ry="16" fill="#d6d6d6"/>
<ellipse cx="1061" cy="155" rx="1.6" ry="7.5" fill="#d6d6d6"/>
<ellipse cx="1080" cy="170" rx="6.5" ry="15" fill="#d6d6d6"/>
<ellipse cx="1212" cy="167" rx="2.4" ry="6" fill="#d6d6d6"/>
</g>
<g filter="url(#b2_8)">
<path d="M720 170C723.2 142.5 735.7 165.8 739 170C742.3 174.2 739.5 188 740 195C740.5 202 740.8 207 742 212C743.2 217 744.5 222 747 225C749.5 228 753.7 228.8 757 230C760.3 231.2 764 230 767 232C770 234 772 238.2 775 242C778 245.8 782.7 250.8 785 255C787.3 259.2 788.7 262 789 267C789.3 272 788.5 280.8 787 285C785.5 289.2 783.7 290 780 292C776.3 294 769.7 295.3 765 297C760.3 298.7 755.2 300.3 752 302C748.8 303.7 748 301.5 746 307C744 312.5 744.3 330.3 740 335C735.7 339.7 723.3 362.5 720 335C716.7 307.5 716.8 197.5 720 170Z" fill="#dedede"/>
<path d="M791 135C791.8 122.5 795 120 797 120C799 120 801.7 122.5 803 135C804.3 147.5 804.3 183 805 195C805.7 207 805.8 203.8 807 207C808.2 210.2 809.8 213.5 812 214C814.2 214.5 817.5 211.5 820 210C822.5 208.5 824.2 205.7 827 205C829.8 204.3 834.5 204.8 837 206C839.5 207.2 840.8 208 842 212C843.2 216 843.5 224.2 844 230C844.5 235.8 844 242.8 845 247C846 251.2 847.5 252.8 850 255C852.5 257.2 857.2 258.8 860 260C862.8 261.2 865.3 260.8 867 262C868.7 263.2 868.7 264.5 870 267C871.3 269.5 873.3 274.7 875 277C876.7 279.3 878.5 277.2 880 281C881.5 284.8 884 290.2 884 300C884 309.8 891.5 333.3 880 340C868.5 346.7 824 341.7 815 340C806 338.3 822.2 333 826 330C829.8 327 834.8 325 838 322C841.2 319 843.7 315.7 845 312C846.3 308.3 846.5 304.2 846 300C845.5 295.8 843.5 290.8 842 287C840.5 283.2 839 280.7 837 277C835 273.3 832.8 268.3 830 265C827.2 261.7 823.3 259.5 820 257C816.7 254.5 813.3 252.8 810 250C806.7 247.2 802.2 243.3 800 240C797.8 236.7 797.8 234.7 797 230C796.2 225.3 795.8 217.8 795 212C794.2 206.2 792.7 207.8 792 195C791.3 182.2 790.2 147.5 791 135Z" fill="#dedede"/>
<path d="M854 152C855.5 146.7 857.7 140 860 136C862.3 132 865.3 128.3 868 128C870.7 127.7 873.7 130.3 876 134C878.3 137.7 880.5 144.8 882 150C883.5 155.2 884.7 160 885 165C885.3 170 885 174.5 884 180C883 185.5 880.7 192.5 879 198C877.3 203.5 874.2 209 874 213C873.8 217 876.2 219.8 878 222C879.8 224.2 881.3 226.3 885 226C888.7 225.7 895.8 221.8 900 220C904.2 218.2 907.2 214.7 910 215C912.8 215.3 914.2 219.5 917 222C919.8 224.5 923.7 228.3 927 230C930.3 231.7 934.2 230 937 232C939.8 234 942.5 237 944 242C945.5 247 945.8 254.8 946 262C946.2 269.2 945.8 277.8 945 285C944.2 292.2 941.8 296.7 941 305C940.2 313.3 950.5 330 940 335C929.5 340 888 344 878 335C868 326 878.8 290.7 880 281C881.2 271.3 883.5 279.7 885 277C886.5 274.3 888.2 269.2 889 265C889.8 260.8 890.3 255.8 890 252C889.7 248.2 888.7 243.8 887 242C885.3 240.2 882.2 241.5 880 241C877.8 240.5 875.7 241.3 874 239C872.3 236.7 871.2 231.5 870 227C868.8 222.5 867.7 217.3 867 212C866.3 206.7 867.5 200 866 195C864.5 190 860.5 186.5 858 182C855.5 177.5 851.7 173 851 168C850.3 163 852.5 157.3 854 152Z" fill="#dedede"/>
<path d="M1054 225C1055.8 222.2 1058.2 220.5 1061 220C1063.8 219.5 1067.7 222.5 1071 222C1074.3 221.5 1078 218.2 1081 217C1084 215.8 1086 214.7 1089 215C1092 215.3 1096.2 217.8 1099 219C1101.8 220.2 1104.2 219.8 1106 222C1107.8 224.2 1108.7 228.2 1110 232C1111.3 235.8 1113 241.2 1114 245C1115 248.8 1116.7 251.7 1116 255C1115.3 258.3 1111.8 261.7 1110 265C1108.2 268.3 1105.8 270.5 1105 275C1104.2 279.5 1105.2 286.2 1105 292C1104.8 297.8 1104.2 302.8 1104 310C1103.8 317.2 1109 330.8 1104 335C1099 339.2 1079.7 337.5 1074 335C1068.3 332.5 1071.5 324.7 1070 320C1068.5 315.3 1066 311.7 1065 307C1064 302.3 1063.8 296.5 1064 292C1064.2 287.5 1065.8 284.2 1066 280C1066.2 275.8 1066.2 270.8 1065 267C1063.8 263.2 1061 259.8 1059 257C1057 254.2 1054.5 253.3 1053 250C1051.5 246.7 1049.8 241.2 1050 237C1050.2 232.8 1052.2 227.8 1054 225Z" fill="#dedede"/>
<path d="M1136 221C1138.2 218 1141.5 218.5 1144 219C1146.5 219.5 1148.5 222.8 1151 224C1153.5 225.2 1156.7 226.7 1159 226C1161.3 225.3 1163.5 223.5 1165 220C1166.5 216.5 1168.2 209.7 1168 205C1167.8 200.3 1165 197.5 1164 192C1163 186.5 1161.7 179 1162 172C1162.3 165 1164.5 154.5 1166 150C1167.5 145.5 1169.7 144.2 1171 145C1172.3 145.8 1174 149.2 1174 155C1174 160.8 1171.7 173.3 1171 180C1170.3 186.7 1169.5 190.7 1170 195C1170.5 199.3 1172.2 203.7 1174 206C1175.8 208.3 1178.5 209.3 1181 209C1183.5 208.7 1186.8 206 1189 204C1191.2 202 1192.2 197.7 1194 197C1195.8 196.3 1198.5 197.5 1200 200C1201.5 202.5 1202.2 207.8 1203 212C1203.8 216.2 1204 222.2 1205 225C1206 227.8 1207.7 229.8 1209 229C1210.3 228.2 1211.8 223.7 1213 220C1214.2 216.3 1214.2 210.3 1216 207C1217.8 203.7 1222.2 204.5 1224 200C1225.8 195.5 1226.3 199.2 1227 180C1227.7 160.8 1224.2 100.8 1228 85C1231.8 69.2 1246.3 43.3 1250 85C1253.7 126.7 1265.3 293.3 1250 335C1234.7 376.7 1172.8 338 1158 335C1143.2 332 1159.7 321.7 1161 317C1162.3 312.3 1163.8 310.3 1166 307C1168.2 303.7 1172.5 300.3 1174 297C1175.5 293.7 1175.8 290.3 1175 287C1174.2 283.7 1171.7 279.5 1169 277C1166.3 274.5 1162.8 273 1159 272C1155.2 271 1150.2 272.2 1146 271C1141.8 269.8 1136.8 268.2 1134 265C1131.2 261.8 1129.5 256.7 1129 252C1128.5 247.3 1129.8 242.2 1131 237C1132.2 231.8 1133.8 224 1136 221Z" fill="#dedede"/>
<path d="M715 360C723.3 345.2 753.3 358.3 765 357C776.7 355.7 779.7 354 785 352C790.3 350 793.7 347.8 797 345C800.3 342.2 801.7 337.7 805 335C808.3 332.3 812.8 331.2 817 329C821.2 326.8 826.2 324.2 830 322C833.8 319.8 837.5 317.7 840 316C842.5 314.3 838.3 313.8 845 312C851.7 310.2 864.5 306.2 880 305C895.5 303.8 928.3 302.8 938 305C947.7 307.2 937.5 314.7 938 318C938.5 321.3 939 323.5 941 325C943 326.5 945.2 327.2 950 327C954.8 326.8 962.5 325.2 970 324C977.5 322.8 986.7 320.5 995 320C1003.3 319.5 1014 319.5 1020 321C1026 322.5 1026.2 326.7 1031 329C1035.8 331.3 1043.5 334.5 1049 335C1054.5 335.5 1060.3 333.7 1064 332C1067.7 330.3 1069.5 329.5 1071 325C1072.5 320.5 1067.5 308.3 1073 305C1078.5 301.7 1098.7 301.3 1104 305C1109.3 308.7 1103.8 321.7 1105 327C1106.2 332.3 1107 334.5 1111 337C1115 339.5 1122.7 341.5 1129 342C1135.3 342.5 1144 341.7 1149 340C1154 338.3 1157.2 337.8 1159 332C1160.8 326.2 1144.8 309.5 1160 305C1175.2 300.5 1235 285.5 1250 305C1265 324.5 1254.3 402.7 1250 422C1245.7 441.3 1232.5 421.8 1224 421C1215.5 420.2 1207.3 418.8 1199 417C1190.7 415.2 1181.5 411 1174 410C1166.5 409 1162.3 410.5 1154 411C1145.7 411.5 1135.3 412.3 1124 413C1112.7 413.7 1098.5 414.5 1086 415C1073.5 415.5 1061.5 415.7 1049 416C1036.5 416.3 1023.5 416.3 1011 417C998.5 417.7 985 419.3 974 420C963 420.7 954.5 420.2 945 421C935.5 421.8 924.5 423.3 917 425C909.5 426.7 904.5 428.5 900 431C895.5 433.5 892 436.8 890 440C888 443.2 886.8 447.2 888 450C889.2 452.8 893.3 454.5 897 457C900.7 459.5 906.7 462 910 465C913.3 468 916.7 472.5 917 475C917.3 477.5 915.7 478.5 912 480C908.3 481.5 902 483 895 484C888 485 882.5 485.2 870 486C857.5 486.8 836.7 488.8 820 489C803.3 489.2 782.5 487.8 770 487C757.5 486.2 750.8 486 745 484C739.2 482 735.8 478.2 735 475C734.2 471.8 737.2 468.3 740 465C742.8 461.7 751.2 457.7 752 455C752.8 452.3 751.2 450.5 745 449C738.8 447.5 720 460.8 715 446C710 431.2 706.7 374.8 715 360Z" fill="#dedede"/>
<ellipse cx="902" cy="457" rx="18" ry="27" fill="#c2c2c2"/>
<ellipse cx="872" cy="474" rx="36" ry="12" fill="#cccccc"/>
<ellipse cx="1234" cy="330" rx="12" ry="70" fill="#c7c7c7"/>
<ellipse cx="1232" cy="282" rx="9" ry="17" fill="#a8a8a8"/>
<rect x="715" y="327" width="36" height="28" fill="#999999"/>
<rect x="715" y="340" width="40" height="10" fill="#4c4c4c"/>
<rect x="715" y="343" width="30" height="5" fill="#333333"/>
<ellipse cx="1228" cy="362" rx="18" ry="18" fill="#9e9e9e"/>
<ellipse cx="1236" cy="362" rx="8" ry="10" fill="#858585"/>
</g>
<g filter="url(#b5)">
<ellipse cx="762" cy="262" rx="13" ry="18" fill="#f7f7f7"/>
<ellipse cx="826" cy="226" rx="10" ry="12" fill="#f2f2f2"/>
<ellipse cx="912" cy="275" rx="16" ry="30" fill="#f5f5f5"/>
<ellipse cx="1091" cy="243" rx="12" ry="16" fill="#f7f7f7"/>
<ellipse cx="1180" cy="244" rx="14" ry="20" fill="#f7f7f7"/>
<ellipse cx="990" cy="371" rx="125" ry="21" fill="#fafafa" transform="rotate(3 990 371)"/>
<ellipse cx="900" cy="352" rx="40" ry="12" fill="#f5f5f5" transform="rotate(8 900 352)"/>
<ellipse cx="790" cy="410" rx="30" ry="10" fill="#f2f2f2"/>
<ellipse cx="843" cy="372" rx="15" ry="36" fill="#c4c4c4" transform="rotate(-22 843 372)"/>
<ellipse cx="785" cy="405" rx="20" ry="26" fill="#f7f7f7"/>
<rect x="700" y="36" width="175" height="30" fill="#fcfcfc"/>
<rect x="1100" y="36" width="160" height="30" fill="#fcfcfc"/>
<rect x="880" y="36" width="215" height="20" fill="#ededed"/>
</g>
<g filter="url(#b1)">
<path d="M979 44 L986 44 L986.5 62 L982.5 76 L978.5 62Z" fill="#999999"/>
<path d="M994.8 44 L1000 44 L1000.5 62 L997.4 76 L994.3 62Z" fill="#999999"/>
<path d="M1011 44 L1017 44 L1017.5 62 L1014 76 L1010.5 62Z" fill="#999999"/>
<path d="M1030.5 44 L1035.7 44 L1036.2 62 L1033.1 76 L1030 62Z" fill="#999999"/>
<path d="M1047.2 44 L1052.3 44 L1052.8 62 L1049.8 76 L1046.7 62Z" fill="#999999"/>
</g>
</g>
<g fill="none" stroke="#000" stroke-width="2" stroke-linejoin="round" stroke-linecap="round">
<path d="M736 90C736.7 89.5 737.5 88 739 88C740.5 88 740.5 90.5 742.5 90C744.5 89.5 745.2 86 747.5 86C749.8 86 749.6 90 752.5 90C755.4 90 756.9 87.4 760 86C763.1 84.6 763.9 81.9 766 84C768.1 86.1 767.5 88.2 769 95C770.5 101.8 770.9 108.3 772.5 113C774.1 117.7 774.5 118 776 115C777.5 112 778.1 106.4 779 100C779.9 93.6 778.6 91 780 87.5C781.4 84 782.1 86.2 785 85C787.9 83.8 789.6 84.8 792.5 82.5C795.4 80.2 795.2 77 797.5 75C799.8 73 800.2 73.1 802.5 74C804.8 74.9 804.8 77.6 807.5 79C810.2 80.4 811.1 80.9 814 80C816.9 79.1 816.9 75.6 820 75C823.1 74.4 824 78.4 827.5 77.5C831 76.6 831.5 71.6 835 71C838.5 70.4 839.6 74.7 842.5 75C845.4 75.3 844.8 71.9 847.5 72.5C850.2 73.1 851.3 74 854 77.5C856.7 81 856.7 82.5 859 87.5C861.3 92.5 862 95.8 864 99C866 102.2 866.1 103.1 867.5 101C868.9 98.9 868.5 94.3 870 90C871.5 85.7 871.7 85.8 874 82.5C876.3 79.2 877.4 79.5 880 76C882.6 72.5 882.7 69.1 885 67.5C887.3 65.9 887.7 67.5 890 69C892.3 70.5 892.7 74.3 895 74C897.3 73.7 897.4 67.8 900 67.5C902.6 67.2 903.1 72.5 906 72.5C908.9 72.5 909.5 70.7 912.5 67.5C915.5 64.3 916.7 59.6 919 59C921.3 58.4 920.5 61 922.5 65C924.5 69 925.8 73 927.5 76C929.2 79 928.3 76.1 930 78C931.7 79.9 932.5 85 934.6 84.3C936.7 83.6 937.2 81.1 939.2 75C941.2 68.9 941.6 63.5 943 58C944.4 52.5 944.1 50.9 945 51.5C945.9 52.1 945.9 55.3 947 60.7C948.1 66.1 947.5 71.6 949.6 74.5C951.7 77.4 952.9 75 956 73C959.1 71 959.9 68.6 962.7 66C965.5 63.4 966.5 61.8 968 62C969.5 62.2 968.1 65 969.3 67C970.5 69 971.7 71.1 973.2 70.5C974.7 69.9 974.7 68.1 975.8 64.6C976.9 61.1 977.1 59.8 977.8 55.5C978.5 51.2 978.7 48.2 979 46"/>
<path d="M986 46C986.4 49.4 986.9 54.9 987.6 60.7C988.3 66.5 988.1 68.1 989 71C989.9 73.9 990.5 74.5 991.5 73C992.5 71.5 992.7 70.9 993.5 64.6C994.3 58.3 994.5 50.3 994.8 46"/>
<path d="M1000 46C1000.3 49.4 1000.5 56 1001.3 60.7C1002.1 65.4 1002.2 64.5 1003.3 66C1004.4 67.5 1005.2 68.9 1006 67C1006.8 65.1 1006 61.3 1006.6 58C1007.2 54.7 1007.5 55.8 1008.5 53C1009.5 50.2 1010.4 47.6 1011 46"/>
<path d="M1017 46C1017.2 50.3 1017.4 58.3 1018 64.6C1018.6 70.9 1018.3 70.7 1019.7 73C1021.1 75.3 1022.2 74.6 1024.2 74.5C1026.2 74.4 1026.8 75.7 1028.2 72.5C1029.6 69.3 1029.3 66.9 1030 60.7C1030.7 54.5 1031.1 49.4 1031.4 46"/>
<path d="M1034.7 46C1035.2 49.4 1035.8 55.8 1036.7 60.7C1037.6 65.6 1037.5 65.8 1038.6 67C1039.7 68.2 1040.2 66.6 1041.3 66C1042.4 65.4 1042.3 66.5 1043.2 64.6C1044.1 62.7 1044.1 62.3 1045.2 58C1046.3 53.7 1047.2 48.8 1047.8 46"/>
<path d="M1051.7 46C1051.9 50.3 1051.8 58.8 1052.4 64.6C1053 70.4 1052.9 69 1054.3 71C1055.7 73 1056.5 71.7 1058.3 73C1060.1 74.3 1060.4 75.3 1062.2 76.4C1064 77.5 1064.5 79 1066 77.7C1067.5 76.4 1067.1 72.8 1068.7 71C1070.3 69.2 1070.5 70.6 1072.7 70C1074.9 69.4 1075.6 68.4 1078 68.6C1080.4 68.8 1081.2 72.5 1083 71C1084.8 69.5 1084.7 66 1085.8 62C1086.9 58 1086.8 54 1087.7 54C1088.6 54 1088.6 57.4 1089.7 62C1090.8 66.6 1090.8 70 1092.3 73.8C1093.8 77.6 1093.5 77.9 1096.2 78.4C1098.9 78.9 1099.8 76.2 1104 76C1108.2 75.8 1109.3 77.7 1114 77.5C1118.7 77.3 1119.3 75.3 1124 75C1128.7 74.7 1129.3 76.6 1134 76C1138.7 75.4 1140.5 72.2 1144 72.5C1147.5 72.8 1145.5 78.1 1149 77.5C1152.5 76.9 1154.9 70 1159 70C1163.1 70 1161.8 74.9 1166.5 77.5C1171.2 80.1 1173.8 79.5 1179 81C1184.2 82.5 1185.3 85.2 1189 84C1192.7 82.8 1192.1 76.7 1195 76C1197.9 75.3 1197.7 78.9 1201.5 81C1205.3 83.1 1206.2 84.7 1211.5 85C1216.8 85.3 1220.4 82 1224 82.5C1227.6 83 1226.1 82.9 1227 87C1227.9 91.1 1227.8 87.6 1228 100C1228.2 112.4 1228.1 121.3 1228 140C1227.9 158.7 1227.6 170.7 1227.5 180"/>
<path d="M737 90C737.2 96.7 737.7 115 738 130C738.3 145 738.7 169.2 739 180C739.3 190.8 739.5 189.7 740 195C740.5 200.3 740.8 207 742 212C743.2 217 744.5 222 747 225C749.5 228 753.7 228.8 757 230C760.3 231.2 764 230 767 232C770 234 772 238.2 775 242C778 245.8 782.7 250.8 785 255C787.3 259.2 788.7 262 789 267C789.3 272 788.5 280.8 787 285C785.5 289.2 783.7 290 780 292C776.3 294 769.7 295.3 765 297C760.3 298.7 755.2 300.3 752 302C748.8 303.7 747 306.2 746 307"/>
<path d="M805 195C804.7 189.2 803.5 170 803 160C802.5 150 803 141.7 802 135C801 128.3 798.7 120 797 120C795.3 120 793 128.3 792 135C791 141.7 791 150 791 160C791 170 791.3 186.3 792 195C792.7 203.7 794.2 206.2 795 212C795.8 217.8 796.2 225.3 797 230C797.8 234.7 797.8 236.7 800 240C802.2 243.3 806.7 247.2 810 250C813.3 252.8 816.7 254.5 820 257C823.3 259.5 827.2 261.7 830 265C832.8 268.3 835 273.3 837 277C839 280.7 840.5 283.2 842 287C843.5 290.8 845.5 295.8 846 300C846.5 304.2 846 309.3 845 312C844 314.7 842.5 314.3 840 316C837.5 317.7 833.8 319.8 830 322C826.2 324.2 821.2 326.8 817 329C812.8 331.2 808.3 332.3 805 335C801.7 337.7 800.3 342.2 797 345C793.7 347.8 790.3 350 785 352C779.7 354 775.2 355.8 765 357C754.8 358.2 730.8 358.7 724 359"/>
<path d="M805 195C805.3 197 805.8 203.8 807 207C808.2 210.2 809.8 213.5 812 214C814.2 214.5 817.5 211.5 820 210C822.5 208.5 824.2 205.7 827 205C829.8 204.3 834.5 204.8 837 206C839.5 207.2 840.8 208 842 212C843.2 216 843.5 224.2 844 230C844.5 235.8 844 242.8 845 247C846 251.2 847.5 252.8 850 255C852.5 257.2 857.2 258.8 860 260C862.8 261.2 865.3 260.8 867 262C868.7 263.2 868.7 264.5 870 267C871.3 269.5 873.3 274.7 875 277C876.7 279.3 878.3 281 880 281C881.7 281 883.5 279.7 885 277C886.5 274.3 888.2 269.2 889 265C889.8 260.8 890.3 255.8 890 252C889.7 248.2 888.7 243.8 887 242C885.3 240.2 882.2 241.5 880 241C877.8 240.5 875.7 241.3 874 239C872.3 236.7 871.2 231.5 870 227C868.8 222.5 867.7 217.3 867 212C866.3 206.7 867.5 200 866 195C864.5 190 860.5 186.5 858 182C855.5 177.5 851.7 173 851 168C850.3 163 852.5 157.3 854 152C855.5 146.7 857.7 140 860 136C862.3 132 865.3 128.3 868 128C870.7 127.7 873.7 130.3 876 134C878.3 137.7 880.5 144.8 882 150C883.5 155.2 884.7 160 885 165C885.3 170 885 174.5 884 180C883 185.5 880.7 192.5 879 198C877.3 203.5 874.2 209 874 213C873.8 217 876.2 219.8 878 222C879.8 224.2 881.3 226.3 885 226C888.7 225.7 895.8 221.8 900 220C904.2 218.2 907.2 214.7 910 215C912.8 215.3 914.2 219.5 917 222C919.8 224.5 923.7 228.3 927 230C930.3 231.7 934.2 230 937 232C939.8 234 942.5 237 944 242C945.5 247 945.8 254.8 946 262C946.2 269.2 945.8 277.8 945 285C944.2 292.2 942.2 299.8 941 305C939.8 310.2 938 312.7 938 316C938 319.3 939 323.2 941 325C943 326.8 945.2 327.2 950 327C954.8 326.8 962.5 325.2 970 324C977.5 322.8 986.7 320.5 995 320C1003.3 319.5 1014 319.5 1020 321C1026 322.5 1026.2 326.7 1031 329C1035.8 331.3 1043.5 334.5 1049 335C1054.5 335.5 1060.3 333.7 1064 332C1067.7 330.3 1070 327 1071 325C1072 323 1071 323 1070 320C1069 317 1066 311.7 1065 307C1064 302.3 1063.8 296.5 1064 292C1064.2 287.5 1065.8 284.2 1066 280C1066.2 275.8 1066.2 270.8 1065 267C1063.8 263.2 1061 259.8 1059 257C1057 254.2 1054.5 253.3 1053 250C1051.5 246.7 1049.8 241.2 1050 237C1050.2 232.8 1052.2 227.8 1054 225C1055.8 222.2 1058.2 220.5 1061 220C1063.8 219.5 1067.7 222.5 1071 222C1074.3 221.5 1078 218.2 1081 217C1084 215.8 1086 214.7 1089 215C1092 215.3 1096.2 217.8 1099 219C1101.8 220.2 1104.2 219.8 1106 222C1107.8 224.2 1108.7 228.2 1110 232C1111.3 235.8 1113 241.2 1114 245C1115 248.8 1116.7 251.7 1116 255C1115.3 258.3 1111.8 261.7 1110 265C1108.2 268.3 1105.8 270.5 1105 275C1104.2 279.5 1105.2 286.2 1105 292C1104.8 297.8 1104 304.2 1104 310C1104 315.8 1103.8 322.5 1105 327C1106.2 331.5 1107 334.5 1111 337C1115 339.5 1122.7 341.5 1129 342C1135.3 342.5 1144 341.7 1149 340C1154 338.3 1157 335.8 1159 332C1161 328.2 1159.8 321.2 1161 317C1162.2 312.8 1163.8 310.3 1166 307C1168.2 303.7 1172.5 300.3 1174 297C1175.5 293.7 1175.8 290.3 1175 287C1174.2 283.7 1171.7 279.5 1169 277C1166.3 274.5 1162.8 273 1159 272C1155.2 271 1150.2 272.2 1146 271C1141.8 269.8 1136.8 268.2 1134 265C1131.2 261.8 1129.5 256.7 1129 252C1128.5 247.3 1129.8 242.2 1131 237C1132.2 231.8 1133.8 224 1136 221C1138.2 218 1141.5 218.5 1144 219C1146.5 219.5 1148.5 222.8 1151 224C1153.5 225.2 1156.7 226.7 1159 226C1161.3 225.3 1163.5 223.5 1165 220C1166.5 216.5 1168.2 209.7 1168 205C1167.8 200.3 1165 197.5 1164 192C1163 186.5 1161.7 179 1162 172C1162.3 165 1164.5 154.5 1166 150C1167.5 145.5 1169.7 144.2 1171 145C1172.3 145.8 1174 149.2 1174 155C1174 160.8 1171.7 173.3 1171 180C1170.3 186.7 1169.5 190.7 1170 195C1170.5 199.3 1172.2 203.7 1174 206C1175.8 208.3 1178.5 209.3 1181 209C1183.5 208.7 1186.8 206 1189 204C1191.2 202 1192.2 197.7 1194 197C1195.8 196.3 1198.5 197.5 1200 200C1201.5 202.5 1202.2 207.8 1203 212C1203.8 216.2 1204 222.2 1205 225C1206 227.8 1207.7 229.8 1209 229C1210.3 228.2 1211.8 223.7 1213 220C1214.2 216.3 1214.2 210.3 1216 207C1217.8 203.7 1222.1 204.5 1224 200C1225.9 195.5 1226.9 183.3 1227.5 180"/>
<path d="M1241 422C1238.2 421.8 1231 421.8 1224 421C1217 420.2 1207.3 418.8 1199 417C1190.7 415.2 1181.5 411 1174 410C1166.5 409 1162.3 410.5 1154 411C1145.7 411.5 1135.3 412.3 1124 413C1112.7 413.7 1098.5 414.5 1086 415C1073.5 415.5 1061.5 415.7 1049 416C1036.5 416.3 1023.5 416.3 1011 417C998.5 417.7 985 419.3 974 420C963 420.7 954.5 420.2 945 421C935.5 421.8 924.5 423.3 917 425C909.5 426.7 904.5 428.5 900 431C895.5 433.5 892 436.8 890 440C888 443.2 886.8 447.2 888 450C889.2 452.8 893.3 454.5 897 457C900.7 459.5 906.7 462 910 465C913.3 468 916.7 472.5 917 475C917.3 477.5 915.7 478.5 912 480C908.3 481.5 902 483 895 484C888 485 882.5 485.2 870 486C857.5 486.8 836.7 488.8 820 489C803.3 489.2 782.5 487.8 770 487C757.5 486.2 750.8 486 745 484C739.2 482 735.8 478.2 735 475C734.2 471.8 737.2 468.3 740 465C742.8 461.7 751.2 457.7 752 455C752.8 452.3 749.7 450.5 745 449C740.3 447.5 727.5 446.5 724 446"/>
<path d="M748.8 117C748.8 120.8 748.9 119.3 748.5 122.6C748.2 126 748.4 124.8 747.7 127.2C747.1 129.5 747.4 128.8 746.6 129.7C745.8 130.5 746.2 130.5 745.4 129.7C744.6 128.8 744.9 129.5 744.3 127.2C743.6 124.8 743.8 126 743.5 122.6C743.1 119.3 743.2 120.8 743.2 117C743.2 113.2 743.1 114.7 743.5 111.4C743.8 108 743.6 109.2 744.3 106.8C744.9 104.5 744.6 105.2 745.4 104.3C746.2 103.5 745.8 103.5 746.6 104.3C747.4 105.2 747.1 104.5 747.7 106.8C748.4 109.2 748.2 108 748.5 111.4C748.9 114.7 748.8 113.2 748.8 117Z"/>
<path d="M760.9 115C760.9 116.9 761 116.1 760.7 117.8C760.5 119.5 760.6 118.9 760.2 120.1C759.8 121.3 760 120.9 759.4 121.3C758.9 121.8 759.1 121.8 758.6 121.3C758 120.9 758.2 121.3 757.8 120.1C757.4 118.9 757.5 119.5 757.3 117.8C757 116.1 757.1 116.9 757.1 115C757.1 113.1 757 113.9 757.3 112.2C757.5 110.5 757.4 111.1 757.8 109.9C758.2 108.7 758 109.1 758.6 108.7C759.1 108.2 758.9 108.2 759.4 108.7C760 109.1 759.8 108.7 760.2 109.9C760.6 111.1 760.5 110.5 760.7 112.2C761 113.9 760.9 113.1 760.9 115Z"/>
<path d="M755.8 172C755.8 176.5 755.9 174.7 755.3 178.7C754.7 182.8 755.1 181.3 754 184.1C752.9 186.9 753.4 186.1 752.1 187.1C750.7 188.1 751.3 188.1 749.9 187.1C748.6 186.1 749.1 186.9 748 184.1C746.9 181.3 747.3 182.8 746.7 178.7C746.1 174.7 746.2 176.5 746.2 172C746.2 167.5 746.1 169.3 746.7 165.3C747.3 161.2 746.9 162.7 748 159.9C749.1 157.1 748.6 157.9 749.9 156.9C751.3 155.9 750.7 155.9 752.1 156.9C753.4 157.9 752.9 157.1 754 159.9C755.1 162.7 754.7 161.2 755.3 165.3C755.9 169.3 755.8 167.5 755.8 172Z"/>
<path d="M787.3 167C787.3 171.2 787.5 169.5 786.5 173.3C785.4 177.1 786.1 175.7 784.2 178.3C782.3 181 783.2 180.2 780.8 181.1C778.5 182.1 779.5 182.1 777.2 181.1C774.8 180.2 775.7 181 773.8 178.3C771.9 175.7 772.6 177.1 771.5 173.3C770.5 169.5 770.7 171.2 770.7 167C770.7 162.8 770.5 164.5 771.5 160.7C772.6 156.9 771.9 158.3 773.8 155.7C775.7 153 774.8 153.8 777.2 152.9C779.5 151.9 778.5 151.9 780.8 152.9C783.2 153.8 782.3 153 784.2 155.7C786.1 158.3 785.4 156.9 786.5 160.7C787.5 164.5 787.3 162.8 787.3 167Z"/>
<path d="M818.5 110C818.5 113.3 818.6 112 818.3 115C817.9 118 818.1 116.9 817.6 119C817 121.1 817.3 120.5 816.6 121.2C815.9 122 816.1 122 815.4 121.2C814.7 120.5 815 121.1 814.4 119C813.9 116.9 814.1 118 813.7 115C813.4 112 813.5 113.3 813.5 110C813.5 106.7 813.4 108 813.7 105C814.1 102 813.9 103.1 814.4 101C815 98.9 814.7 99.5 815.4 98.8C816.1 98 815.9 98 816.6 98.8C817.3 99.5 817 98.9 817.6 101C818.1 103.1 817.9 102 818.3 105C818.6 108 818.5 106.7 818.5 110Z"/>
<path d="M837.5 162C837.5 165.8 837.6 164.3 837.2 167.6C836.7 171 837 169.8 836.2 172.2C835.4 174.5 835.8 173.8 834.8 174.7C833.8 175.5 834.2 175.5 833.2 174.7C832.2 173.8 832.6 174.5 831.8 172.2C831 169.8 831.3 171 830.8 167.6C830.4 164.3 830.5 165.8 830.5 162C830.5 158.2 830.4 159.7 830.8 156.4C831.3 153 831 154.2 831.8 151.8C832.6 149.5 832.2 150.2 833.2 149.3C834.2 148.5 833.8 148.5 834.8 149.3C835.8 150.2 835.4 149.5 836.2 151.8C837 154.2 836.7 153 837.2 156.4C837.6 159.7 837.5 158.2 837.5 162Z"/>
<path d="M907.5 162C907.5 165.3 907.6 164 907.2 167C906.7 170 907 168.9 906.2 171C905.4 173.1 905.8 172.5 904.8 173.2C903.8 174 904.2 174 903.2 173.2C902.2 172.5 902.6 173.1 901.8 171C901 168.9 901.3 170 900.8 167C900.4 164 900.5 165.3 900.5 162C900.5 158.7 900.4 160 900.8 157C901.3 154 901 155.1 901.8 153C902.6 150.9 902.2 151.5 903.2 150.8C904.2 150 903.8 150 904.8 150.8C905.8 151.5 905.4 150.9 906.2 153C907 155.1 906.7 154 907.2 157C907.6 160 907.5 158.7 907.5 162Z"/>
<path d="M927.9 132C927.9 136.5 928 134.7 927.6 138.7C927.2 142.8 927.5 141.3 926.8 144.1C926.2 146.9 926.5 146.1 925.6 147.1C924.8 148.1 925.2 148.1 924.4 147.1C923.5 146.1 923.8 146.9 923.2 144.1C922.5 141.3 922.8 142.8 922.4 138.7C922 134.7 922.1 136.5 922.1 132C922.1 127.5 922 129.3 922.4 125.3C922.8 121.2 922.5 122.7 923.2 119.9C923.8 117.1 923.5 117.9 924.4 116.9C925.2 115.9 924.8 115.9 925.6 116.9C926.5 117.9 926.2 117.1 926.8 119.9C927.5 122.7 927.2 121.2 927.6 125.3C928 129.3 927.9 127.5 927.9 132Z"/>
<path d="M954.5 105C954.5 110.6 954.6 108.4 954.2 113.5C953.7 118.5 954 116.7 953.2 120.2C952.4 123.8 952.8 122.8 951.8 124C950.8 125.3 951.2 125.3 950.2 124C949.2 122.8 949.6 123.8 948.8 120.2C948 116.7 948.3 118.5 947.8 113.5C947.4 108.4 947.5 110.6 947.5 105C947.5 99.4 947.4 101.6 947.8 96.5C948.3 91.5 948 93.3 948.8 89.8C949.6 86.2 949.2 87.2 950.2 86C951.2 84.7 950.8 84.7 951.8 86C952.8 87.2 952.4 86.2 953.2 89.8C954 93.3 953.7 91.5 954.2 96.5C954.6 101.6 954.5 99.4 954.5 105Z"/>
<path d="M952.5 175C952.5 178.8 952.6 177.3 952.2 180.6C951.7 184 952 182.8 951.2 185.2C950.4 187.5 950.8 186.8 949.8 187.7C948.8 188.5 949.2 188.5 948.2 187.7C947.2 186.8 947.6 187.5 946.8 185.2C946 182.8 946.3 184 945.8 180.6C945.4 177.3 945.5 178.8 945.5 175C945.5 171.2 945.4 172.7 945.8 169.4C946.3 166 946 167.2 946.8 164.8C947.6 162.5 947.2 163.2 948.2 162.3C949.2 161.5 948.8 161.5 949.8 162.3C950.8 163.2 950.4 162.5 951.2 164.8C952 167.2 951.7 166 952.2 169.4C952.6 172.7 952.5 171.2 952.5 175Z"/>
<path d="M991.8 132C991.8 139.1 992 136.2 991 142.6C990 149 990.6 146.7 988.9 151.2C987.1 155.6 987.9 154.3 985.7 155.9C983.5 157.5 984.5 157.5 982.3 155.9C980.1 154.3 980.9 155.6 979.1 151.2C977.4 146.7 978 149 977 142.6C976 136.2 976.2 139.1 976.2 132C976.2 124.9 976 127.8 977 121.4C978 115 977.4 117.3 979.1 112.8C980.9 108.4 980.1 109.7 982.3 108.1C984.5 106.5 983.5 106.5 985.7 108.1C987.9 109.7 987.1 108.4 988.9 112.8C990.6 117.3 990 115 991 121.4C992 127.8 991.8 124.9 991.8 132Z"/>
<path d="M1001.3 127C1001.3 130 1001.4 128.8 1001.1 131.6C1000.8 134.3 1001 133.3 1000.4 135.2C999.9 137.1 1000.2 136.6 999.5 137.2C998.9 137.9 999.1 137.9 998.5 137.2C997.8 136.6 998.1 137.1 997.6 135.2C997 133.3 997.2 134.3 996.9 131.6C996.6 128.8 996.7 130 996.7 127C996.7 124 996.6 125.2 996.9 122.4C997.2 119.7 997 120.7 997.6 118.8C998.1 116.9 997.8 117.4 998.5 116.8C999.1 116.1 998.9 116.1 999.5 116.8C1000.2 117.4 999.9 116.9 1000.4 118.8C1001 120.7 1000.8 119.7 1001.1 122.4C1001.4 125.2 1001.3 124 1001.3 127Z"/>
<path d="M1021.9 95C1021.9 98 1022 96.8 1021.6 99.6C1021.2 102.3 1021.5 101.3 1020.8 103.2C1020.2 105.1 1020.5 104.6 1019.6 105.2C1018.8 105.9 1019.2 105.9 1018.4 105.2C1017.5 104.6 1017.8 105.1 1017.2 103.2C1016.5 101.3 1016.8 102.3 1016.4 99.6C1016 96.8 1016.1 98 1016.1 95C1016.1 92 1016 93.2 1016.4 90.4C1016.8 87.7 1016.5 88.7 1017.2 86.8C1017.8 84.9 1017.5 85.4 1018.4 84.8C1019.2 84.1 1018.8 84.1 1019.6 84.8C1020.5 85.4 1020.2 84.9 1020.8 86.8C1021.5 88.7 1021.2 87.7 1021.6 90.4C1022 93.2 1021.9 92 1021.9 95Z"/>
<path d="M1022.8 187C1022.8 195 1023 191.8 1022.1 198.9C1021.3 206.1 1021.8 203.5 1020.2 208.5C1018.7 213.5 1019.4 212 1017.5 213.8C1015.6 215.6 1016.4 215.6 1014.5 213.8C1012.6 212 1013.3 213.5 1011.8 208.5C1010.2 203.5 1010.7 206.1 1009.9 198.9C1009 191.8 1009.2 195 1009.2 187C1009.2 179 1009 182.2 1009.9 175.1C1010.7 167.9 1010.2 170.5 1011.8 165.5C1013.3 160.5 1012.6 162 1014.5 160.2C1016.4 158.4 1015.6 158.4 1017.5 160.2C1019.4 162 1018.7 160.5 1020.2 165.5C1021.8 170.5 1021.3 167.9 1022.1 175.1C1023 182.2 1022.8 179 1022.8 187Z"/>
<path d="M1075.9 107C1075.9 111.8 1076 109.9 1075.6 114.2C1075.2 118.5 1075.5 116.9 1074.8 119.9C1074.2 122.9 1074.5 122 1073.6 123.1C1072.8 124.1 1073.2 124.1 1072.4 123.1C1071.5 122 1071.8 122.9 1071.2 119.9C1070.5 116.9 1070.8 118.5 1070.4 114.2C1070 109.9 1070.1 111.8 1070.1 107C1070.1 102.2 1070 104.1 1070.4 99.8C1070.8 95.5 1070.5 97.1 1071.2 94.1C1071.8 91.1 1071.5 92 1072.4 90.9C1073.2 89.9 1072.8 89.9 1073.6 90.9C1074.5 92 1074.2 91.1 1074.8 94.1C1075.5 97.1 1075.2 95.5 1075.6 99.8C1076 104.1 1075.9 102.2 1075.9 107Z"/>
<path d="M1062.9 155C1062.9 157.3 1063 156.4 1062.7 158.5C1062.5 160.6 1062.6 159.8 1062.2 161.3C1061.8 162.7 1062 162.3 1061.4 162.8C1060.9 163.3 1061.1 163.3 1060.6 162.8C1060 162.3 1060.2 162.7 1059.8 161.3C1059.4 159.8 1059.5 160.6 1059.3 158.5C1059 156.4 1059.1 157.3 1059.1 155C1059.1 152.7 1059 153.6 1059.3 151.5C1059.5 149.4 1059.4 150.2 1059.8 148.7C1060.2 147.3 1060 147.7 1060.6 147.2C1061.1 146.7 1060.9 146.7 1061.4 147.2C1062 147.7 1061.8 147.3 1062.2 148.7C1062.6 150.2 1062.5 149.4 1062.7 151.5C1063 153.6 1062.9 152.7 1062.9 155Z"/>
<path d="M1086.8 170C1086.8 174.5 1087 172.7 1086.1 176.7C1085.3 180.8 1085.8 179.3 1084.2 182.1C1082.7 184.9 1083.4 184.1 1081.5 185.1C1079.6 186.1 1080.4 186.1 1078.5 185.1C1076.6 184.1 1077.3 184.9 1075.8 182.1C1074.2 179.3 1074.7 180.8 1073.9 176.7C1073 172.7 1073.2 174.5 1073.2 170C1073.2 165.5 1073 167.3 1073.9 163.3C1074.7 159.2 1074.2 160.7 1075.8 157.9C1077.3 155.1 1076.6 155.9 1078.5 154.9C1080.4 153.9 1079.6 153.9 1081.5 154.9C1083.4 155.9 1082.7 155.1 1084.2 157.9C1085.8 160.7 1085.3 159.2 1086.1 163.3C1087 167.3 1086.8 165.5 1086.8 170Z"/>
<path d="M1214.7 167C1214.7 168.9 1214.8 168.1 1214.4 169.8C1214.1 171.5 1214.3 170.9 1213.7 172.1C1213.1 173.3 1213.4 172.9 1212.6 173.3C1211.8 173.8 1212.2 173.8 1211.4 173.3C1210.6 172.9 1210.9 173.3 1210.3 172.1C1209.7 170.9 1209.9 171.5 1209.6 169.8C1209.2 168.1 1209.3 168.9 1209.3 167C1209.3 165.1 1209.2 165.9 1209.6 164.2C1209.9 162.5 1209.7 163.1 1210.3 161.9C1210.9 160.7 1210.6 161.1 1211.4 160.7C1212.2 160.2 1211.8 160.2 1212.6 160.7C1213.4 161.1 1213.1 160.7 1213.7 161.9C1214.3 163.1 1214.1 162.5 1214.4 164.2C1214.8 165.9 1214.7 165.1 1214.7 167Z"/>
<path d="M1243 281C1243 286.8 1243.3 284.5 1241.8 289.7C1240.3 294.9 1241.2 293 1238.5 296.6C1235.8 300.2 1237.1 299.2 1233.7 300.5C1230.3 301.8 1231.7 301.8 1228.3 300.5C1224.9 299.2 1226.2 300.2 1223.5 296.6C1220.8 293 1221.7 294.9 1220.2 289.7C1218.7 284.5 1219 286.8 1219 281C1219 275.2 1218.7 277.5 1220.2 272.3C1221.7 267.1 1220.8 269 1223.5 265.4C1226.2 261.8 1224.9 262.8 1228.3 261.5C1231.7 260.2 1230.3 260.2 1233.7 261.5C1237.1 262.8 1235.8 261.8 1238.5 265.4C1241.2 269 1240.3 267.1 1241.8 272.3C1243.3 277.5 1243 275.2 1243 281Z"/>
<path d="M1241 337C1237.3 338.7 1225 343.2 1219 347C1213 350.8 1207.3 355.8 1205 360C1202.7 364.2 1202.7 368.3 1205 372C1207.3 375.7 1213 379.2 1219 382C1225 384.8 1237.3 387.8 1241 389"/>
</g>
<path fill="#000" d="M736.1 50.1L728.8 51.8L729 48ZM753 50.2L745.7 51.7L745.9 47.9ZM769.9 50.2L762.6 51.7L762.8 47.9ZM786.8 50.5L779.4 51.4L779.9 47.6ZM803.7 50L796.5 51.9L796.5 48.1ZM820.5 49.4L813.8 52.5L813.1 48.8ZM837.5 49.7L830.5 52.2L830.2 48.4ZM854.4 50.2L847.1 51.7L847.3 47.9ZM871.3 49.9L864.2 52L864 48.2ZM888.2 49.9L881.1 52L880.9 48.2ZM905.1 50.1L897.8 51.8L898 48ZM922 50L914.8 51.9L914.8 48.1ZM938.9 50.2L931.6 51.7L931.8 47.9ZM955.7 50.6L948.3 51.3L949 47.5ZM972.7 50.1L965.4 51.8L965.6 48ZM989.6 49.4L982.8 52.5L982.1 48.7ZM1006.5 49.7L999.5 52.2L999.1 48.4ZM1023.4 50L1016.2 51.9L1016.2 48.1ZM1040.3 49.9L1033.2 52L1033 48.2ZM1057.2 50.1L1050 51.8L1050 48ZM1074.1 50.2L1066.8 51.7L1067 47.9ZM1091 49.9L1083.9 52L1083.7 48.2ZM1107.9 50.1L1100.7 51.8L1100.7 48ZM1124.7 50.6L1117.3 51.2L1118 47.5ZM1141.7 50.2L1134.4 51.7L1134.6 47.9ZM1158.6 49.5L1151.7 52.3L1151.2 48.6ZM1175.5 49.7L1168.5 52.2L1168.1 48.4ZM1192.4 49.8L1185.3 52.1L1185.1 48.3ZM1209.3 49.8L1202.2 52.1L1202 48.3ZM1226.2 50.2L1218.9 51.7L1219.1 47.9ZM1243.1 50.3L1235.8 51.6L1236.1 47.8ZM736.1 66.6L729.1 69.4L728.7 65.6ZM753 66.9L745.9 69.1L745.7 65.3ZM769.9 67.6L762.5 68.4L763 64.7ZM786.8 67.3L779.5 68.7L779.8 64.9ZM803.7 66.8L796.6 69.2L796.4 65.4ZM820.6 67.2L813.3 68.8L813.5 65ZM837.5 67.4L830.1 68.6L830.5 64.8ZM854.4 67L847.2 69L847.2 65.2ZM871.3 66.9L864.2 69.1L864 65.3ZM888.2 66.9L881.1 69.1L880.9 65.4ZM905.1 66.5L898.2 69.5L897.6 65.8ZM938.9 67.6L931.5 68.4L932 64.6ZM955.8 67.4L948.4 68.6L948.8 64.8ZM1023.4 67L1016.3 69.1L1016.2 65.3ZM1057.2 67L1050 69L1050 65.2ZM1074 66.4L1067.3 69.6L1066.6 65.8ZM1107.9 67.5L1100.5 68.5L1101 64.7ZM1124.8 67.4L1117.4 68.6L1117.8 64.8ZM1141.7 67.1L1134.5 68.9L1134.5 65.1ZM1158.6 67.2L1151.3 68.8L1151.5 65ZM1175.5 67.1L1168.3 69L1168.3 65.2ZM1192.4 66.9L1185.3 69.2L1185.1 65.4ZM1209.3 67.2L1202 68.8L1202.2 65ZM1226.2 67.1L1219 68.9L1219 65.1ZM1243 66.4L1236.3 69.6L1235.6 65.8ZM736.1 83.9L729 86.3L728.8 82.5ZM753 84.4L745.7 85.8L745.9 82ZM769.9 84L762.8 86.1L762.6 82.3ZM786.8 83.6L779.9 86.5L779.4 82.8ZM871.3 84.4L864 85.7L864.3 81.9ZM1243.1 83.8L1236.1 86.4L1235.7 82.6ZM735.9 102.2L728.5 101.9L729.6 98.3ZM883.6 97.7L887.5 104.1L883.8 105.2ZM932.9 98.5L939.1 102.6L936.3 105.1ZM1222.4 97.6L1224.7 104.7L1220.9 104.9ZM1240.5 97.7L1240.3 105.2L1236.6 104.1ZM736.1 118.7L728.7 119.7L729.2 115.9ZM818.2 114.8L817.6 122.3L814 121ZM847.7 120L853 114.8L854.9 118.1ZM864.2 117.5L871.6 117.1L870.8 120.8ZM902.2 114.7L902.7 122.1L899 121.4ZM1069.8 114.7L1073.1 121.4L1069.4 122.2ZM1134.6 117.6L1142 117L1141.3 120.8ZM1185.3 117.5L1192.7 117.2L1191.9 120.9ZM1237.2 115.4L1243.2 119.9L1240.3 122.2ZM736.1 135.1L729 137.4L728.8 133.6ZM781.3 132.3L786.7 137.3L783.5 139.4ZM803.7 134.8L796.8 137.6L796.3 133.9ZM831 133.2L837.9 135.8L835.8 138.9ZM865.2 132.7L871.6 136.5L868.9 139.2ZM1033.4 133.8L1040.8 135.1L1039.2 138.5ZM1118.6 132.9L1125.1 136.4L1122.5 139.1ZM1157.3 132.5L1154.2 139.3L1151.3 136.9ZM1238.5 131.9L1242.4 138.2L1238.7 139.3ZM736.1 152.5L728.8 154.1L729 150.3ZM746.1 153.8L751.9 149.1L753.5 152.6ZM801.6 149.1L800.3 156.4L796.9 154.8ZM865.9 149.3L871.2 154.5L867.9 156.4ZM969.7 148.8L970.4 156.2L966.7 155.6ZM1033.8 150.2L1040.7 153L1038.5 156ZM1083.8 152.5L1090.9 150.3L1091.1 154.1ZM1175.1 150.8L1169.5 155.7L1167.8 152.3ZM1240.8 149L1239.9 156.4L1236.4 155ZM736.1 169.2L729 171.6L728.8 167.8ZM796.8 168L804.2 169.1L802.6 172.6ZM870.7 167.5L865.7 173L863.6 169.8ZM888.2 169.2L881.1 171.5L880.9 167.7ZM934.2 166L938.2 172.3L934.6 173.4ZM1168.9 167.4L1175.9 169.9L1173.8 173ZM1226 168.1L1219.9 172.5L1218.6 168.9ZM1239.9 165.8L1241 173.2L1237.2 172.8ZM730.1 183.8L736.3 187.9L733.5 190.4ZM801 183L801.1 190.4L797.4 189.5ZM813.5 185.8L820.9 185.3L820.2 189.1ZM869.2 183.2L868 190.5L864.5 189ZM935.1 182.9L937.4 190L933.6 190.2ZM982.6 185.4L990 185.7L988.9 189.3ZM1151.9 184.7L1159.1 186.6L1157.2 189.9ZM1186.1 184.1L1192.8 187.4L1190.3 190.3ZM1204.6 183.1L1208.6 189.3L1205 190.5ZM1241.5 183.5L1239.1 190.5L1235.9 188.4ZM730 201L736.4 204.8L733.7 207.4ZM799.4 200L802.7 206.7L799 207.4ZM834.9 200.1L834.8 207.5L831.1 206.5ZM864.4 202.1L871.8 203.3L870.2 206.7ZM1124.8 203.6L1117.5 205.3L1117.7 201.5ZM1171.4 200L1174.3 206.8L1170.5 207.4ZM1222.3 200L1224.8 206.9L1221.1 207.3ZM1236.7 201.3L1243.5 204.3L1241.1 207.3ZM736.1 220.1L729.2 223L728.7 219.3ZM797.5 218.1L804 221.7L801.4 224.4ZM817.4 217L818.5 224.4L814.7 224ZM835.1 217.2L834.4 224.6L830.9 223.3ZM898.3 218.9L905.6 220.6L903.8 224ZM1085.4 217.6L1091 222.6L1087.8 224.7ZM1136.5 217.4L1141.4 223L1137.9 224.7ZM1171.2 217.1L1174.5 223.8L1170.7 224.5ZM1188.9 217L1190.6 224.3L1186.8 224.1ZM1221.8 217.1L1225.2 223.7L1221.5 224.5ZM1235.9 220.9L1243 218.4L1243.2 222.2ZM736.1 238L728.7 239.2L729.1 235.4ZM751 234.4L749.5 241.7L746.1 240ZM764.4 234.6L769.8 239.7L766.6 241.7ZM798.2 234.6L803.6 239.7L800.4 241.7ZM815.4 234.5L820.3 240L817 241.7ZM832.9 234.2L836.8 240.6L833.1 241.7ZM882.6 234.7L888.2 239.6L885.1 241.7ZM901.7 234.1L903.2 241.3L899.4 241.2ZM919.8 234.4L918.7 241.7L915.2 240.2ZM933.8 234.4L938.5 240.1L935.1 241.7ZM1051.6 234.7L1057.2 239.6L1054.1 241.7ZM1070.3 234.1L1072.6 241.2L1068.8 241.3ZM1088.2 234.2L1088.4 241.6L1084.7 240.7ZM1103 234.3L1107.4 240.3L1103.9 241.7ZM1136.2 234.6L1141.6 239.7L1138.4 241.7ZM1152 235.7L1159.1 238L1157 241.2ZM1170.3 234.4L1175.2 240.1L1171.8 241.7ZM1190.7 234.6L1188.5 241.7L1185.3 239.7ZM1206.3 234.1L1206.9 241.5L1203.2 240.9ZM1221 234.5L1225.9 240L1222.5 241.7ZM1236.6 235.5L1243.5 238.3L1241.3 241.3ZM736 255.5L728.6 255.8L729.4 252.1ZM749.5 251.1L751.2 258.4L747.4 258.3ZM765.5 251.2L769 257.8L765.2 258.7ZM782.8 251.1L785.5 258.1L781.7 258.5ZM815.3 251.6L820.4 257L817 258.8ZM833.9 251.1L835.8 258.3L832 258.3ZM903 251.5L901.7 258.8L898.3 257.2ZM918.7 251.1L919.9 258.5L916.2 258.1ZM935.5 251.1L937 258.4L933.2 258.2ZM1071.1 251.2L1071.7 258.6L1068 257.9ZM1087.7 251.1L1089 258.4L1085.2 258.2ZM1105.5 251.3L1104.9 258.7L1101.3 257.5ZM1135.3 252.5L1142.1 255.4L1139.8 258.4ZM1152.7 251.9L1158.8 256.3L1155.8 258.7ZM1172 251.1L1173.6 258.4L1169.9 258.2ZM1187.4 251.4L1192 257.3L1188.5 258.8ZM1203.1 252.2L1209.6 255.8L1207 258.6ZM1221.6 251.3L1225.4 257.6L1221.8 258.7ZM1236.6 252.6L1243.5 255.3L1241.3 258.4ZM736.1 271.6L729 273.9L728.8 270.1ZM748.2 268.4L752.4 274.6L748.8 275.8ZM766 268.2L768.5 275.2L764.7 275.5ZM781.9 268.4L786.3 274.4L782.8 275.8ZM847.7 269.9L854.9 272L852.9 275.3ZM865.6 268.9L871.4 273.6L868.3 275.8ZM899.8 268.6L904.9 274L901.6 275.8ZM918.2 268.2L920.5 275.2L916.7 275.5ZM935.3 268.2L937.2 275.4L933.4 275.4ZM1068.5 268.8L1074.1 273.7L1071 275.8ZM1087.9 268.2L1088.8 275.6L1085 275.1ZM1104.7 268.2L1105.8 275.6L1102 275.2ZM1119.2 268.8L1124.8 273.7L1121.7 275.8ZM1137.5 268.2L1140.6 275L1136.8 275.6ZM1156.8 268.6L1154.9 275.8L1151.6 274ZM1171.8 268.2L1173.9 275.3L1170.1 275.4ZM1186.9 268.7L1192.3 273.8L1189.1 275.8ZM1203.9 268.7L1209.2 273.9L1205.9 275.8ZM1219.8 269.5L1226.6 272.6L1224.2 275.5ZM1236 271.1L1243.4 270.6L1242.7 274.3ZM736.1 288.8L728.9 290.8L728.9 287ZM747.5 285.8L752.9 290.9L749.7 292.9ZM763 287.4L770.4 288.6L768.8 292ZM781.4 285.7L786.6 291L783.3 292.9ZM850.8 285.2L852.7 292.4L848.9 292.5ZM867.2 285.3L870 292.2L866.3 292.7ZM883.2 285.5L887.7 291.4L884.2 292.9ZM901.3 285.2L903.6 292.3L899.9 292.6ZM916.9 285.6L921.6 291.3L918.2 292.9ZM931.9 287.6L939.3 288.3L938 291.8ZM1070.7 285.2L1072.2 292.6L1068.4 292.3ZM1086.3 285.4L1090.3 291.7L1086.6 292.8ZM1101 287.4L1108.4 288.5L1106.9 292ZM1118.9 286.1L1125 290.4L1122 292.8ZM1138.5 285.3L1139.5 292.6L1135.8 292.2ZM1155.2 285.2L1156.7 292.5L1152.9 292.3ZM1189.6 285.3L1189.9 292.8L1186.2 291.9ZM1203.9 285.7L1209.2 291L1205.9 292.9ZM1219.1 287.9L1226.6 287.9L1225.6 291.6ZM1236.9 286.4L1243.4 289.9L1240.8 292.7ZM736.1 306.2L728.7 307.5L729.1 303.7ZM746.6 303.7L753.4 306.7L751 309.6ZM764.2 303L770 307.7L766.9 309.9ZM783.2 302.3L785.1 309.5L781.3 309.5ZM849.6 302.5L853.8 308.7L850.2 309.9ZM867.3 302.3L870 309.3L866.2 309.7ZM886.8 303L883.9 309.9L880.9 307.6ZM902.4 302.4L902.5 309.9L898.8 308.9ZM915.7 303.5L922.4 306.9L919.8 309.7ZM933 303.1L939 307.5L936.1 309.9ZM951.5 302.4L954.8 309L951.1 309.8ZM967.3 302.8L972.5 308.1L969.2 310ZM984.4 302.7L989.3 308.3L985.9 310ZM1002.3 302.3L1005.4 309.1L1001.6 309.8ZM1018 302.8L1023.3 308.1L1020 310ZM1035.7 302.4L1039.5 308.9L1035.8 309.9ZM1055.9 303.1L1052.8 309.9L1049.9 307.5ZM1071.7 302.5L1071.1 309.9L1067.5 308.7ZM1085.1 303.1L1091.1 307.5L1088.2 309.9ZM1119.6 302.7L1124.5 308.3L1121 310ZM1135.9 303.1L1141.8 307.6L1138.8 309.9ZM1154.1 302.4L1157.7 308.9L1154 309.9ZM1171.9 302.3L1173.8 309.5L1170 309.5ZM1186.7 303L1192.4 307.8L1189.3 309.9ZM1204.3 302.6L1208.8 308.5L1205.3 310ZM1220.9 302.7L1226 308.2L1222.6 310ZM1237.3 303L1243.2 307.6L1240.1 309.9ZM736.1 322.6L729.1 325.2L728.7 321.4ZM753 323.1L745.7 324.7L745.9 320.9ZM830.8 321.1L838 323.2L836 326.4ZM848.1 320.6L854.8 323.9L852.2 326.8ZM868.5 319.4L868.8 326.9L865.1 326.1ZM885.1 319.4L886 326.8L882.2 326.2ZM899.8 319.8L904.9 325.2L901.6 327ZM918 319.4L920.7 326.3L917 326.8ZM936 319.4L936.5 326.9L932.7 326.1ZM951.6 319.4L954.6 326.2L950.9 326.8ZM968.8 319.4L971.3 326.4L967.5 326.7ZM985.2 319.5L988.7 326L985 326.9ZM999.6 321.4L1007 322.8L1005.3 326.2ZM1016.8 321L1023.8 323.4L1021.7 326.5ZM1037.1 319.4L1038.1 326.8L1034.4 326.3ZM1054.1 319.4L1054.9 326.8L1051.2 326.2ZM1087.4 319.4L1089.3 326.5L1085.5 326.6ZM1104.2 319.4L1106.3 326.5L1102.5 326.6ZM1120 319.6L1124.2 325.7L1120.6 327ZM1138.3 319.4L1139.8 326.7L1136 326.4ZM1154.8 319.4L1157.1 326.4L1153.3 326.7ZM1168.7 321.3L1176 322.9L1174.3 326.3ZM1185.7 321.1L1192.9 323.1L1190.9 326.4ZM1205.5 319.4L1207.8 326.5L1204 326.6ZM1219.9 320.6L1226.5 324L1224 326.8ZM1236.6 320.8L1243.5 323.6L1241.3 326.6ZM736.1 339.6L729.1 342.3L728.7 338.5ZM753 340.2L745.7 341.8L745.9 338ZM820.2 338.4L814.7 343.4L812.9 340ZM836.3 337.3L832.9 344L830.1 341.5ZM853.1 337.2L850 344L847.1 341.6ZM868.4 336.5L868.9 343.9L865.2 343.2ZM883.1 336.8L887.9 342.5L884.4 344.1ZM899.3 337.2L905.2 341.7L902.2 344ZM915.6 337.8L922.4 340.8L920 343.8ZM931.9 338.7L939.3 339.5L938 343.1ZM948.8 338.9L956.2 339.3L955 342.9ZM965.5 340.1L972.7 338.1L972.7 341.9ZM982.8 341.7L988.3 336.7L990.1 340.1ZM999.8 341.8L1005.1 336.6L1007 339.9ZM1016.3 340.9L1022.8 337.3L1023.8 340.9ZM1033.3 341.3L1039.4 336.9L1040.7 340.5ZM1050.5 341.9L1055.7 336.6L1057.7 339.8ZM1067.2 341.5L1073 336.8L1074.6 340.3ZM1084.2 341.6L1089.8 336.7L1091.5 340.1ZM1101 341.6L1106.7 336.8L1108.4 340.2ZM1117.6 340.2L1124.7 338L1124.9 341.8ZM1151.7 341.5L1157.5 336.8L1159.1 340.3ZM1168.7 341.8L1174.1 336.6L1176 339.9ZM1185.4 341.2L1191.6 337L1192.8 340.6ZM1202.4 341.6L1208.1 336.8L1209.8 340.2ZM1219.2 338.8L1226.6 339.5L1225.3 343ZM1236.5 338.1L1243.6 340.3L1241.5 343.6ZM736.1 356.8L729.1 359.2L728.8 355.5ZM753 356.6L746.1 359.4L745.6 355.7ZM769.9 357.2L762.6 358.8L762.8 355ZM786.8 357.5L779.4 358.6L779.8 354.8ZM803.6 356.4L796.9 359.6L796.2 355.9ZM820.3 355.6L814.5 360.3L812.9 356.8ZM837.3 355.8L831.2 360.1L829.9 356.6ZM853.3 354.5L849.7 361L846.9 358.4ZM868.3 353.5L868.9 361L865.2 360.3ZM883.9 353.5L887.1 360.3L883.4 361ZM899.1 354.4L905.3 358.5L902.4 361ZM915.1 355.6L922.5 356.8L920.9 360.3ZM932 355.6L939.4 356.8L937.8 360.3ZM948.7 356.5L956.1 355.8L955.4 359.6ZM965.9 358.7L971.4 353.7L973.2 357.1ZM982.7 358.5L988.5 353.9L990.1 357.4ZM999.3 357.5L1006.3 354.8L1006.7 358.6ZM1016.3 357.7L1023 354.6L1023.7 358.3ZM1033.2 358L1039.7 354.3L1040.7 358ZM1050.1 358L1056.6 354.3L1057.6 357.9ZM1067.5 359.1L1072.4 353.5L1074.5 356.6ZM1084.7 359.4L1088.9 353.3L1091.4 356.2ZM1100.9 358.2L1107.2 354.2L1108.3 357.8ZM1117.7 357.7L1124.4 354.6L1125.1 358.3ZM1134.8 358.6L1140.6 353.8L1142.2 357.3ZM1151.6 358.3L1157.7 354L1159 357.6ZM1168.4 357.7L1175.1 354.6L1175.8 358.3ZM1185.3 358.1L1191.8 354.3L1192.8 357.9ZM1203 354.6L1209.6 358.1L1207.1 360.9ZM1220.1 354.5L1226.5 358.3L1223.7 361ZM1235.9 356.6L1243.3 355.7L1242.8 359.5ZM736.1 374L729 376.1L728.8 372.3ZM753 374.6L745.6 375.6L746 371.8ZM769.9 374.4L762.6 375.8L762.8 372ZM786.6 372.9L780.4 377.1L779.2 373.5ZM803.5 373L797.3 377L796.1 373.4ZM820.4 373L814.2 377.1L813 373.5ZM836.8 372L832.2 377.8L829.9 374.8ZM852.9 371.2L850.2 378.2L847.1 375.9ZM869.2 370.8L868 378.2L864.5 376.7ZM884 370.6L887.1 377.4L883.3 378ZM899.4 371.2L905.2 375.9L902.1 378.2ZM916.2 371.3L922.1 375.8L919.2 378.1ZM932.1 372.4L939.4 374.2L937.5 377.5ZM948.7 375.1L955.2 371.4L956.2 375.1ZM966.1 376.2L971 370.5L973.1 373.7ZM982.7 375.6L988.5 371L990.1 374.5ZM999.6 375.5L1005.5 371L1007 374.5ZM1016.3 374.8L1023 371.6L1023.7 375.3ZM1033.1 374.2L1040.3 372.2L1040.3 375.9ZM1050.2 375.4L1056.3 371.1L1057.6 374.7ZM1067.4 375.9L1072.7 370.7L1074.6 374ZM1083.9 374.9L1090.5 371.5L1091.3 375.3ZM1100.8 375L1107.4 371.5L1108.2 375.2ZM1118.1 376L1123.3 370.6L1125.3 373.9ZM1135 376L1140.3 370.7L1142.2 374ZM1151.8 375.8L1157.3 370.8L1159.1 374.2ZM1168.7 375.9L1174.1 370.7L1176 374.1ZM1185.3 374.8L1192 371.6L1192.7 375.4ZM1204.2 370.9L1208.9 376.6L1205.4 378.2ZM1219.6 372.2L1226.7 374.5L1224.6 377.7ZM1236 373.1L1243.5 373.3L1242.4 377ZM736 391.9L728.6 392.4L729.3 388.7ZM752.9 392L745.5 392.3L746.3 388.6ZM769.9 391.1L762.7 393.2L762.7 389.4ZM786.8 390.9L779.8 393.4L779.5 389.6ZM803.7 391.2L796.5 393.1L796.5 389.3ZM820.2 389.5L814.7 394.6L812.9 391.2ZM836.5 388.7L832.6 395.1L830 392.3ZM852.8 388.2L850.4 395.3L847.2 393.2ZM867.6 387.6L869.7 394.8L865.9 394.8ZM883.3 387.8L887.7 393.9L884.1 395.2ZM900.6 387.7L904.2 394.2L900.5 395.2ZM916.6 388.1L921.8 393.4L918.5 395.3ZM932 389.8L939.4 390.9L937.9 394.4ZM948.6 391.1L955.8 389.4L955.8 393.2ZM965.8 392.6L971.7 388.1L973.2 391.6ZM983 393.2L987.9 387.6L990 390.8ZM999.6 392.6L1005.5 388.1L1007 391.6ZM1016.3 392L1022.9 388.6L1023.7 392.3ZM1033.6 393L1038.9 387.8L1040.8 391ZM1050.5 393.1L1055.6 387.7L1057.7 390.9ZM1066.9 391.7L1073.8 388.8L1074.3 392.5ZM1083.8 391.5L1090.8 389L1091.1 392.8ZM1100.8 392.1L1107.3 388.5L1108.2 392.2ZM1117.7 392L1124.3 388.5L1125.1 392.2ZM1134.8 392.7L1140.6 388L1142.2 391.4ZM1152.2 393.5L1156.6 387.5L1159 390.4ZM1168.6 392.6L1174.4 388L1176 391.5ZM1186.2 388.7L1192.7 392.3L1190.1 395.1ZM1202.3 390.1L1209.7 390.5L1208.5 394.1ZM1219.1 390.3L1226.6 390.3L1225.6 394ZM1236.9 388.7L1243.4 392.3L1240.8 395ZM736.1 408.5L728.8 409.9L729 406.1ZM753 408.1L745.9 410.3L745.7 406.5ZM769.9 408.3L762.7 410.1L762.7 406.3ZM786.8 408.5L779.5 409.9L779.7 406.1ZM803.7 408.3L796.5 410.1L796.5 406.3ZM820.6 407.7L813.7 410.7L813.1 407ZM837.1 406.7L831.5 411.6L829.8 408.2ZM851.9 404.8L851.5 412.3L847.9 411.1ZM867 404.7L870.3 411.4L866.6 412.2ZM883.9 404.7L887.2 411.4L883.5 412.2ZM899.9 405L904.8 410.6L901.4 412.3ZM915.6 406L922.4 409.1L920 412ZM932.1 406.6L939.4 408.3L937.6 411.6ZM948.6 407.9L956 406.7L955.6 410.5ZM965.8 409.7L971.7 405.1L973.2 408.6ZM982.4 408.8L989.2 405.8L989.9 409.5ZM999.3 408.5L1006.4 406.1L1006.6 409.9ZM1016.7 410.1L1022 404.8L1023.9 408.1ZM1033.9 410.6L1038.3 404.5L1040.7 407.4ZM1050.4 409.8L1056 405L1057.7 408.4ZM1067.2 409.7L1073.1 405.1L1074.6 408.6ZM1084 409.4L1090.2 405.3L1091.4 408.9ZM1100.7 408.7L1107.7 406L1108.1 409.7ZM1117.7 409.2L1124.2 405.5L1125.2 409.1ZM1134.9 409.9L1140.4 404.9L1142.2 408.3ZM1151.5 409L1158.2 405.7L1158.9 409.4ZM1168.3 408.6L1175.3 406.1L1175.6 409.9ZM1185.4 407.1L1192.8 407.7L1191.6 411.3ZM1202.1 407.9L1209.5 406.8L1209.1 410.6ZM1219.2 407.2L1226.6 407.5L1225.5 411.1ZM1236 407.4L1243.5 407.3L1242.5 411ZM736.1 425L729.1 427.5L728.7 423.8ZM753 425.1L745.9 427.5L745.7 423.7ZM769.9 424.9L762.9 427.6L762.5 423.8ZM786.8 424.8L779.9 427.7L779.4 423.9ZM803.7 425.7L796.3 426.9L796.7 423.1ZM820.1 427.2L812.9 425L814.9 421.8ZM837.5 425.8L830.1 426.7L830.6 422.9ZM854.4 425.2L847.3 427.3L847.2 423.5ZM871.2 426L863.8 426.5L864.5 422.7ZM888.2 425.6L880.8 426.9L881.2 423.1ZM901.3 421.7L903.6 428.8L899.8 429ZM918.4 421.7L920.3 428.9L916.5 428.9ZM934.9 421.7L937.6 428.7L933.8 429.1ZM951.5 421.8L954.7 428.5L951 429.2ZM969.4 421.7L970.7 429L966.9 428.8ZM986.8 421.8L987 429.3L983.3 428.4ZM1003.1 421.7L1004.6 429L1000.8 428.8ZM1019.8 421.7L1021.7 428.9L1017.9 428.9ZM1036.8 421.7L1038.5 429L1034.7 428.9ZM1053.4 421.7L1055.7 428.8L1051.9 429ZM1070.3 421.7L1072.6 428.8L1068.8 429ZM1087.6 421.7L1089.1 429L1085.3 428.8ZM1104 421.7L1106.5 428.7L1102.7 429.1ZM1120.5 421.8L1123.8 428.5L1120.1 429.2ZM1138.2 421.7L1139.9 429L1136.1 428.8ZM1155.7 421.8L1156.2 429.2L1152.4 428.5ZM1169.2 422.9L1175.8 426.4L1173.3 429.2ZM1186 423L1192.8 426.1L1190.4 429.1ZM1202.7 423.3L1209.7 425.8L1207.6 428.9ZM1219.1 424.7L1226.5 424.1L1225.8 427.8ZM1236.1 424.1L1243.5 424.7L1242.3 428.3ZM729.3 440.7L736.6 442.4L734.8 445.8ZM745.9 443.1L752.6 439.8L753.3 443.5ZM763.9 445.1L767.3 438.4L770.1 441ZM779.6 442.8L786.5 440.1L787 443.8ZM796.7 441.3L804.1 441.6L803 445.3ZM820.6 442.1L813.6 444.6L813.3 440.8ZM837.5 442.1L830.4 444.5L830.2 440.7ZM854.3 443.1L846.9 443.5L847.7 439.8ZM871.2 443.1L863.8 443.6L864.5 439.8ZM888 443.4L880.6 443.2L881.7 439.5ZM902.2 438.8L902.7 446.3L899 445.6ZM918.3 438.8L920.4 445.9L916.6 446ZM934.5 438.9L938 445.5L934.3 446.3ZM1225.4 444.7L1218.6 441.5L1221.1 438.6ZM1241.7 445.2L1235.8 440.7L1238.8 438.4ZM728.9 458.9L736.3 458.1L735.8 461.8ZM746 460.6L752.2 456.5L753.4 460.1ZM763 458L770.4 459.1L768.9 462.6ZM780.2 457.4L787.2 459.9L785.1 463.1ZM796.6 460.1L803.3 456.9L804 460.6ZM813.7 460.9L819.6 456.3L821.1 459.8ZM837.5 459.1L830.5 461.7L830.1 457.9ZM854.3 458.6L847.7 462.1L846.9 458.4ZM871.3 459.7L864 461.1L864.3 457.3ZM887.8 461.1L880.5 459.5L882.3 456.1ZM905 460.2L897.6 460.6L898.4 456.8ZM922 459.2L914.9 461.6L914.7 457.8ZM931.9 458.1L939.3 459L938 462.5ZM948.9 457.9L956.3 459.3L954.6 462.7ZM1225 462.1L1218.8 458L1221.6 455.5ZM1242.2 461.9L1235.6 458.4L1238.1 455.6ZM730.1 479.1L733.5 472.6L736.3 475.1ZM745.8 476.2L753.2 474.9L752.8 478.7ZM763.3 474.6L770.4 476.8L768.3 480ZM779.8 475.3L787.2 475.9L786 479.5ZM796.9 474.9L804.2 476.4L802.5 479.8ZM813.4 475.9L820.9 475.2L820.2 479ZM830.9 478.5L835.9 472.9L838 476.1ZM847.3 477.3L853.9 473.9L854.7 477.6ZM871.2 477.4L863.7 477.4L864.7 473.7ZM888.2 476.3L881.1 478.6L880.9 474.8ZM905 475.6L898.5 479.3L897.5 475.6ZM922 476.8L914.6 478.1L915 474.3ZM931.9 475.2L939.3 476L938 479.6ZM948.9 475.1L956.3 476.1L954.8 479.6ZM966.2 474.3L973.1 477.2L970.8 480.2ZM982.6 475.3L990 475.9L988.7 479.5ZM1242.6 478.4L1235.4 476.3L1237.4 473ZM735.6 495.4L728.4 493.4L730.4 490.1ZM752.5 495.4L745.3 493.3L747.3 490.1ZM769.4 495.4L762.2 493.3L764.2 490.1ZM786 495.8L779.2 492.7L781.6 489.8ZM803 495.8L796.1 492.9L798.4 489.9ZM820.1 495.3L812.9 493.4L814.8 490.1ZM836.7 495.8L829.9 492.8L832.3 489.8ZM853.2 496.2L847 492.2L849.8 489.6ZM870.6 495.7L863.7 492.9L866 489.9ZM888.2 493.1L881.3 495.9L880.8 492.2ZM905.1 493.3L898 495.7L897.8 491.9ZM1242.5 495.5L1235.4 493.2L1237.5 490ZM735.4 512.7L728.5 510.1L730.7 507ZM752.4 512.6L745.3 510.2L747.5 507ZM769.1 512.9L762.3 509.8L764.7 506.9ZM786.3 512.5L779.1 510.3L781.1 507.1ZM803.5 511.9L796.1 511.1L797.4 507.6ZM820.1 512.5L812.9 510.4L814.9 507.1ZM836.5 513.1L830 509.6L832.5 506.8ZM853.6 512.9L846.8 509.8L849.2 506.9ZM870.5 512.9L863.7 509.8L866.1 506.9ZM887.3 512.9L880.6 509.7L883.1 506.8ZM1242.7 512.3L1235.4 510.6L1237.2 507.3ZM735.4 529.9L728.5 527L730.8 524ZM751.8 530.4L745.6 526.2L748.5 523.7ZM769 530.1L762.3 526.7L764.8 523.9ZM786.4 529.3L779.1 527.7L780.9 524.3ZM803.2 529.5L796 527.5L798 524.2ZM820 529.7L813 527.2L815.1 524.1ZM837 529.5L829.8 527.5L831.8 524.2ZM853.8 529.7L846.8 527.2L848.9 524.1ZM870.6 529.8L863.7 527.1L865.9 524ZM887.7 529.5L880.5 527.6L882.4 524.3ZM904.4 529.8L897.5 527.1L899.7 524ZM920.8 530.4L914.6 526.2L917.5 523.7ZM938 530.1L931.4 526.7L933.9 523.8ZM952.4 531.3L950.1 524.2L953.9 524ZM969.3 531.3L967 524.2L970.8 524ZM986.2 531.3L983.9 524.2L987.7 524ZM1003.2 531.3L1000.7 524.2L1004.5 523.9ZM1019.7 531.3L1018 524L1021.8 524.1ZM1039.5 530L1032.7 526.9L1035.1 523.9ZM1056.8 529.3L1049.5 527.8L1051.2 524.4ZM1073.5 529.7L1066.5 527.3L1068.6 524.1ZM1089.7 530.5L1083.7 526.1L1086.6 523.7ZM1106.9 530.2L1100.4 526.5L1103.1 523.8ZM1124.2 529.6L1117.1 527.3L1119.2 524.1ZM1141.1 529.6L1134 527.3L1136.1 524.1ZM1158.3 529.2L1150.9 527.9L1152.6 524.4ZM1175.2 529.1L1167.8 528L1169.3 524.5ZM1191.6 530L1184.8 526.9L1187.2 523.9ZM1208.4 530.1L1201.8 526.7L1204.3 523.9ZM1225.8 529.3L1218.5 527.7L1220.3 524.3ZM1242.5 529.7L1235.4 527.3L1237.5 524.1Z"/>
<path d="M719.5 44.4H1246.2V545.1H719.5Z M724.6 44.4 L724.6 -121.6 L726.6 78.8 L728.6 140.5 L730.6 178.2 L732.6 205.4 L734.6 226.7 L736.6 244.2 L738.6 259.1 L740.6 272 L742.7 283.4 L744.7 293.7 L746.7 302.9 L748.7 311.4 L750.7 319.2 L752.7 326.4 L754.7 333.2 L756.7 339.5 L758.7 345.4 L760.7 351 L762.7 356.3 L764.7 361.3 L766.7 366.1 L768.7 370.7 L770.7 375 L772.7 379.2 L774.7 383.2 L776.7 387 L778.7 390.7 L780.7 394.3 L782.7 397.8 L784.8 401.1 L786.8 404.3 L788.8 407.4 L790.8 410.5 L792.8 413.4 L794.8 416.2 L796.8 419 L798.8 421.7 L800.8 424.3 L802.8 426.9 L804.8 429.4 L806.8 431.8 L808.8 434.2 L810.8 436.5 L812.8 438.7 L814.8 440.9 L816.8 443.1 L818.8 445.2 L820.8 447.3 L822.8 449.3 L824.9 451.3 L826.9 453.3 L828.9 455.2 L830.9 457 L832.9 458.9 L834.9 460.7 L836.9 462.5 L838.9 464.2 L840.9 465.9 L842.9 467.6 L844.9 469.2 L846.9 470.9 L848.9 472.5 L850.9 474 L852.9 475.6 L854.9 477.1 L856.9 478.6 L858.9 480.1 L860.9 481.6 L862.9 483 L865 484.4 L867 485.8 L869 487.2 L871 488.6 L873 489.9 L875 491.2 L877 492.5 L879 493.8 L881 495.1 L883 496.3 L885 497.6 L887 498.8 L889 500 L891 501.2 L893 502.4 L895 503.5 L897 504.7 L899 505.8 L901 507 L903 508.1 L905.1 509.2 L907.1 510.3 L909.1 511.3 L911.1 512.4 L913.1 513.5 L915.1 514.5 L917.1 515.5 L919.1 516.6 L921.1 517.6 L923.1 518.6 L925.1 519.6 L927.1 520.5 L929.1 521.5 L931.1 522.5 L933.1 523.4 L935.1 524.4 L937.1 525.3 L939.1 526.2 L941.1 527.1 L943.1 528 L945.2 528.9 L947.2 529.8 L949.2 530.7 L951.2 531.6 L953.2 532.5 L955.2 533.3 L957.2 534.2 L959.2 535 L961.2 535.9 L963.2 536.7 L965.2 537.5 L967.2 538.3 L969.2 539.1 L971.2 540 L973.2 540.8 L975.2 541.5 L977.2 542.3 L979.2 543.1 L981.2 543.9 L983.2 543.9 L985.3 543.1 L987.3 542.3 L989.3 541.5 L991.3 540.8 L993.3 540 L995.3 539.1 L997.3 538.3 L999.3 537.5 L1001.3 536.7 L1003.3 535.9 L1005.3 535 L1007.3 534.2 L1009.3 533.3 L1011.3 532.5 L1013.3 531.6 L1015.3 530.7 L1017.3 529.8 L1019.3 528.9 L1021.3 528 L1023.3 527.1 L1025.4 526.2 L1027.4 525.3 L1029.4 524.4 L1031.4 523.4 L1033.4 522.5 L1035.4 521.5 L1037.4 520.5 L1039.4 519.6 L1041.4 518.6 L1043.4 517.6 L1045.4 516.6 L1047.4 515.5 L1049.4 514.5 L1051.4 513.5 L1053.4 512.4 L1055.4 511.3 L1057.4 510.3 L1059.4 509.2 L1061.4 508.1 L1063.4 507 L1065.5 505.8 L1067.5 504.7 L1069.5 503.5 L1071.5 502.4 L1073.5 501.2 L1075.5 500 L1077.5 498.8 L1079.5 497.6 L1081.5 496.3 L1083.5 495.1 L1085.5 493.8 L1087.5 492.5 L1089.5 491.2 L1091.5 489.9 L1093.5 488.6 L1095.5 487.2 L1097.5 485.8 L1099.5 484.4 L1101.5 483 L1103.5 481.6 L1105.6 480.1 L1107.6 478.6 L1109.6 477.1 L1111.6 475.6 L1113.6 474 L1115.6 472.5 L1117.6 470.9 L1119.6 469.2 L1121.6 467.6 L1123.6 465.9 L1125.6 464.2 L1127.6 462.5 L1129.6 460.7 L1131.6 458.9 L1133.6 457 L1135.6 455.2 L1137.6 453.3 L1139.6 451.3 L1141.6 449.3 L1143.6 447.3 L1145.7 445.2 L1147.7 443.1 L1149.7 440.9 L1151.7 438.7 L1153.7 436.5 L1155.7 434.2 L1157.7 431.8 L1159.7 429.4 L1161.7 426.9 L1163.7 424.3 L1165.7 421.7 L1167.7 419 L1169.7 416.2 L1171.7 413.4 L1173.7 410.5 L1175.7 407.4 L1177.7 404.3 L1179.7 401.1 L1181.7 397.8 L1183.7 394.3 L1185.8 390.7 L1187.8 387 L1189.8 383.2 L1191.8 379.2 L1193.8 375 L1195.8 370.7 L1197.8 366.1 L1199.8 361.3 L1201.8 356.3 L1203.8 351 L1205.8 345.4 L1207.8 339.5 L1209.8 333.2 L1211.8 326.4 L1213.8 319.2 L1215.8 311.4 L1217.8 302.9 L1219.8 293.7 L1221.8 283.4 L1223.8 272 L1225.9 259.1 L1227.9 244.2 L1229.9 226.7 L1231.9 205.4 L1233.9 178.2 L1235.9 140.5 L1237.9 78.8 L1239.9 -121.6 L1239.9 44.4Z" fill="#fff" fill-opacity="0.5" fill-rule="evenodd"/>
<path d="M724.6 -121.6 L726.6 78.8 L728.6 140.5 L730.6 178.2 L732.6 205.4 L734.6 226.7 L736.6 244.2 L738.6 259.1 L740.6 272 L742.7 283.4 L744.7 293.7 L746.7 302.9 L748.7 311.4 L750.7 319.2 L752.7 326.4 L754.7 333.2 L756.7 339.5 L758.7 345.4 L760.7 351 L762.7 356.3 L764.7 361.3 L766.7 366.1 L768.7 370.7 L770.7 375 L772.7 379.2 L774.7 383.2 L776.7 387 L778.7 390.7 L780.7 394.3 L782.7 397.8 L784.8 401.1 L786.8 404.3 L788.8 407.4 L790.8 410.5 L792.8 413.4 L794.8 416.2 L796.8 419 L798.8 421.7 L800.8 424.3 L802.8 426.9 L804.8 429.4 L806.8 431.8 L808.8 434.2 L810.8 436.5 L812.8 438.7 L814.8 440.9 L816.8 443.1 L818.8 445.2 L820.8 447.3 L822.8 449.3 L824.9 451.3 L826.9 453.3 L828.9 455.2 L830.9 457 L832.9 458.9 L834.9 460.7 L836.9 462.5 L838.9 464.2 L840.9 465.9 L842.9 467.6 L844.9 469.2 L846.9 470.9 L848.9 472.5 L850.9 474 L852.9 475.6 L854.9 477.1 L856.9 478.6 L858.9 480.1 L860.9 481.6 L862.9 483 L865 484.4 L867 485.8 L869 487.2 L871 488.6 L873 489.9 L875 491.2 L877 492.5 L879 493.8 L881 495.1 L883 496.3 L885 497.6 L887 498.8 L889 500 L891 501.2 L893 502.4 L895 503.5 L897 504.7 L899 505.8 L901 507 L903 508.1 L905.1 509.2 L907.1 510.3 L909.1 511.3 L911.1 512.4 L913.1 513.5 L915.1 514.5 L917.1 515.5 L919.1 516.6 L921.1 517.6 L923.1 518.6 L925.1 519.6 L927.1 520.5 L929.1 521.5 L931.1 522.5 L933.1 523.4 L935.1 524.4 L937.1 525.3 L939.1 526.2 L941.1 527.1 L943.1 528 L945.2 528.9 L947.2 529.8 L949.2 530.7 L951.2 531.6 L953.2 532.5 L955.2 533.3 L957.2 534.2 L959.2 535 L961.2 535.9 L963.2 536.7 L965.2 537.5 L967.2 538.3 L969.2 539.1 L971.2 540 L973.2 540.8 L975.2 541.5 L977.2 542.3 L979.2 543.1 L981.2 543.9 L983.2 543.9 L985.3 543.1 L987.3 542.3 L989.3 541.5 L991.3 540.8 L993.3 540 L995.3 539.1 L997.3 538.3 L999.3 537.5 L1001.3 536.7 L1003.3 535.9 L1005.3 535 L1007.3 534.2 L1009.3 533.3 L1011.3 532.5 L1013.3 531.6 L1015.3 530.7 L1017.3 529.8 L1019.3 528.9 L1021.3 528 L1023.3 527.1 L1025.4 526.2 L1027.4 525.3 L1029.4 524.4 L1031.4 523.4 L1033.4 522.5 L1035.4 521.5 L1037.4 520.5 L1039.4 519.6 L1041.4 518.6 L1043.4 517.6 L1045.4 516.6 L1047.4 515.5 L1049.4 514.5 L1051.4 513.5 L1053.4 512.4 L1055.4 511.3 L1057.4 510.3 L1059.4 509.2 L1061.4 508.1 L1063.4 507 L1065.5 505.8 L1067.5 504.7 L1069.5 503.5 L1071.5 502.4 L1073.5 501.2 L1075.5 500 L1077.5 498.8 L1079.5 497.6 L1081.5 496.3 L1083.5 495.1 L1085.5 493.8 L1087.5 492.5 L1089.5 491.2 L1091.5 489.9 L1093.5 488.6 L1095.5 487.2 L1097.5 485.8 L1099.5 484.4 L1101.5 483 L1103.5 481.6 L1105.6 480.1 L1107.6 478.6 L1109.6 477.1 L1111.6 475.6 L1113.6 474 L1115.6 472.5 L1117.6 470.9 L1119.6 469.2 L1121.6 467.6 L1123.6 465.9 L1125.6 464.2 L1127.6 462.5 L1129.6 460.7 L1131.6 458.9 L1133.6 457 L1135.6 455.2 L1137.6 453.3 L1139.6 451.3 L1141.6 449.3 L1143.6 447.3 L1145.7 445.2 L1147.7 443.1 L1149.7 440.9 L1151.7 438.7 L1153.7 436.5 L1155.7 434.2 L1157.7 431.8 L1159.7 429.4 L1161.7 426.9 L1163.7 424.3 L1165.7 421.7 L1167.7 419 L1169.7 416.2 L1171.7 413.4 L1173.7 410.5 L1175.7 407.4 L1177.7 404.3 L1179.7 401.1 L1181.7 397.8 L1183.7 394.3 L1185.8 390.7 L1187.8 387 L1189.8 383.2 L1191.8 379.2 L1193.8 375 L1195.8 370.7 L1197.8 366.1 L1199.8 361.3 L1201.8 356.3 L1203.8 351 L1205.8 345.4 L1207.8 339.5 L1209.8 333.2 L1211.8 326.4 L1213.8 319.2 L1215.8 311.4 L1217.8 302.9 L1219.8 293.7 L1221.8 283.4 L1223.8 272 L1225.9 259.1 L1227.9 244.2 L1229.9 226.7 L1231.9 205.4 L1233.9 178.2 L1235.9 140.5 L1237.9 78.8 L1239.9 -121.6" fill="none" stroke="#000" stroke-width="0.7"/>
</g>
<rect x="724.5" y="49.4" width="516.7" height="490.7" fill="none" stroke="#262626" stroke-width="0.9"/>
<text x="784.5" y="560.7" font-size="14.8" text-anchor="middle">100</text>
<text x="845.1" y="560.7" font-size="14.8" text-anchor="middle">200</text>
<text x="905.6" y="560.7" font-size="14.8" text-anchor="middle">300</text>
<text x="966.2" y="560.7" font-size="14.8" text-anchor="middle">400</text>
<text x="1026.8" y="560.7" font-size="14.8" text-anchor="middle">500</text>
<text x="1087.3" y="560.7" font-size="14.8" text-anchor="middle">600</text>
<text x="1147.8" y="560.7" font-size="14.8" text-anchor="middle">700</text>
<text x="1208.4" y="560.7" font-size="14.8" text-anchor="middle">800</text>
<text x="718.5" y="119.8" font-size="14.8" text-anchor="end">4</text>
<text x="718.5" y="188.2" font-size="14.8" text-anchor="end">8</text>
<text x="718.5" y="256.6" font-size="14.8" text-anchor="end">16</text>
<text x="718.5" y="325" font-size="14.8" text-anchor="end">32</text>
<text x="718.5" y="393.4" font-size="14.8" text-anchor="end">64</text>
<text x="718.5" y="461.8" font-size="14.8" text-anchor="end">128</text>
<text x="718.5" y="530.2" font-size="14.8" text-anchor="end">256</text>
<path d="M784.5 540.1v-4.5M784.5 49.4v4.5M845.1 540.1v-4.5M845.1 49.4v4.5M905.6 540.1v-4.5M905.6 49.4v4.5M966.2 540.1v-4.5M966.2 49.4v4.5M1026.8 540.1v-4.5M1026.8 49.4v4.5M1087.3 540.1v-4.5M1087.3 49.4v4.5M1147.8 540.1v-4.5M1147.8 49.4v4.5M1208.4 540.1v-4.5M1208.4 49.4v4.5M724.5 114.6h4.5M1241.2 114.6h-4.5M724.5 183h4.5M1241.2 183h-4.5M724.5 251.4h4.5M1241.2 251.4h-4.5M724.5 319.8h4.5M1241.2 319.8h-4.5M724.5 388.2h4.5M1241.2 388.2h-4.5M724.5 456.6h4.5M1241.2 456.6h-4.5M724.5 525h4.5M1241.2 525h-4.5" stroke="#262626" stroke-width="0.9" fill="none"/>
<rect x="548.3" y="32.2" width="22.1" height="492" fill="url(#jetg)" stroke="#262626" stroke-width="0.8"/>
<text x="576.2" y="78.1" font-size="13.2">16</text>
<text x="576.2" y="129.6" font-size="13.2">8</text>
<text x="576.2" y="181" font-size="13.2">4</text>
<text x="576.2" y="232.5" font-size="13.2">2</text>
<text x="576.2" y="283.9" font-size="13.2">1</text>
<text x="576.2" y="335.3" font-size="13.2">1/2</text>
<text x="576.2" y="386.8" font-size="13.2">1/4</text>
<text x="576.2" y="438.3" font-size="13.2">1/8</text>
<text x="576.2" y="489.7" font-size="13.2">1/16</text>
<path d="M570.4 73.4h-4M570.4 124.9h-4M570.4 176.3h-4M570.4 227.8h-4M570.4 279.2h-4M570.4 330.6h-4M570.4 382.1h-4M570.4 433.6h-4M570.4 485h-4" stroke="#262626" stroke-width="0.8" fill="none"/>
<rect x="1252.4" y="49.4" width="21.9" height="490.7" fill="url(#jetg)" stroke="#262626" stroke-width="0.8"/>
<text x="1279.8" y="54.1" font-size="13.2">1</text>
<text x="1279.8" y="103.2" font-size="13.2">0.9</text>
<text x="1279.8" y="152.2" font-size="13.2">0.8</text>
<text x="1279.8" y="201.3" font-size="13.2">0.7</text>
<text x="1279.8" y="250.4" font-size="13.2">0.6</text>
<text x="1279.8" y="299.4" font-size="13.2">0.5</text>
<text x="1279.8" y="348.5" font-size="13.2">0.4</text>
<text x="1279.8" y="397.6" font-size="13.2">0.3</text>
<text x="1279.8" y="446.7" font-size="13.2">0.2</text>
<text x="1279.8" y="495.7" font-size="13.2">0.1</text>
<text x="1279.8" y="544.8" font-size="13.2">0</text>
<path d="M1274.3 98.5h-4M1274.3 147.5h-4M1274.3 196.6h-4M1274.3 245.7h-4M1274.3 294.8h-4M1274.3 343.8h-4M1274.3 392.9h-4M1274.3 442h-4M1274.3 491h-4" stroke="#262626" stroke-width="0.8" fill="none"/>
<text x="21.4" y="24.6" font-size="30.4" font-weight="bold" style="fill:#000">A</text>
<text x="670.4" y="24.6" font-size="30.4" font-weight="bold" style="fill:#000">B</text>
<text y="568.5" font-size="16.3" letter-spacing="0.75"><tspan x="236.3">Time</tspan><tspan x="271.5" style="font-family:'Noto Serif CJK SC',serif">（</tspan><tspan x="290.6">Month</tspan><tspan x="339" style="font-family:'Noto Serif CJK SC',serif">）</tspan></text>
<text x="983" y="582.5" font-size="16.4" text-anchor="middle">Time(Month)</text>
<text transform="translate(14.8 278.9) rotate(-90)" font-size="16" letter-spacing="0.75" text-anchor="middle">Cycle(Month)</text>
<text transform="translate(687 349.8) rotate(-90)" font-size="16">Cycle(Month<tspan dx="6" style="font-family:'Noto Serif CJK SC',serif">）</tspan></text>
</svg></body></html>
